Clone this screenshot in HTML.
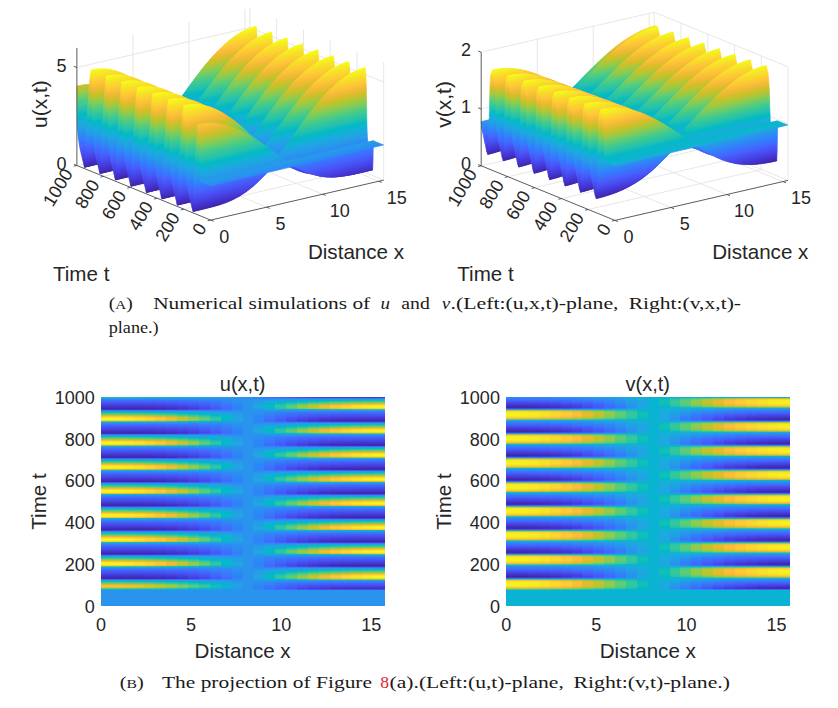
<!DOCTYPE html>
<html><head><meta charset="utf-8"><title>figure</title>
<style>html,body{margin:0;padding:0;background:#fff}svg{display:block}text{font-family:"Liberation Sans",sans-serif}text.s{font-family:"Liberation Serif",serif}</style></head>
<body><svg width="838" height="708" viewBox="0 0 838 708">
<defs>
<linearGradient id="uz" gradientUnits="userSpaceOnUse" x1="0" y1="0.07" x2="0" y2="5.3" gradientTransform="matrix(11.0 -2.6 0.0 -19.6 210.7 220.1)"><stop offset="0.000" stop-color="#3e26a8"/><stop offset="0.048" stop-color="#4332cb"/><stop offset="0.095" stop-color="#4741e5"/><stop offset="0.143" stop-color="#4852f4"/><stop offset="0.190" stop-color="#4563fd"/><stop offset="0.238" stop-color="#3875fe"/><stop offset="0.286" stop-color="#2e87f7"/><stop offset="0.333" stop-color="#2797eb"/><stop offset="0.381" stop-color="#20a5e3"/><stop offset="0.429" stop-color="#12b1d6"/><stop offset="0.476" stop-color="#02bac3"/><stop offset="0.524" stop-color="#24c1ae"/><stop offset="0.571" stop-color="#37c897"/><stop offset="0.619" stop-color="#57cc7a"/><stop offset="0.667" stop-color="#81cc59"/><stop offset="0.714" stop-color="#abc739"/><stop offset="0.762" stop-color="#d1bf27"/><stop offset="0.810" stop-color="#f0ba36"/><stop offset="0.857" stop-color="#fec338"/><stop offset="0.905" stop-color="#fad62d"/><stop offset="0.952" stop-color="#f5e924"/><stop offset="1.000" stop-color="#f9fb15"/></linearGradient>
<g id="uper"><polygon transform="translate(-15.42 -6.29)" points="210.7,173.6 217.4,172.1 224.0,170.8 230.7,169.7 237.3,168.7 244.0,167.9 250.6,167.2 257.3,166.7 263.9,166.3 270.6,166.0 277.2,165.8 283.9,165.6 290.5,165.5 297.1,165.4 303.8,168.0 310.4,170.4 317.1,172.5 323.7,174.0 330.4,174.9 337.0,175.2 343.7,175.0 350.3,174.3 357.0,173.2 363.6,171.9 370.2,170.4 376.9,168.8 383.5,167.3 383.4,170.4 376.8,172.0 370.1,173.5 363.5,175.0 356.9,176.3 350.2,177.3 343.6,177.9 336.9,177.9 330.3,177.3 323.6,176.1 317.0,174.1 310.3,171.6 303.7,168.6 297.0,165.4 290.4,165.2 283.8,165.0 277.1,164.9 270.5,164.8 263.8,164.9 257.2,165.0 250.5,165.4 243.9,165.8 237.2,166.5 230.6,167.3 223.9,168.4 217.3,169.6 210.7,171.1"/><polygon transform="translate(-15.19 -6.20)" points="210.9,182.0 217.5,180.4 224.2,178.9 230.8,177.5 237.5,176.1 244.1,174.8 250.8,173.5 257.4,172.3 264.0,171.1 270.7,169.9 277.3,168.8 284.0,167.7 290.6,166.6 297.3,165.5 303.9,165.9 310.6,166.2 317.2,166.3 323.9,166.2 330.5,165.8 337.2,165.2 343.8,164.2 350.4,163.1 357.1,161.7 363.7,160.3 370.4,158.8 377.0,157.2 383.7,155.6 383.3,167.2 376.7,168.7 370.0,170.3 363.4,171.8 356.7,173.1 350.1,174.2 343.4,174.9 336.8,175.1 330.1,174.8 323.5,173.9 316.8,172.4 310.2,170.3 303.6,167.9 296.9,165.3 290.3,165.4 283.6,165.5 277.0,165.7 270.3,165.9 263.7,166.2 257.0,166.6 250.4,167.1 243.7,167.8 237.1,168.6 230.5,169.6 223.8,170.7 217.2,172.0 210.5,173.5"/><polygon transform="translate(-14.78 -6.03)" points="210.9,188.5 217.6,186.9 224.2,185.3 230.9,183.7 237.5,182.1 244.1,180.5 250.8,178.8 257.4,177.1 264.1,175.3 270.7,173.5 277.4,171.5 284.0,169.6 290.7,167.5 297.3,165.5 304.0,163.8 310.6,162.1 317.2,160.4 323.9,158.7 330.5,157.0 337.2,155.3 343.8,153.7 350.5,152.0 357.1,150.4 363.8,148.8 370.4,147.2 377.1,145.6 383.7,144.0 383.3,155.5 376.6,157.0 370.0,158.6 363.3,160.1 356.7,161.6 350.0,162.9 343.4,164.1 336.8,165.0 330.1,165.7 323.5,166.1 316.8,166.2 310.2,166.0 303.5,165.7 296.9,165.3 290.2,166.4 283.6,167.5 276.9,168.6 270.3,169.8 263.6,170.9 257.0,172.1 250.4,173.4 243.7,174.6 237.1,176.0 230.4,177.4 223.8,178.8 217.1,180.3 210.5,181.8"/><polygon transform="translate(-14.30 -5.84)" points="211.0,193.6 217.6,192.0 224.3,190.4 230.9,188.8 237.6,187.2 244.2,185.5 250.8,183.6 257.5,181.6 264.1,179.3 270.8,176.9 277.4,174.3 284.1,171.5 290.7,168.5 297.4,165.5 304.0,162.4 310.7,159.4 317.3,156.4 323.9,153.5 330.6,150.6 337.2,147.9 343.9,145.2 350.5,142.7 357.2,140.4 363.8,138.2 370.5,136.2 377.1,134.4 383.8,132.7 383.2,143.8 376.6,145.4 369.9,147.0 363.3,148.6 356.6,150.2 350.0,151.8 343.3,153.5 336.7,155.1 330.1,156.8 323.4,158.5 316.8,160.2 310.1,161.9 303.5,163.6 296.8,165.3 290.2,167.3 283.5,169.4 276.9,171.3 270.2,173.3 263.6,175.1 257.0,176.9 250.3,178.6 243.7,180.3 237.0,181.9 230.4,183.5 223.7,185.1 217.1,186.7 210.4,188.3"/><polygon transform="translate(-13.62 -5.56)" points="211.1,199.0 217.8,197.4 224.4,195.8 231.0,194.2 237.7,192.5 244.3,190.6 251.0,188.6 257.6,186.2 264.3,183.5 270.9,180.5 277.6,177.1 284.2,173.5 290.9,169.6 297.5,165.5 304.1,161.1 310.8,156.7 317.4,152.4 324.1,148.3 330.7,144.2 337.4,140.4 344.0,136.8 350.7,133.5 357.3,130.5 364.0,127.7 370.6,125.3 377.3,123.2 383.9,121.5 383.1,132.4 376.4,134.1 369.8,135.9 363.1,137.9 356.5,140.1 349.8,142.5 343.2,145.0 336.6,147.6 329.9,150.3 323.3,153.2 316.6,156.1 310.0,159.1 303.3,162.2 296.7,165.2 290.0,168.2 283.4,171.2 276.7,174.0 270.1,176.6 263.5,179.1 256.8,181.3 250.2,183.3 243.5,185.2 236.9,186.9 230.2,188.6 223.6,190.2 216.9,191.8 210.3,193.3"/><polygon transform="translate(-12.78 -5.21)" points="211.1,203.0 217.8,201.5 224.4,199.9 231.1,198.2 237.7,196.5 244.4,194.5 251.0,192.3 257.7,189.7 264.3,186.7 270.9,183.2 277.6,179.3 284.2,175.0 290.9,170.3 297.5,165.6 304.2,159.8 310.8,154.0 317.5,148.4 324.1,143.0 330.8,137.8 337.4,132.8 344.0,128.3 350.7,124.1 357.3,120.3 364.0,117.0 370.6,114.2 377.3,111.8 383.9,110.0 383.1,121.1 376.4,122.9 369.8,124.9 363.1,127.4 356.5,130.1 349.8,133.2 343.2,136.5 336.5,140.1 329.9,143.9 323.2,147.9 316.6,152.1 310.0,156.4 303.3,160.8 296.7,165.2 290.0,169.2 283.4,173.1 276.7,176.8 270.1,180.2 263.4,183.2 256.8,185.9 250.1,188.2 243.5,190.3 236.8,192.2 230.2,193.9 223.6,195.5 216.9,197.1 210.3,198.6"/><polygon transform="translate(-11.97 -4.88)" points="211.1,206.1 217.7,204.5 224.4,202.9 231.0,201.3 237.7,199.5 244.3,197.5 251.0,195.1 257.6,192.3 264.2,189.1 270.9,185.2 277.5,180.9 284.2,176.1 290.8,170.9 297.5,165.5 304.1,158.4 310.8,151.3 317.4,144.3 324.1,137.6 330.7,131.3 337.3,125.3 344.0,119.7 350.6,114.7 357.3,110.2 363.9,106.3 370.6,103.1 377.2,100.5 383.9,98.6 383.1,109.7 376.5,111.5 369.8,113.8 363.2,116.7 356.5,120.0 349.9,123.8 343.2,127.9 336.6,132.5 329.9,137.4 323.3,142.6 316.7,148.1 310.0,153.7 303.4,159.4 296.7,165.2 290.1,170.0 283.4,174.6 276.8,179.0 270.1,182.9 263.5,186.4 256.8,189.4 250.2,192.0 243.6,194.2 236.9,196.1 230.3,197.9 223.6,199.5 217.0,201.1 210.3,202.7"/><polygon transform="translate(-11.22 -4.58)" points="211.1,209.0 217.7,207.4 224.4,205.8 231.0,204.1 237.7,202.3 244.3,200.2 250.9,197.8 257.6,194.8 264.2,191.3 270.9,187.2 277.5,182.4 284.2,177.1 290.8,171.4 297.5,165.5 304.1,157.0 310.8,148.5 317.4,140.2 324.0,132.3 330.7,124.7 337.3,117.6 344.0,111.1 350.6,105.2 357.3,100.0 363.9,95.5 370.6,91.9 377.2,89.1 383.9,87.1 383.1,98.3 376.5,100.2 369.8,102.8 363.2,106.0 356.5,109.9 349.9,114.4 343.2,119.4 336.6,125.0 330.0,130.9 323.3,137.3 316.7,144.0 310.0,151.0 303.4,158.1 296.7,165.2 290.1,170.6 283.4,175.8 276.8,180.6 270.1,184.9 263.5,188.8 256.9,192.0 250.2,194.8 243.6,197.2 236.9,199.2 230.3,201.0 223.6,202.6 217.0,204.2 210.3,205.8"/><polygon transform="translate(-10.14 -4.14)" points="211.4,214.5 218.1,212.9 224.7,211.3 231.3,209.7 238.0,207.8 244.6,205.6 251.3,202.9 257.9,199.6 264.6,195.7 271.2,190.9 277.9,185.4 284.5,179.2 291.2,172.6 297.8,165.7 304.5,155.7 311.1,145.9 317.7,136.3 324.4,127.1 331.0,118.3 337.7,110.1 344.3,102.6 351.0,95.9 357.6,89.9 364.3,84.9 370.9,80.8 377.6,77.8 384.2,75.7 382.8,86.6 376.1,88.6 369.5,91.4 362.8,95.1 356.2,99.6 349.5,104.8 342.9,110.6 336.3,117.2 329.6,124.3 323.0,131.8 316.3,139.8 309.7,148.1 303.0,156.5 296.4,165.1 289.7,171.0 283.1,176.7 276.4,182.0 269.8,186.7 263.2,190.9 256.5,194.4 249.9,197.3 243.2,199.8 236.6,201.9 229.9,203.7 223.3,205.4 216.6,207.0 210.0,208.5"/><polygon transform="translate(-9.01 -3.68)" points="211.1,218.1 217.8,216.6 224.4,215.0 231.1,213.2 237.7,211.3 244.4,209.0 251.0,206.2 257.6,202.7 264.3,198.4 270.9,193.3 277.6,187.3 284.2,180.5 290.9,173.2 297.5,165.6 304.2,156.6 310.8,147.8 317.5,139.2 324.1,130.9 330.7,123.1 337.4,115.7 344.0,108.9 350.7,102.8 357.3,97.4 364.0,92.8 370.6,89.1 377.3,86.2 383.9,84.2 383.1,75.2 376.4,77.3 369.8,80.4 363.1,84.5 356.5,89.5 349.8,95.4 343.2,102.1 336.5,109.7 329.9,117.8 323.3,126.6 316.6,135.8 310.0,145.4 303.3,155.2 296.7,165.2 290.0,172.1 283.4,178.8 276.7,184.9 270.1,190.4 263.4,195.2 256.8,199.2 250.1,202.4 243.5,205.1 236.9,207.3 230.2,209.2 223.6,210.9 216.9,212.5 210.3,214.1"/><polygon transform="translate(-8.39 -3.42)" points="210.9,218.8 217.5,217.2 224.2,215.6 230.8,213.9 237.5,212.0 244.1,209.7 250.8,206.8 257.4,203.3 264.1,198.9 270.7,193.7 277.3,187.6 284.0,180.7 290.6,173.2 297.3,165.5 303.9,157.9 310.6,150.5 317.2,143.2 323.9,136.2 330.5,129.5 337.2,123.2 343.8,117.4 350.5,112.1 357.1,107.5 363.7,103.4 370.4,100.1 377.0,97.4 383.7,95.5 383.3,83.9 376.6,85.9 370.0,88.8 363.4,92.6 356.7,97.2 350.1,102.6 343.4,108.7 336.8,115.4 330.1,122.8 323.5,130.7 316.8,139.0 310.2,147.6 303.5,156.4 296.9,165.3 290.3,172.9 283.6,180.2 277.0,187.0 270.3,193.0 263.7,198.2 257.0,202.5 250.4,206.0 243.7,208.8 237.1,211.1 230.4,213.0 223.8,214.7 217.2,216.3 210.5,217.9"/><polygon transform="translate(-8.18 -3.34)" points="210.7,218.4 217.4,216.9 224.0,215.3 230.7,213.5 237.3,211.6 243.9,209.3 250.6,206.5 257.2,203.0 263.9,198.6 270.5,193.4 277.2,187.3 283.8,180.5 290.5,173.1 297.1,165.4 303.8,158.0 310.4,150.8 317.0,143.7 323.7,136.8 330.3,130.3 337.0,124.1 343.6,118.5 350.3,113.3 356.9,108.8 363.6,104.8 370.2,101.5 376.9,98.9 383.5,97.0 383.5,95.4 376.8,97.3 370.2,100.0 363.5,103.3 356.9,107.4 350.2,112.0 343.6,117.3 337.0,123.1 330.3,129.4 323.7,136.1 317.0,143.1 310.4,150.4 303.7,157.8 297.1,165.4 290.4,173.1 283.8,180.6 277.1,187.5 270.5,193.6 263.8,198.8 257.2,203.2 250.6,206.7 243.9,209.6 237.3,211.9 230.6,213.8 224.0,215.5 217.3,217.1 210.7,218.7"/><polygon transform="translate(-8.08 -3.30)" points="210.8,216.8 217.4,215.3 224.1,213.7 230.7,212.0 237.4,210.0 244.0,207.8 250.7,205.0 257.3,201.6 263.9,197.4 270.6,192.4 277.2,186.5 283.9,179.9 290.5,172.8 297.2,165.4 303.8,159.5 310.5,153.6 317.1,147.8 323.8,142.3 330.4,137.0 337.1,131.9 343.7,127.3 350.3,123.0 357.0,119.2 363.6,115.8 370.3,112.9 376.9,110.6 383.6,108.7 383.4,96.9 376.8,98.9 370.1,101.5 363.5,104.8 356.8,108.7 350.2,113.3 343.5,118.4 336.9,124.1 330.2,130.2 323.6,136.8 316.9,143.6 310.3,150.7 303.7,158.0 297.0,165.3 290.4,173.1 283.7,180.5 277.1,187.3 270.4,193.4 263.8,198.6 257.1,202.9 250.5,206.5 243.8,209.3 237.2,211.6 230.6,213.5 223.9,215.2 217.3,216.8 210.6,218.4"/><polygon transform="translate(-7.92 -3.23)" points="210.8,213.6 217.4,212.1 224.1,210.5 230.7,208.8 237.4,206.9 244.0,204.7 250.6,202.1 257.3,198.8 263.9,194.9 270.6,190.2 277.2,184.8 283.9,178.8 290.5,172.2 297.2,165.4 303.8,160.9 310.5,156.5 317.1,152.2 323.8,148.0 330.4,143.9 337.0,140.1 343.7,136.4 350.3,133.1 357.0,130.0 363.6,127.2 370.3,124.8 376.9,122.7 383.6,121.0 383.4,108.7 376.8,110.5 370.1,112.9 363.5,115.7 356.8,119.1 350.2,122.9 343.5,127.2 336.9,131.9 330.2,136.9 323.6,142.2 317.0,147.8 310.3,153.5 303.7,159.4 297.0,165.3 290.4,172.8 283.7,179.9 277.1,186.4 270.4,192.3 263.8,197.3 257.1,201.5 250.5,204.9 243.9,207.7 237.2,210.0 230.6,211.9 223.9,213.6 217.3,215.2 210.6,216.8"/><polygon transform="translate(-7.74 -3.16)" points="210.8,208.3 217.4,206.8 224.1,205.2 230.7,203.5 237.4,201.7 244.0,199.6 250.7,197.2 257.3,194.3 264.0,190.8 270.6,186.7 277.3,182.0 283.9,176.8 290.5,171.2 297.2,165.4 303.8,162.4 310.5,159.3 317.1,156.3 323.8,153.4 330.4,150.5 337.1,147.8 343.7,145.1 350.4,142.6 357.0,140.3 363.7,138.1 370.3,136.1 376.9,134.3 383.6,132.6 383.4,120.9 376.7,122.6 370.1,124.7 363.5,127.2 356.8,129.9 350.2,133.0 343.5,136.4 336.9,140.0 330.2,143.8 323.6,147.9 316.9,152.1 310.3,156.4 303.6,160.9 297.0,165.3 290.3,172.1 283.7,178.7 277.1,184.8 270.4,190.2 263.8,194.8 257.1,198.8 250.5,202.0 243.8,204.6 237.2,206.8 230.5,208.7 223.9,210.4 217.2,212.0 210.6,213.6"/><polygon transform="translate(-7.46 -3.04)" points="210.9,196.6 217.5,195.1 224.2,193.5 230.8,191.9 237.5,190.2 244.1,188.4 250.8,186.4 257.4,184.2 264.0,181.7 270.7,178.9 277.3,175.9 284.0,172.6 290.6,169.1 297.3,165.5 303.9,163.4 310.6,161.3 317.2,159.3 323.9,157.3 330.5,155.3 337.2,153.4 343.8,151.4 350.4,149.6 357.1,147.7 363.7,146.0 370.4,144.3 377.0,142.6 383.7,141.0 383.3,132.5 376.7,134.1 370.0,136.0 363.4,138.0 356.7,140.2 350.1,142.5 343.4,145.0 336.8,147.6 330.1,150.4 323.5,153.3 316.8,156.2 310.2,159.2 303.6,162.2 296.9,165.3 290.3,171.1 283.6,176.7 277.0,181.9 270.3,186.6 263.7,190.7 257.0,194.2 250.4,197.1 243.7,199.5 237.1,201.6 230.5,203.4 223.8,205.1 217.2,206.7 210.5,208.2"/><polygon transform="translate(-7.06 -2.88)" points="210.9,185.0 217.6,183.4 224.2,181.9 230.9,180.3 237.5,178.8 244.1,177.3 250.8,175.8 257.4,174.3 264.1,172.8 270.7,171.3 277.4,169.9 284.0,168.4 290.7,166.9 297.3,165.5 304.0,164.4 310.6,163.2 317.2,162.1 323.9,160.9 330.5,159.6 337.2,158.2 343.8,156.8 350.5,155.3 357.1,153.8 363.8,152.2 370.4,150.7 377.1,149.1 383.7,147.5 383.3,140.8 376.6,142.4 370.0,144.1 363.3,145.8 356.7,147.6 350.0,149.4 343.4,151.3 336.8,153.2 330.1,155.1 323.5,157.1 316.8,159.1 310.2,161.2 303.5,163.2 296.9,165.3 290.2,168.9 283.6,172.4 276.9,175.7 270.3,178.8 263.6,181.5 257.0,184.0 250.4,186.2 243.7,188.2 237.1,190.0 230.4,191.7 223.8,193.3 217.1,194.9 210.5,196.5"/><polygon transform="translate(-6.56 -2.68)" points="211.0,173.4 217.6,171.9 224.3,170.6 230.9,169.5 237.6,168.5 244.2,167.8 250.9,167.1 257.5,166.6 264.1,166.2 270.8,166.0 277.4,165.8 284.1,165.6 290.7,165.6 297.4,165.5 304.0,165.4 310.7,165.2 317.3,164.9 324.0,164.4 330.6,163.7 337.2,162.8 343.9,161.7 350.5,160.4 357.2,159.0 363.8,157.5 370.5,156.0 377.1,154.4 383.8,152.8 383.2,147.3 376.6,148.9 369.9,150.5 363.3,152.0 356.6,153.6 350.0,155.1 343.3,156.6 336.7,158.0 330.0,159.4 323.4,160.6 316.8,161.9 310.1,163.0 303.5,164.2 296.8,165.3 290.2,166.7 283.5,168.2 276.9,169.7 270.2,171.1 263.6,172.6 256.9,174.1 250.3,175.6 243.7,177.1 237.0,178.6 230.4,180.1 223.7,181.7 217.1,183.2 210.4,184.8"/><polygon transform="translate(-5.88 -2.40)" points="211.1,162.2 217.8,160.8 224.4,159.7 231.0,159.0 237.7,158.6 244.3,158.5 251.0,158.7 257.6,159.2 264.3,159.9 270.9,160.8 277.6,161.8 284.2,163.0 290.9,164.2 297.5,165.5 304.1,166.4 310.8,167.2 317.4,167.8 324.1,168.0 330.7,167.9 337.4,167.4 344.0,166.6 350.7,165.6 357.3,164.3 364.0,162.9 370.6,161.3 377.3,159.8 383.9,158.2 383.1,152.6 376.4,154.1 369.8,155.7 363.1,157.2 356.5,158.7 349.8,160.1 343.2,161.4 336.6,162.5 329.9,163.4 323.3,164.1 316.6,164.6 310.0,164.9 303.3,165.1 296.7,165.2 290.0,165.3 283.4,165.4 276.7,165.5 270.1,165.7 263.5,166.0 256.8,166.3 250.2,166.8 243.5,167.5 236.9,168.3 230.2,169.2 223.6,170.3 216.9,171.6 210.3,173.1"/><polygon transform="translate(-5.03 -2.05)" points="211.1,150.7 217.8,149.4 224.4,148.6 231.1,148.3 237.7,148.5 244.4,149.1 251.0,150.2 257.7,151.6 264.3,153.4 270.9,155.5 277.6,157.8 284.2,160.3 290.9,162.9 297.5,165.6 304.2,167.2 310.8,168.7 317.5,169.9 324.1,170.7 330.8,171.0 337.4,170.9 344.0,170.3 350.7,169.4 357.3,168.2 364.0,166.9 370.6,165.4 377.3,163.8 383.9,162.2 383.1,157.9 376.4,159.4 369.8,161.0 363.1,162.5 356.5,163.9 349.8,165.2 343.2,166.3 336.5,167.1 329.9,167.5 323.2,167.6 316.6,167.4 310.0,166.9 303.3,166.1 296.7,165.2 290.0,163.9 283.4,162.6 276.7,161.5 270.1,160.4 263.4,159.5 256.8,158.8 250.1,158.4 243.5,158.2 236.8,158.3 230.2,158.7 223.6,159.4 216.9,160.4 210.3,161.8"/><polygon transform="translate(-4.22 -1.72)" points="211.1,139.3 217.7,138.0 224.4,137.5 231.0,137.6 237.7,138.3 244.3,139.7 251.0,141.6 257.6,144.0 264.2,146.9 270.9,150.1 277.5,153.7 284.2,157.5 290.8,161.5 297.5,165.5 304.1,167.8 310.8,169.8 317.4,171.5 324.1,172.7 330.7,173.4 337.3,173.5 344.0,173.2 350.6,172.4 357.3,171.2 363.9,169.9 370.6,168.4 377.2,166.9 383.9,165.3 383.1,161.9 376.5,163.5 369.8,165.0 363.2,166.5 356.5,167.9 349.9,169.1 343.2,170.0 336.6,170.6 329.9,170.7 323.3,170.3 316.7,169.6 310.0,168.4 303.4,166.9 296.7,165.2 290.1,162.5 283.4,159.9 276.8,157.4 270.1,155.1 263.5,153.0 256.8,151.3 250.2,149.8 243.6,148.8 236.9,148.1 230.3,148.0 223.6,148.3 217.0,149.1 210.3,150.4"/><polygon transform="translate(-3.48 -1.42)" points="211.1,127.8 217.7,126.6 224.4,126.3 231.0,126.8 237.7,128.1 244.3,130.2 250.9,133.0 257.6,136.4 264.2,140.3 270.9,144.8 277.5,149.6 284.2,154.7 290.8,160.1 297.5,165.5 304.1,168.3 310.8,170.9 317.4,173.0 324.0,174.6 330.7,175.6 337.3,176.0 344.0,175.8 350.6,175.1 357.3,174.1 363.9,172.8 370.6,171.3 377.2,169.7 383.9,168.2 383.1,165.0 376.5,166.5 369.8,168.1 363.2,169.6 356.5,170.9 349.9,172.1 343.2,172.9 336.6,173.2 330.0,173.1 323.3,172.4 316.7,171.2 310.0,169.5 303.4,167.5 296.7,165.2 290.1,161.2 283.4,157.2 276.8,153.4 270.1,149.8 263.5,146.6 256.9,143.7 250.2,141.3 243.6,139.4 236.9,138.0 230.3,137.3 223.6,137.2 217.0,137.7 210.3,139.0"/><polygon transform="translate(-2.41 -0.98)" points="211.4,116.5 218.0,115.5 224.7,115.4 231.3,116.3 238.0,118.2 244.6,121.0 251.3,124.6 257.9,129.0 264.6,134.0 271.2,139.6 277.9,145.7 284.5,152.2 291.2,158.9 297.8,165.7 304.4,169.4 311.1,173.0 317.7,176.0 324.4,178.3 331.0,179.9 337.7,180.8 344.3,180.9 351.0,180.4 357.6,179.5 364.3,178.2 370.9,176.8 377.5,175.2 384.2,173.6 382.8,167.7 376.1,169.3 369.5,170.9 362.8,172.3 356.2,173.6 349.6,174.7 342.9,175.4 336.3,175.6 329.6,175.2 323.0,174.2 316.3,172.6 309.7,170.4 303.0,167.9 296.4,165.1 289.7,159.6 283.1,154.3 276.5,149.2 269.8,144.3 263.2,139.9 256.5,135.9 249.9,132.5 243.2,129.8 236.6,127.7 229.9,126.4 223.3,125.9 216.6,126.2 210.0,127.3"/><polygon transform="translate(-1.29 -0.53)" points="211.1,124.6 217.8,123.4 224.4,123.2 231.1,123.8 237.7,125.3 244.3,127.6 251.0,130.6 257.6,134.3 264.3,138.5 270.9,143.3 277.6,148.5 284.2,154.0 290.9,159.7 297.5,165.6 304.2,170.0 310.8,174.2 317.4,177.8 324.1,180.6 330.7,182.7 337.4,183.8 344.0,184.1 350.7,183.8 357.3,183.0 364.0,181.7 370.6,180.3 377.3,178.8 383.9,177.2 383.1,173.2 376.4,174.8 369.8,176.3 363.1,177.8 356.5,179.0 349.8,180.0 343.2,180.4 336.5,180.3 329.9,179.5 323.3,177.9 316.6,175.5 310.0,172.5 303.3,169.0 296.7,165.2 290.0,158.4 283.4,151.7 276.7,145.3 270.1,139.2 263.4,133.5 256.8,128.5 250.2,124.1 243.5,120.5 236.9,117.7 230.2,115.9 223.6,114.9 216.9,115.0 210.3,116.1"/><polygon transform="translate(-0.67 -0.27)" points="210.9,136.0 217.5,134.8 224.2,134.3 230.8,134.6 237.5,135.5 244.1,137.0 250.8,139.1 257.4,141.8 264.1,145.0 270.7,148.6 277.4,152.5 284.0,156.7 290.6,161.0 297.3,165.5 303.9,170.1 310.6,174.4 317.2,178.2 323.9,181.1 330.5,183.2 337.2,184.5 343.8,184.8 350.5,184.6 357.1,183.7 363.8,182.5 370.4,181.1 377.0,179.5 383.7,178.0 383.3,176.9 376.6,178.5 370.0,180.0 363.3,181.5 356.7,182.7 350.1,183.6 343.4,183.9 336.8,183.5 330.1,182.4 323.5,180.4 316.8,177.5 310.2,173.9 303.5,169.8 296.9,165.3 290.2,159.5 283.6,153.7 277.0,148.2 270.3,143.0 263.7,138.3 257.0,134.0 250.4,130.3 243.7,127.3 237.1,125.1 230.4,123.6 223.8,123.0 217.1,123.2 210.5,124.3"/><polygon transform="translate(-0.38 -0.15)" points="210.8,147.8 217.4,146.5 224.1,145.7 230.7,145.5 237.4,145.8 244.0,146.6 250.7,147.9 257.3,149.6 264.0,151.6 270.6,154.0 277.2,156.6 283.9,159.4 290.5,162.4 297.2,165.4 303.8,169.8 310.5,173.8 317.1,177.3 323.8,180.1 330.4,182.0 337.1,183.1 343.7,183.4 350.4,183.1 357.0,182.2 363.6,181.0 370.3,179.5 376.9,178.0 383.6,176.4 383.4,177.8 376.7,179.4 370.1,180.9 363.5,182.4 356.8,183.6 350.2,184.4 343.5,184.7 336.9,184.3 330.2,183.1 323.6,181.0 316.9,178.0 310.3,174.3 303.6,170.0 297.0,165.3 290.4,160.9 283.7,156.6 277.1,152.4 270.4,148.5 263.8,144.9 257.1,141.7 250.5,139.0 243.8,136.9 237.2,135.3 230.5,134.4 223.9,134.2 217.3,134.7 210.6,135.9"/><polygon transform="translate(-0.21 -0.09)" points="210.8,159.8 217.4,158.4 224.1,157.4 230.7,156.8 237.4,156.5 244.0,156.6 250.6,156.9 257.3,157.6 263.9,158.5 270.6,159.6 277.2,160.9 283.9,162.3 290.5,163.8 297.2,165.4 303.8,169.2 310.5,172.7 317.1,175.7 323.8,178.0 330.4,179.6 337.0,180.4 343.7,180.5 350.3,180.1 357.0,179.1 363.6,177.9 370.3,176.4 376.9,174.9 383.6,173.3 383.4,176.3 376.8,177.9 370.1,179.4 363.5,180.9 356.8,182.1 350.2,183.0 343.5,183.3 336.9,183.0 330.2,181.9 323.6,180.0 317.0,177.2 310.3,173.7 303.7,169.7 297.0,165.3 290.4,162.3 283.7,159.4 277.1,156.6 270.4,153.9 263.8,151.6 257.1,149.5 250.5,147.8 243.9,146.6 237.2,145.8 230.6,145.5 223.9,145.7 217.3,146.4 210.6,147.7"/><polygon transform="translate(-0.07 -0.03)" points="210.8,171.1 217.4,169.7 224.1,168.4 230.7,167.4 237.3,166.5 244.0,165.9 250.6,165.4 257.3,165.1 263.9,164.9 270.6,164.9 277.2,164.9 283.9,165.0 290.5,165.2 297.2,165.4 303.8,168.6 310.5,171.6 317.1,174.2 323.7,176.1 330.4,177.4 337.0,178.0 343.7,177.9 350.3,177.3 357.0,176.3 363.6,175.0 370.3,173.6 376.9,172.0 383.6,170.5 383.4,173.2 376.8,174.8 370.1,176.3 363.5,177.8 356.8,179.1 350.2,180.0 343.5,180.5 336.9,180.4 330.3,179.5 323.6,177.9 317.0,175.6 310.3,172.6 303.7,169.1 297.0,165.4 290.4,163.8 283.7,162.3 277.1,160.8 270.4,159.6 263.8,158.4 257.2,157.5 250.5,156.9 243.9,156.5 237.2,156.5 230.6,156.7 223.9,157.4 217.3,158.4 210.6,159.8"/></g>
<linearGradient id="vz" gradientUnits="userSpaceOnUse" x1="0" y1="0.25" x2="0" y2="1.87" gradientTransform="matrix(11.0 -2.6 0.0 -56.8 615.0 220.4)"><stop offset="0.000" stop-color="#3e26a8"/><stop offset="0.048" stop-color="#4332cb"/><stop offset="0.095" stop-color="#4741e5"/><stop offset="0.143" stop-color="#4852f4"/><stop offset="0.190" stop-color="#4563fd"/><stop offset="0.238" stop-color="#3875fe"/><stop offset="0.286" stop-color="#2e87f7"/><stop offset="0.333" stop-color="#2797eb"/><stop offset="0.381" stop-color="#20a5e3"/><stop offset="0.429" stop-color="#12b1d6"/><stop offset="0.476" stop-color="#02bac3"/><stop offset="0.524" stop-color="#24c1ae"/><stop offset="0.571" stop-color="#37c897"/><stop offset="0.619" stop-color="#57cc7a"/><stop offset="0.667" stop-color="#81cc59"/><stop offset="0.714" stop-color="#abc739"/><stop offset="0.762" stop-color="#d1bf27"/><stop offset="0.810" stop-color="#f0ba36"/><stop offset="0.857" stop-color="#fec338"/><stop offset="0.905" stop-color="#fad62d"/><stop offset="0.952" stop-color="#f5e924"/><stop offset="1.000" stop-color="#f9fb15"/></linearGradient>
<g id="vper"><polygon transform="translate(-15.45 -6.31)" points="615.0,179.7 621.7,178.0 628.3,176.3 635.0,174.5 641.6,172.5 648.2,170.3 654.9,168.0 661.5,165.4 668.2,162.6 674.8,159.5 681.5,156.3 688.1,152.8 694.8,149.2 701.4,145.5 708.1,143.6 714.7,141.7 721.3,139.9 728.0,138.0 734.6,136.2 741.3,134.4 747.9,132.6 754.6,130.8 761.2,129.1 767.9,127.4 774.5,125.7 781.2,124.1 787.8,122.5 787.8,124.2 781.1,125.8 774.5,127.3 767.8,128.9 761.2,130.6 754.5,132.2 747.9,133.8 741.3,135.5 734.6,137.1 728.0,138.8 721.3,140.4 714.7,142.1 708.0,143.8 701.4,145.4 694.7,149.1 688.1,152.7 681.4,156.2 674.8,159.4 668.2,162.5 661.5,165.3 654.9,167.8 648.2,170.2 641.6,172.3 634.9,174.3 628.3,176.2 621.6,177.9 615.0,179.5"/><polygon transform="translate(-15.35 -6.26)" points="615.1,180.6 621.7,179.0 628.4,177.3 635.0,175.4 641.7,173.4 648.3,171.2 655.0,168.8 661.6,166.2 668.3,163.3 674.9,160.1 681.5,156.7 688.2,153.1 694.8,149.3 701.5,145.5 708.1,142.4 714.8,139.3 721.4,136.3 728.1,133.3 734.7,130.5 741.4,127.7 748.0,125.0 754.7,122.5 761.3,120.2 767.9,118.0 774.6,115.9 781.2,114.1 787.9,112.4 787.7,122.5 781.0,124.1 774.4,125.7 767.8,127.4 761.1,129.1 754.5,130.8 747.8,132.5 741.2,134.3 734.5,136.1 727.9,138.0 721.2,139.8 714.6,141.7 707.9,143.5 701.3,145.4 694.7,149.1 688.0,152.7 681.4,156.2 674.7,159.5 668.1,162.6 661.4,165.4 654.8,167.9 648.1,170.3 641.5,172.4 634.8,174.4 628.2,176.3 621.6,178.0 614.9,179.6"/><polygon transform="translate(-15.13 -6.17)" points="615.1,181.9 621.8,180.3 628.4,178.6 635.1,176.7 641.7,174.6 648.4,172.4 655.0,169.9 661.6,167.2 668.3,164.1 674.9,160.9 681.6,157.3 688.2,153.5 694.9,149.5 701.5,145.5 708.2,141.1 714.8,136.7 721.5,132.4 728.1,128.2 734.7,124.2 741.4,120.4 748.0,116.8 754.7,113.5 761.3,110.5 768.0,107.7 774.6,105.3 781.3,103.2 787.9,101.5 787.7,112.3 781.0,114.0 774.4,115.8 767.7,117.9 761.1,120.1 754.4,122.4 747.8,124.9 741.1,127.6 734.5,130.4 727.9,133.2 721.2,136.2 714.6,139.2 707.9,142.3 701.3,145.4 694.6,149.2 688.0,153.0 681.3,156.6 674.7,160.0 668.0,163.2 661.4,166.1 654.7,168.7 648.1,171.1 641.5,173.3 634.8,175.3 628.2,177.2 621.5,178.9 614.9,180.6"/><polygon transform="translate(-14.87 -6.07)" points="615.1,183.3 621.8,181.7 628.4,179.9 635.1,178.0 641.7,175.9 648.4,173.6 655.0,171.0 661.7,168.2 668.3,165.1 674.9,161.6 681.6,157.9 688.2,153.9 694.9,149.8 701.5,145.5 708.2,139.8 714.8,134.2 721.5,128.6 728.1,123.3 734.8,118.2 741.4,113.4 748.0,108.9 754.7,104.7 761.3,101.0 768.0,97.7 774.6,94.9 781.3,92.6 787.9,90.8 787.7,101.4 781.0,103.1 774.4,105.2 767.7,107.6 761.1,110.4 754.4,113.4 747.8,116.7 741.1,120.3 734.5,124.1 727.8,128.1 721.2,132.3 714.6,136.6 707.9,141.0 701.3,145.4 694.6,149.4 688.0,153.4 681.3,157.2 674.7,160.7 668.0,164.0 661.4,167.0 654.7,169.8 648.1,172.3 641.4,174.5 634.8,176.6 628.2,178.5 621.5,180.2 614.9,181.8"/><polygon transform="translate(-14.49 -5.91)" points="615.2,185.5 621.9,183.9 628.5,182.1 635.2,180.1 641.8,178.0 648.5,175.6 655.1,172.9 661.8,169.9 668.4,166.6 675.1,162.9 681.7,158.9 688.3,154.6 695.0,150.1 701.6,145.6 708.3,138.6 714.9,131.8 721.6,125.1 728.2,118.6 734.9,112.4 741.5,106.6 748.2,101.3 754.8,96.4 761.4,92.0 768.1,88.3 774.7,85.1 781.4,82.6 788.0,80.7 787.5,90.7 780.9,92.5 774.3,94.8 767.6,97.6 761.0,100.9 754.3,104.6 747.7,108.7 741.0,113.2 734.4,118.0 727.7,123.1 721.1,128.5 714.4,134.0 707.8,139.7 701.2,145.4 694.5,149.6 687.9,153.8 681.2,157.7 674.6,161.5 667.9,164.9 661.3,168.1 654.6,170.9 648.0,173.4 641.3,175.8 634.7,177.8 628.0,179.8 621.4,181.5 614.8,183.2"/><polygon transform="translate(-13.31 -5.43)" points="615.9,194.6 622.6,193.0 629.2,191.1 635.9,188.9 642.5,186.5 649.2,183.7 655.8,180.6 662.5,176.9 669.1,172.8 675.7,168.2 682.4,163.1 689.0,157.6 695.7,151.8 702.3,145.8 709.0,138.2 715.6,130.6 722.3,123.2 728.9,116.1 735.6,109.3 742.2,102.9 748.9,97.0 755.5,91.7 762.1,86.9 768.8,82.9 775.4,79.5 782.1,76.8 788.7,74.9 786.9,80.2 780.2,82.1 773.6,84.6 766.9,87.8 760.3,91.6 753.6,95.9 747.0,100.8 740.3,106.2 733.7,112.0 727.0,118.1 720.4,124.6 713.7,131.3 707.1,138.1 700.5,145.1 693.8,149.7 687.2,154.1 680.5,158.4 673.9,162.4 667.2,166.1 660.6,169.4 653.9,172.4 647.3,175.1 640.6,177.5 634.0,179.7 627.4,181.6 620.7,183.4 614.1,185.1"/><polygon transform="translate(-12.30 -5.02)" points="615.1,195.1 621.7,193.4 628.4,191.5 635.0,189.3 641.7,186.9 648.3,184.1 654.9,180.8 661.6,177.2 668.2,173.0 674.9,168.3 681.5,163.1 688.2,157.5 694.8,151.6 701.5,145.5 708.1,137.8 714.8,130.3 721.4,122.9 728.1,115.8 734.7,109.0 741.3,102.7 748.0,96.8 754.6,91.5 761.3,86.8 767.9,82.7 774.6,79.3 781.2,76.7 787.9,74.7 787.7,74.5 781.1,76.4 774.4,79.1 767.8,82.4 761.1,86.5 754.5,91.3 747.8,96.6 741.2,102.5 734.5,108.9 727.9,115.6 721.3,122.8 714.6,130.2 708.0,137.8 701.3,145.4 694.7,151.4 688.0,157.2 681.4,162.7 674.7,167.8 668.1,172.4 661.4,176.5 654.8,180.1 648.2,183.3 641.5,186.1 634.9,188.5 628.2,190.7 621.6,192.6 614.9,194.2"/><polygon transform="translate(-11.29 -4.61)" points="615.9,203.8 622.6,202.1 629.2,200.1 635.9,197.8 642.5,195.0 649.2,191.9 655.8,188.2 662.5,183.9 669.1,179.0 675.7,173.3 682.4,167.1 689.0,160.4 695.7,153.2 702.3,145.8 709.0,139.2 715.6,132.6 722.3,126.2 728.9,120.0 735.6,114.1 742.2,108.5 748.9,103.3 755.5,98.6 762.1,94.4 768.8,90.8 775.4,87.7 782.1,85.2 788.7,83.3 786.9,74.3 780.2,76.3 773.6,78.9 766.9,82.3 760.3,86.4 753.6,91.1 747.0,96.4 740.3,102.3 733.7,108.6 727.0,115.4 720.4,122.5 713.7,129.9 707.1,137.4 700.5,145.1 693.8,151.1 687.2,157.1 680.5,162.7 673.9,167.9 667.2,172.6 660.6,176.7 653.9,180.4 647.3,183.7 640.6,186.5 634.0,188.9 627.4,191.1 620.7,193.0 614.1,194.6"/><polygon transform="translate(-10.00 -4.08)" points="615.4,205.5 622.0,203.8 628.6,201.8 635.3,199.4 641.9,196.7 648.6,193.4 655.2,189.6 661.9,185.2 668.5,180.1 675.2,174.2 681.8,167.8 688.5,160.7 695.1,153.3 701.7,145.6 708.4,140.2 715.0,134.8 721.7,129.6 728.3,124.5 735.0,119.7 741.6,115.1 748.3,110.8 754.9,106.8 761.6,103.3 768.2,100.1 774.8,97.4 781.5,95.1 788.1,93.3 787.4,82.8 780.8,84.7 774.1,87.2 767.5,90.2 760.9,93.9 754.2,98.1 747.6,102.8 740.9,108.0 734.3,113.5 727.6,119.5 721.0,125.7 714.3,132.1 707.7,138.7 701.0,145.3 694.4,152.7 687.8,159.8 681.1,166.6 674.5,172.8 667.8,178.4 661.2,183.4 654.5,187.7 647.9,191.4 641.2,194.5 634.6,197.2 627.9,199.5 621.3,201.5 614.6,203.3"/><polygon transform="translate(-9.47 -3.86)" points="615.2,206.3 621.8,204.6 628.5,202.5 635.1,200.1 641.8,197.4 648.4,194.1 655.1,190.2 661.7,185.7 668.3,180.5 675.0,174.6 681.6,168.0 688.3,160.9 694.9,153.3 701.6,145.5 708.2,141.3 714.9,137.2 721.5,133.1 728.2,129.2 734.8,125.4 741.5,121.7 748.1,118.3 754.7,115.1 761.4,112.2 768.0,109.6 774.7,107.2 781.3,105.2 788.0,103.5 787.6,93.1 781.0,94.9 774.3,97.2 767.7,99.9 761.0,103.1 754.4,106.6 747.7,110.6 741.1,114.8 734.4,119.4 727.8,124.3 721.1,129.4 714.5,134.6 707.9,140.0 701.2,145.4 694.6,153.0 687.9,160.5 681.3,167.5 674.6,174.0 668.0,179.8 661.3,185.0 654.7,189.4 648.0,193.2 641.4,196.4 634.8,199.2 628.1,201.6 621.5,203.6 614.8,205.3"/><polygon transform="translate(-9.17 -3.74)" points="615.1,205.3 621.8,203.6 628.4,201.6 635.0,199.2 641.7,196.4 648.3,193.2 655.0,189.4 661.6,185.0 668.3,179.9 674.9,174.1 681.6,167.6 688.2,160.6 694.9,153.1 701.5,145.5 708.1,142.2 714.8,139.0 721.4,135.8 728.1,132.6 734.7,129.6 741.4,126.7 748.0,123.9 754.7,121.3 761.3,118.8 768.0,116.6 774.6,114.5 781.3,112.6 787.9,110.9 787.7,103.3 781.0,105.1 774.4,107.1 767.7,109.5 761.1,112.1 754.5,115.0 747.8,118.2 741.2,121.6 734.5,125.3 727.9,129.1 721.2,133.0 714.6,137.1 707.9,141.2 701.3,145.4 694.6,153.2 688.0,160.8 681.3,167.9 674.7,174.5 668.1,180.4 661.4,185.6 654.8,190.1 648.1,194.0 641.5,197.2 634.8,200.0 628.2,202.4 621.5,204.4 614.9,206.2"/><polygon transform="translate(-8.92 -3.64)" points="615.1,202.6 621.8,200.9 628.4,198.9 635.1,196.6 641.7,193.9 648.4,190.8 655.0,187.2 661.7,182.9 668.3,178.1 675.0,172.5 681.6,166.4 688.2,159.8 694.9,152.7 701.5,145.5 708.2,143.5 714.8,141.5 721.5,139.6 728.1,137.6 734.8,135.7 741.4,133.8 748.1,131.9 754.7,130.1 761.3,128.3 768.0,126.5 774.6,124.8 781.3,123.2 787.9,121.6 787.6,110.8 781.0,112.5 774.4,114.4 767.7,116.5 761.1,118.7 754.4,121.2 747.8,123.8 741.1,126.6 734.5,129.5 727.8,132.5 721.2,135.7 714.5,138.9 707.9,142.1 701.3,145.4 694.6,153.0 688.0,160.5 681.3,167.5 674.7,174.0 668.0,179.8 661.4,184.9 654.7,189.3 648.1,193.1 641.4,196.3 634.8,199.1 628.1,201.5 621.5,203.5 614.9,205.2"/><polygon transform="translate(-8.57 -3.50)" points="615.2,193.9 621.9,192.2 628.5,190.4 635.1,188.2 641.8,185.8 648.4,183.1 655.1,179.9 661.7,176.3 668.4,172.2 675.0,167.6 681.7,162.6 688.3,157.2 695.0,151.4 701.6,145.5 708.2,145.0 714.9,144.5 721.5,143.9 728.2,143.2 734.8,142.4 741.5,141.4 748.1,140.3 754.8,139.2 761.4,137.9 768.1,136.5 774.7,135.1 781.4,133.6 788.0,132.0 787.6,121.5 780.9,123.0 774.3,124.7 767.6,126.4 761.0,128.1 754.4,129.9 747.7,131.8 741.1,133.6 734.4,135.5 727.8,137.5 721.1,139.4 714.5,141.4 707.8,143.4 701.2,145.4 694.5,152.6 687.9,159.6 681.2,166.3 674.6,172.4 668.0,177.9 661.3,182.8 654.7,187.0 648.0,190.7 641.4,193.8 634.7,196.5 628.1,198.8 621.4,200.8 614.8,202.5"/><polygon transform="translate(-8.24 -3.36)" points="615.1,183.7 621.8,182.1 628.4,180.3 635.1,178.4 641.7,176.3 648.4,174.0 655.0,171.4 661.6,168.5 668.3,165.4 674.9,161.9 681.6,158.1 688.2,154.0 694.9,149.8 701.5,145.5 708.2,145.5 714.8,145.5 721.5,145.4 728.1,145.1 734.7,144.6 741.4,144.0 748.0,143.2 754.7,142.2 761.3,141.1 768.0,139.8 774.6,138.5 781.3,137.0 787.9,135.5 787.7,131.9 781.0,133.5 774.4,134.9 767.7,136.4 761.1,137.7 754.4,139.0 747.8,140.2 741.1,141.3 734.5,142.2 727.9,143.0 721.2,143.7 714.6,144.4 707.9,144.9 701.3,145.4 694.6,151.3 688.0,157.0 681.3,162.5 674.7,167.5 668.0,172.1 661.4,176.2 654.7,179.8 648.1,182.9 641.5,185.7 634.8,188.1 628.2,190.2 621.5,192.1 614.9,193.8"/><polygon transform="translate(-7.99 -3.26)" points="615.1,173.0 621.8,171.4 628.4,169.7 635.1,168.0 641.7,166.2 648.3,164.4 655.0,162.4 661.6,160.3 668.3,158.1 674.9,155.8 681.6,153.3 688.2,150.8 694.9,148.2 701.5,145.5 708.2,145.8 714.8,146.1 721.4,146.3 728.1,146.2 734.7,146.0 741.4,145.5 748.0,144.9 754.7,144.0 761.3,143.0 768.0,141.8 774.6,140.4 781.3,139.0 787.9,137.5 787.7,135.4 781.0,136.9 774.4,138.4 767.7,139.7 761.1,141.0 754.4,142.1 747.8,143.1 741.2,143.9 734.5,144.5 727.9,145.0 721.2,145.3 714.6,145.4 707.9,145.4 701.3,145.4 694.6,149.7 688.0,154.0 681.3,158.0 674.7,161.8 668.0,165.3 661.4,168.4 654.8,171.3 648.1,173.9 641.5,176.2 634.8,178.3 628.2,180.2 621.5,182.0 614.9,183.6"/><polygon transform="translate(-7.79 -3.18)" points="615.1,162.8 621.7,161.3 628.4,159.8 635.0,158.3 641.7,156.9 648.3,155.5 655.0,154.2 661.6,152.9 668.3,151.6 674.9,150.3 681.5,149.1 688.2,147.9 694.8,146.7 701.5,145.5 708.1,146.1 714.8,146.5 721.4,146.9 728.1,147.0 734.7,147.0 741.4,146.6 748.0,146.1 754.7,145.3 761.3,144.3 767.9,143.1 774.6,141.8 781.2,140.4 787.9,138.9 787.7,137.4 781.0,138.9 774.4,140.3 767.8,141.7 761.1,142.9 754.5,143.9 747.8,144.8 741.2,145.5 734.5,145.9 727.9,146.1 721.2,146.2 714.6,146.0 707.9,145.8 701.3,145.4 694.7,148.1 688.0,150.7 681.4,153.2 674.7,155.7 668.1,158.0 661.4,160.2 654.8,162.3 648.1,164.3 641.5,166.2 634.8,167.9 628.2,169.7 621.6,171.3 614.9,172.9"/><polygon transform="translate(-7.60 -3.10)" points="615.1,152.7 621.7,151.2 628.4,150.0 635.0,148.9 641.7,147.9 648.3,147.2 655.0,146.6 661.6,146.2 668.3,145.8 674.9,145.6 681.5,145.5 688.2,145.5 694.8,145.5 701.5,145.5 708.1,146.2 714.8,146.8 721.4,147.3 728.1,147.6 734.7,147.6 741.4,147.3 748.0,146.8 754.7,146.1 761.3,145.2 767.9,144.0 774.6,142.8 781.2,141.4 787.9,139.9 787.7,138.8 781.0,140.4 774.4,141.8 767.8,143.1 761.1,144.2 754.5,145.2 747.8,146.0 741.2,146.6 734.5,146.9 727.9,147.0 721.2,146.8 714.6,146.5 707.9,146.0 701.3,145.4 694.7,146.6 688.0,147.8 681.4,149.0 674.7,150.3 668.1,151.5 661.4,152.8 654.8,154.1 648.1,155.5 641.5,156.8 634.8,158.3 628.2,159.7 621.6,161.2 614.9,162.8"/><polygon transform="translate(-7.39 -3.02)" points="615.1,142.6 621.8,141.2 628.4,140.1 635.1,139.4 641.7,139.0 648.3,138.9 655.0,139.0 661.6,139.5 668.3,140.1 674.9,140.9 681.6,141.9 688.2,143.1 694.9,144.3 701.5,145.5 708.2,146.4 714.8,147.2 721.4,147.8 728.1,148.3 734.7,148.4 741.4,148.3 748.0,147.9 754.7,147.2 761.3,146.3 768.0,145.2 774.6,144.0 781.3,142.6 787.9,141.1 787.7,139.8 781.0,141.3 774.4,142.7 767.7,144.0 761.1,145.1 754.4,146.0 747.8,146.8 741.2,147.3 734.5,147.5 727.9,147.5 721.2,147.2 714.6,146.7 707.9,146.1 701.3,145.4 694.6,145.4 688.0,145.4 681.3,145.4 674.7,145.6 668.0,145.8 661.4,146.1 654.8,146.5 648.1,147.1 641.5,147.9 634.8,148.8 628.2,149.9 621.5,151.2 614.9,152.6"/><polygon transform="translate(-7.14 -2.91)" points="615.1,131.8 621.8,130.5 628.4,129.6 635.1,129.3 641.7,129.4 648.4,130.0 655.0,130.9 661.7,132.3 668.3,134.0 674.9,135.9 681.6,138.1 688.2,140.5 694.9,143.0 701.5,145.5 708.2,146.6 714.8,147.6 721.5,148.5 728.1,149.0 734.8,149.3 741.4,149.3 748.0,149.0 754.7,148.4 761.3,147.6 768.0,146.6 774.6,145.3 781.3,144.0 787.9,142.4 787.7,141.0 781.0,142.5 774.4,143.9 767.7,145.1 761.1,146.2 754.4,147.1 747.8,147.8 741.1,148.2 734.5,148.3 727.8,148.2 721.2,147.7 714.6,147.1 707.9,146.3 701.3,145.4 694.6,144.2 688.0,143.0 681.3,141.8 674.7,140.8 668.0,140.0 661.4,139.4 654.7,138.9 648.1,138.8 641.4,138.9 634.8,139.3 628.2,140.0 621.5,141.1 614.9,142.5"/><polygon transform="translate(-6.77 -2.76)" points="615.2,121.7 621.9,120.4 628.5,119.8 635.2,119.8 641.8,120.4 648.5,121.6 655.1,123.4 661.8,125.6 668.4,128.2 675.1,131.2 681.7,134.5 688.3,138.1 695.0,141.8 701.6,145.6 708.3,147.0 714.9,148.3 721.6,149.5 728.2,150.3 734.9,150.9 741.5,151.0 748.2,150.9 754.8,150.4 761.4,149.7 768.1,148.7 774.7,147.5 781.4,146.2 788.0,144.7 787.5,142.3 780.9,143.8 774.3,145.2 767.6,146.4 761.0,147.4 754.3,148.3 747.7,148.9 741.0,149.2 734.4,149.2 727.7,148.9 721.1,148.3 714.4,147.5 707.8,146.5 701.2,145.4 694.5,142.8 687.9,140.3 681.2,138.0 674.6,135.8 667.9,133.8 661.3,132.1 654.6,130.8 648.0,129.8 641.3,129.3 634.7,129.1 628.0,129.5 621.4,130.3 614.8,131.6"/><polygon transform="translate(-5.59 -2.28)" points="615.9,115.7 622.6,114.5 629.2,114.0 635.9,114.3 642.5,115.2 649.2,116.8 655.8,119.0 662.5,121.7 669.1,125.0 675.7,128.6 682.4,132.6 689.0,136.9 695.7,141.3 702.3,145.8 709.0,148.6 715.6,151.3 722.3,153.6 728.9,155.6 735.6,157.1 742.2,158.0 748.9,158.5 755.5,158.6 762.1,158.2 768.8,157.5 775.4,156.5 782.1,155.2 788.7,153.8 786.9,144.2 780.2,145.7 773.6,147.0 766.9,148.2 760.3,149.2 753.6,149.9 747.0,150.4 740.3,150.6 733.7,150.4 727.0,149.8 720.4,149.0 713.7,147.9 707.1,146.5 700.5,145.1 693.8,141.3 687.2,137.6 680.5,134.1 673.9,130.8 667.2,127.7 660.6,125.1 653.9,122.9 647.3,121.2 640.6,120.0 634.0,119.3 627.4,119.3 620.7,119.9 614.1,121.2"/><polygon transform="translate(-4.57 -1.87)" points="615.1,115.6 621.7,114.4 628.4,113.9 635.0,114.1 641.7,115.0 648.3,116.6 654.9,118.8 661.6,121.5 668.2,124.7 674.9,128.4 681.5,132.3 688.2,136.6 694.8,141.0 701.5,145.5 708.1,148.4 714.8,151.2 721.4,153.6 728.1,155.7 734.7,157.2 741.3,158.3 748.0,158.8 754.6,158.9 761.3,158.6 767.9,157.9 774.6,156.9 781.2,155.7 787.9,154.2 787.7,153.4 781.1,154.8 774.4,156.1 767.8,157.1 761.1,157.8 754.5,158.2 747.8,158.1 741.2,157.6 734.5,156.7 727.9,155.2 721.3,153.2 714.6,150.9 708.0,148.2 701.3,145.4 694.7,140.9 688.0,136.5 681.4,132.2 674.7,128.2 668.1,124.6 661.4,121.3 654.8,118.6 648.2,116.4 641.5,114.8 634.9,113.9 628.2,113.6 621.6,114.1 614.9,115.3"/><polygon transform="translate(-3.56 -1.45)" points="615.9,124.1 622.6,122.8 629.2,122.2 635.9,122.1 642.5,122.7 649.2,123.7 655.8,125.3 662.5,127.3 669.1,129.7 675.7,132.5 682.4,135.6 689.0,138.9 695.7,142.3 702.3,145.8 709.0,150.1 715.6,154.1 722.3,157.7 728.9,160.8 735.6,163.2 742.2,165.0 748.9,166.2 755.5,166.7 762.1,166.7 768.8,166.3 775.4,165.5 782.1,164.3 788.7,162.9 786.9,153.8 780.2,155.2 773.6,156.5 766.9,157.5 760.3,158.2 753.6,158.5 747.0,158.4 740.3,157.9 733.7,156.8 727.0,155.3 720.4,153.2 713.7,150.8 707.1,148.0 700.5,145.1 693.8,140.6 687.2,136.2 680.5,131.9 673.9,128.0 667.2,124.3 660.6,121.1 653.9,118.4 647.3,116.2 640.6,114.6 634.0,113.7 627.4,113.5 620.7,113.9 614.1,115.1"/><polygon transform="translate(-2.27 -0.93)" points="615.4,134.0 622.0,132.7 628.6,131.8 635.3,131.4 641.9,131.4 648.6,131.8 655.2,132.6 661.9,133.8 668.5,135.3 675.2,137.0 681.8,139.0 688.5,141.1 695.1,143.3 701.7,145.6 708.4,150.1 715.0,154.4 721.7,158.3 728.3,161.7 735.0,164.3 741.6,166.3 748.3,167.6 754.9,168.3 761.6,168.4 768.2,168.0 774.8,167.2 781.5,166.1 788.1,164.7 787.4,162.4 780.8,163.8 774.1,165.0 767.5,165.8 760.9,166.2 754.2,166.2 747.6,165.7 740.9,164.5 734.3,162.7 727.6,160.2 721.0,157.2 714.3,153.5 707.7,149.5 701.0,145.3 694.4,141.8 687.8,138.4 681.1,135.1 674.5,132.0 667.8,129.2 661.2,126.8 654.5,124.8 647.9,123.2 641.2,122.1 634.6,121.6 627.9,121.7 621.3,122.3 614.6,123.6"/><polygon transform="translate(-1.74 -0.71)" points="615.2,144.1 621.8,142.7 628.5,141.6 635.1,140.8 641.8,140.3 648.4,140.1 655.1,140.2 661.7,140.4 668.3,141.0 675.0,141.6 681.6,142.5 688.3,143.4 694.9,144.5 701.6,145.5 708.2,150.2 714.9,154.6 721.5,158.6 728.2,162.0 734.8,164.8 741.5,166.9 748.1,168.2 754.7,168.9 761.4,169.1 768.0,168.7 774.7,168.0 781.3,166.8 788.0,165.4 787.6,164.5 781.0,165.9 774.3,167.0 767.7,167.8 761.0,168.2 754.4,168.1 747.7,167.4 741.1,166.1 734.4,164.1 727.8,161.4 721.1,158.1 714.5,154.2 707.9,149.9 701.2,145.4 694.6,143.1 687.9,140.9 681.3,138.7 674.6,136.8 668.0,135.1 661.3,133.6 654.7,132.4 648.0,131.6 641.4,131.2 634.8,131.2 628.1,131.6 621.5,132.5 614.8,133.8"/><polygon transform="translate(-1.45 -0.59)" points="615.1,151.5 621.8,150.1 628.4,148.8 635.0,147.8 641.7,146.9 648.3,146.2 655.0,145.7 661.6,145.4 668.3,145.2 674.9,145.1 681.6,145.1 688.2,145.2 694.9,145.3 701.5,145.5 708.1,150.0 714.8,154.3 721.4,158.2 728.1,161.5 734.7,164.2 741.4,166.1 748.0,167.4 754.7,168.1 761.3,168.2 768.0,167.8 774.6,167.0 781.3,165.9 787.9,164.5 787.7,165.3 781.0,166.7 774.4,167.8 767.7,168.6 761.1,168.9 754.5,168.8 747.8,168.1 741.2,166.7 734.5,164.7 727.9,161.9 721.2,158.5 714.6,154.5 707.9,150.1 701.3,145.4 694.6,144.3 688.0,143.3 681.3,142.4 674.7,141.5 668.1,140.8 661.4,140.3 654.8,140.0 648.1,140.0 641.5,140.2 634.8,140.7 628.2,141.5 621.5,142.5 614.9,144.0"/><polygon transform="translate(-1.20 -0.49)" points="615.1,161.7 621.8,160.2 628.4,158.7 635.1,157.3 641.7,155.9 648.4,154.6 655.0,153.4 661.7,152.2 668.3,151.0 674.9,149.8 681.6,148.7 688.2,147.6 694.9,146.6 701.5,145.5 708.2,149.7 714.8,153.6 721.5,157.2 728.1,160.2 734.8,162.6 741.4,164.4 748.0,165.5 754.7,166.0 761.3,166.0 768.0,165.6 774.6,164.8 781.3,163.6 787.9,162.2 787.7,164.4 781.0,165.8 774.4,166.9 767.7,167.7 761.1,168.1 754.4,168.0 747.8,167.3 741.1,166.0 734.5,164.1 727.8,161.4 721.2,158.1 714.6,154.2 707.9,149.9 701.3,145.4 694.6,145.2 688.0,145.1 681.3,145.0 674.7,145.0 668.0,145.1 661.4,145.3 654.7,145.6 648.1,146.1 641.4,146.8 634.8,147.7 628.2,148.7 621.5,150.0 614.9,151.4"/><polygon transform="translate(-0.87 -0.35)" points="615.2,172.2 621.8,170.6 628.5,169.0 635.1,167.3 641.8,165.5 648.4,163.7 655.1,161.8 661.7,159.7 668.4,157.6 675.0,155.4 681.7,153.0 688.3,150.6 694.9,148.1 701.6,145.5 708.2,148.5 714.9,151.4 721.5,153.9 728.2,156.0 734.8,157.6 741.5,158.7 748.1,159.3 754.8,159.4 761.4,159.0 768.1,158.4 774.7,157.4 781.3,156.2 788.0,154.7 787.6,162.0 780.9,163.5 774.3,164.6 767.6,165.4 761.0,165.9 754.4,165.9 747.7,165.4 741.1,164.2 734.4,162.5 727.8,160.1 721.1,157.0 714.5,153.5 707.8,149.5 701.2,145.4 694.5,146.4 687.9,147.5 681.3,148.6 674.6,149.7 668.0,150.8 661.3,152.0 654.7,153.2 648.0,154.5 641.4,155.8 634.7,157.2 628.1,158.6 621.4,160.1 614.8,161.6"/><polygon transform="translate(-0.54 -0.22)" points="615.1,176.0 621.8,174.4 628.4,172.7 635.1,170.9 641.7,169.0 648.4,167.0 655.0,164.9 661.6,162.6 668.3,160.1 674.9,157.5 681.6,154.7 688.2,151.7 694.9,148.6 701.5,145.5 708.2,146.9 714.8,148.3 721.5,149.4 728.1,150.2 734.7,150.7 741.4,150.9 748.0,150.8 754.7,150.3 761.3,149.5 768.0,148.6 774.6,147.4 781.3,146.0 787.9,144.5 787.7,154.6 781.0,156.0 774.4,157.3 767.7,158.2 761.1,158.9 754.4,159.2 747.8,159.1 741.1,158.6 734.5,157.5 727.9,155.9 721.2,153.8 714.6,151.2 707.9,148.4 701.3,145.4 694.6,147.9 688.0,150.4 681.3,152.9 674.7,155.2 668.0,157.5 661.4,159.6 654.7,161.6 648.1,163.6 641.5,165.4 634.8,167.2 628.2,168.9 621.5,170.5 614.9,172.1"/><polygon transform="translate(-0.30 -0.12)" points="615.1,178.0 621.8,176.4 628.4,174.7 635.1,172.8 641.7,170.9 648.3,168.8 655.0,166.6 661.6,164.1 668.3,161.5 674.9,158.6 681.6,155.5 688.2,152.3 694.9,148.9 701.5,145.5 708.2,145.4 714.8,145.2 721.4,144.9 728.1,144.5 734.7,143.9 741.4,143.2 748.0,142.3 754.7,141.2 761.3,140.0 768.0,138.7 774.6,137.4 781.3,135.9 787.9,134.4 787.7,144.4 781.0,145.9 774.4,147.3 767.7,148.5 761.1,149.4 754.4,150.2 747.8,150.7 741.2,150.8 734.5,150.6 727.9,150.1 721.2,149.3 714.6,148.2 707.9,146.8 701.3,145.4 694.6,148.5 688.0,151.6 681.3,154.6 674.7,157.4 668.0,160.0 661.4,162.5 654.8,164.8 648.1,166.9 641.5,168.9 634.8,170.8 628.2,172.6 621.5,174.3 614.9,175.9"/><polygon transform="translate(-0.09 -0.04)" points="615.1,179.5 621.7,177.9 628.4,176.2 635.0,174.4 641.7,172.4 648.3,170.2 655.0,167.9 661.6,165.3 668.3,162.5 674.9,159.5 681.5,156.2 688.2,152.8 694.8,149.2 701.5,145.5 708.1,143.8 714.8,142.1 721.4,140.5 728.1,138.8 734.7,137.2 741.4,135.5 748.0,133.9 754.7,132.2 761.3,130.6 767.9,129.0 774.6,127.4 781.2,125.8 787.9,124.2 787.7,134.3 781.0,135.8 774.4,137.3 767.8,138.7 761.1,140.0 754.5,141.1 747.8,142.2 741.2,143.1 734.5,143.8 727.9,144.4 721.2,144.8 714.6,145.1 707.9,145.3 701.3,145.4 694.7,148.8 688.0,152.2 681.4,155.5 674.7,158.5 668.1,161.4 661.4,164.0 654.8,166.5 648.1,168.7 641.5,170.8 634.8,172.8 628.2,174.6 621.6,176.3 614.9,177.9"/></g>
<linearGradient id="ah0" gradientUnits="userSpaceOnUse" x1="0" y1="566.71" x2="0" y2="542.55" spreadMethod="repeat"><stop offset="0" stop-color="#01b8c8"/><stop offset=".01" stop-color="#46cb88"/><stop offset=".021" stop-color="#b1c636"/><stop offset=".024" stop-color="#d1bf27"/><stop offset=".035" stop-color="#fdbd3d"/><stop offset=".052" stop-color="#f9d72c"/><stop offset=".08" stop-color="#f6ef20"/><stop offset=".125" stop-color="#f9fa16"/><stop offset=".159" stop-color="#f6f11f"/><stop offset=".225" stop-color="#fcbc3d"/><stop offset=".256" stop-color="#cec028"/><stop offset=".298" stop-color="#7fcc5a"/><stop offset=".339" stop-color="#3cc992"/><stop offset=".377" stop-color="#17bfb6"/><stop offset=".394" stop-color="#01b9c6"/><stop offset=".412" stop-color="#11b2d5"/><stop offset=".453" stop-color="#2e87f7"/><stop offset=".478" stop-color="#4561fc"/><stop offset=".498" stop-color="#463cdf"/><stop offset=".522" stop-color="#3f29b0"/><stop offset=".54" stop-color="#3e27ab"/><stop offset=".706" stop-color="#4743e7"/><stop offset=".882" stop-color="#3f6eff"/><stop offset=".948" stop-color="#2c8ef1"/><stop offset=".986" stop-color="#19addc"/><stop offset="1" stop-color="#01b8c8"/></linearGradient>
<linearGradient id="af0" gradientUnits="userSpaceOnUse" x1="0" y1="606" x2="0" y2="566.71"><stop offset=".404" stop-color="#2a93ee"/><stop offset=".417" stop-color="#14b0d8"/><stop offset=".423" stop-color="#02bac5"/><stop offset=".434" stop-color="#30c5a2"/><stop offset=".443" stop-color="#50cc80"/><stop offset=".462" stop-color="#bac430"/><stop offset=".47" stop-color="#ddbd29"/><stop offset=".483" stop-color="#fdbd3d"/><stop offset=".513" stop-color="#fec338"/><stop offset=".53" stop-color="#f2ba38"/><stop offset=".547" stop-color="#d1bf27"/><stop offset=".564" stop-color="#9ec943"/><stop offset=".596" stop-color="#40ca8d"/><stop offset=".621" stop-color="#18bfb6"/><stop offset=".632" stop-color="#01b9c7"/><stop offset=".653" stop-color="#249ee6"/><stop offset=".668" stop-color="#347afd"/><stop offset=".679" stop-color="#4756f7"/><stop offset=".691" stop-color="#4332c8"/><stop offset=".7" stop-color="#3e28ac"/><stop offset=".73" stop-color="#402bb8"/><stop offset=".815" stop-color="#4743e7"/><stop offset=".926" stop-color="#3f6eff"/><stop offset=".968" stop-color="#2c8ff0"/><stop offset=".991" stop-color="#18addb"/><stop offset="1" stop-color="#01b8c8"/></linearGradient>
<linearGradient id="ah1" gradientUnits="userSpaceOnUse" x1="0" y1="566.71" x2="0" y2="542.55" spreadMethod="repeat"><stop offset="0" stop-color="#01b8c9"/><stop offset=".01" stop-color="#44cb89"/><stop offset=".021" stop-color="#aec637"/><stop offset=".024" stop-color="#cec028"/><stop offset=".035" stop-color="#fbbc3d"/><stop offset=".059" stop-color="#f6dd2a"/><stop offset=".093" stop-color="#f6f31d"/><stop offset=".135" stop-color="#f8f719"/><stop offset=".17" stop-color="#f5e725"/><stop offset=".221" stop-color="#fdbd3d"/><stop offset=".235" stop-color="#eeba34"/><stop offset=".256" stop-color="#ccc028"/><stop offset=".308" stop-color="#69cd6b"/><stop offset=".343" stop-color="#38c896"/><stop offset=".374" stop-color="#1cc0b3"/><stop offset=".394" stop-color="#01b9c7"/><stop offset=".439" stop-color="#2798ea"/><stop offset=".464" stop-color="#3678fe"/><stop offset=".484" stop-color="#4755f6"/><stop offset=".509" stop-color="#4332c9"/><stop offset=".526" stop-color="#3e28ac"/><stop offset=".571" stop-color="#402bb6"/><stop offset=".706" stop-color="#4743e7"/><stop offset=".882" stop-color="#3f6eff"/><stop offset=".948" stop-color="#2c8ef1"/><stop offset=".986" stop-color="#19addc"/><stop offset="1" stop-color="#01b8c9"/></linearGradient>
<linearGradient id="af1" gradientUnits="userSpaceOnUse" x1="0" y1="606" x2="0" y2="566.71"><stop offset=".404" stop-color="#2a93ee"/><stop offset=".417" stop-color="#14b0d8"/><stop offset=".423" stop-color="#01bac5"/><stop offset=".434" stop-color="#2fc5a3"/><stop offset=".443" stop-color="#4ecc81"/><stop offset=".462" stop-color="#b8c431"/><stop offset=".47" stop-color="#dbbd29"/><stop offset=".483" stop-color="#fbbc3d"/><stop offset=".513" stop-color="#fec239"/><stop offset=".528" stop-color="#f3ba39"/><stop offset=".547" stop-color="#cec028"/><stop offset=".564" stop-color="#9bc944"/><stop offset=".596" stop-color="#3fca8e"/><stop offset=".621" stop-color="#17bfb7"/><stop offset=".632" stop-color="#01b9c8"/><stop offset=".655" stop-color="#269ae9"/><stop offset=".668" stop-color="#347afd"/><stop offset=".679" stop-color="#4756f7"/><stop offset=".691" stop-color="#4332c8"/><stop offset=".7" stop-color="#3e28ac"/><stop offset=".73" stop-color="#402bb8"/><stop offset=".815" stop-color="#4743e7"/><stop offset=".926" stop-color="#3f6eff"/><stop offset=".968" stop-color="#2c8ff0"/><stop offset=".991" stop-color="#18addb"/><stop offset="1" stop-color="#01b8c9"/></linearGradient>
<linearGradient id="ah2" gradientUnits="userSpaceOnUse" x1="0" y1="566.71" x2="0" y2="542.55" spreadMethod="repeat"><stop offset="0" stop-color="#01b8ca"/><stop offset=".01" stop-color="#40ca8d"/><stop offset=".021" stop-color="#a7c73c"/><stop offset=".024" stop-color="#c7c12a"/><stop offset=".031" stop-color="#eabb30"/><stop offset=".035" stop-color="#f7ba3c"/><stop offset=".045" stop-color="#fec934"/><stop offset=".08" stop-color="#f5e825"/><stop offset=".125" stop-color="#f6f21d"/><stop offset=".159" stop-color="#f5ea24"/><stop offset=".218" stop-color="#fcbc3d"/><stop offset=".249" stop-color="#d2bf27"/><stop offset=".284" stop-color="#90ca4d"/><stop offset=".332" stop-color="#3fca8e"/><stop offset=".374" stop-color="#19bfb5"/><stop offset=".391" stop-color="#02bac5"/><stop offset=".408" stop-color="#0db3d3"/><stop offset=".439" stop-color="#2798ea"/><stop offset=".464" stop-color="#3678fe"/><stop offset=".484" stop-color="#4755f6"/><stop offset=".509" stop-color="#4332c9"/><stop offset=".526" stop-color="#3e28ad"/><stop offset=".571" stop-color="#402bb6"/><stop offset=".706" stop-color="#4743e7"/><stop offset=".882" stop-color="#3f6eff"/><stop offset=".948" stop-color="#2c8ef1"/><stop offset=".99" stop-color="#14b0d8"/><stop offset="1" stop-color="#01b8ca"/></linearGradient>
<linearGradient id="af2" gradientUnits="userSpaceOnUse" x1="0" y1="606" x2="0" y2="566.71"><stop offset=".404" stop-color="#2a93ee"/><stop offset=".417" stop-color="#15afd9"/><stop offset=".423" stop-color="#01b9c7"/><stop offset=".436" stop-color="#33c69e"/><stop offset=".445" stop-color="#54cc7c"/><stop offset=".464" stop-color="#bac430"/><stop offset=".472" stop-color="#dcbd29"/><stop offset=".485" stop-color="#fabb3d"/><stop offset=".517" stop-color="#fabb3d"/><stop offset=".543" stop-color="#d1bf27"/><stop offset=".56" stop-color="#a2c83f"/><stop offset=".589" stop-color="#49cb85"/><stop offset=".621" stop-color="#13beb8"/><stop offset=".63" stop-color="#01b9c6"/><stop offset=".643" stop-color="#15afd9"/><stop offset=".666" stop-color="#3080fa"/><stop offset=".677" stop-color="#465efb"/><stop offset=".687" stop-color="#4639d9"/><stop offset=".698" stop-color="#3f29b1"/><stop offset=".706" stop-color="#3e27aa"/><stop offset=".813" stop-color="#4742e6"/><stop offset=".926" stop-color="#3f6eff"/><stop offset=".968" stop-color="#2c8ff0"/><stop offset=".994" stop-color="#14b0d8"/><stop offset="1" stop-color="#01b8ca"/></linearGradient>
<linearGradient id="ah3" gradientUnits="userSpaceOnUse" x1="0" y1="566.71" x2="0" y2="542.55" spreadMethod="repeat"><stop offset="0" stop-color="#03b7cc"/><stop offset=".003" stop-color="#0fbebb"/><stop offset=".007" stop-color="#2bc3a8"/><stop offset=".01" stop-color="#3bc993"/><stop offset=".021" stop-color="#9ac945"/><stop offset=".024" stop-color="#bbc430"/><stop offset=".028" stop-color="#cfc028"/><stop offset=".038" stop-color="#f9ba3d"/><stop offset=".062" stop-color="#fbd32f"/><stop offset=".118" stop-color="#f5ea24"/><stop offset=".159" stop-color="#f6e028"/><stop offset=".208" stop-color="#fdbd3d"/><stop offset=".242" stop-color="#d2bf27"/><stop offset=".27" stop-color="#9cc944"/><stop offset=".325" stop-color="#40ca8d"/><stop offset=".37" stop-color="#19bfb5"/><stop offset=".391" stop-color="#01b9c7"/><stop offset=".436" stop-color="#259be8"/><stop offset=".464" stop-color="#3678fe"/><stop offset=".484" stop-color="#4755f6"/><stop offset=".509" stop-color="#4332ca"/><stop offset=".526" stop-color="#3f28ae"/><stop offset=".574" stop-color="#412cb9"/><stop offset=".709" stop-color="#4744e8"/><stop offset=".882" stop-color="#3f6eff"/><stop offset=".948" stop-color="#2c8ef1"/><stop offset=".99" stop-color="#16afd9"/><stop offset="1" stop-color="#03b7cc"/></linearGradient>
<linearGradient id="af3" gradientUnits="userSpaceOnUse" x1="0" y1="606" x2="0" y2="566.71"><stop offset=".404" stop-color="#2a93ee"/><stop offset=".419" stop-color="#0fb2d5"/><stop offset=".423" stop-color="#01b8c9"/><stop offset=".428" stop-color="#0bbdbc"/><stop offset=".436" stop-color="#2fc5a2"/><stop offset=".447" stop-color="#56cc7a"/><stop offset=".466" stop-color="#b7c532"/><stop offset=".474" stop-color="#d7be28"/><stop offset=".489" stop-color="#f6ba3b"/><stop offset=".515" stop-color="#f3ba39"/><stop offset=".538" stop-color="#cec028"/><stop offset=".557" stop-color="#9cc944"/><stop offset=".583" stop-color="#51cc7f"/><stop offset=".602" stop-color="#30c5a1"/><stop offset=".621" stop-color="#0ebdbb"/><stop offset=".63" stop-color="#01b8c8"/><stop offset=".653" stop-color="#249de6"/><stop offset=".668" stop-color="#347afd"/><stop offset=".679" stop-color="#4757f7"/><stop offset=".691" stop-color="#4332c9"/><stop offset=".7" stop-color="#3f28ae"/><stop offset=".73" stop-color="#412cb9"/><stop offset=".815" stop-color="#4743e8"/><stop offset=".926" stop-color="#3f6eff"/><stop offset=".968" stop-color="#2c8ff0"/><stop offset=".994" stop-color="#15afd9"/><stop offset="1" stop-color="#03b7cc"/></linearGradient>
<linearGradient id="ah4" gradientUnits="userSpaceOnUse" x1="0" y1="566.71" x2="0" y2="542.55" spreadMethod="repeat"><stop offset="0" stop-color="#06b5cf"/><stop offset=".003" stop-color="#08bcbf"/><stop offset=".007" stop-color="#25c2ad"/><stop offset=".014" stop-color="#4acb85"/><stop offset=".024" stop-color="#a8c73b"/><stop offset=".031" stop-color="#cec028"/><stop offset=".042" stop-color="#f3ba39"/><stop offset=".059" stop-color="#fec438"/><stop offset=".111" stop-color="#f7dd2a"/><stop offset=".159" stop-color="#fbd32e"/><stop offset=".197" stop-color="#fabb3d"/><stop offset=".232" stop-color="#d2bf27"/><stop offset=".263" stop-color="#98c947"/><stop offset=".318" stop-color="#3fca8e"/><stop offset=".367" stop-color="#16bfb7"/><stop offset=".388" stop-color="#01b9c8"/><stop offset=".436" stop-color="#259be8"/><stop offset=".464" stop-color="#3678fd"/><stop offset=".484" stop-color="#4756f6"/><stop offset=".509" stop-color="#4433cc"/><stop offset=".526" stop-color="#3f29b0"/><stop offset=".574" stop-color="#412dbb"/><stop offset=".706" stop-color="#4744e8"/><stop offset=".882" stop-color="#3f6eff"/><stop offset=".952" stop-color="#2b91ef"/><stop offset=".99" stop-color="#18addb"/><stop offset="1" stop-color="#06b5cf"/></linearGradient>
<linearGradient id="af4" gradientUnits="userSpaceOnUse" x1="0" y1="606" x2="0" y2="566.71"><stop offset=".404" stop-color="#2a93ee"/><stop offset=".419" stop-color="#13b1d7"/><stop offset=".426" stop-color="#01b9c6"/><stop offset=".438" stop-color="#30c5a1"/><stop offset=".449" stop-color="#54cc7d"/><stop offset=".47" stop-color="#b6c532"/><stop offset=".481" stop-color="#d8be28"/><stop offset=".494" stop-color="#e8bb2f"/><stop offset=".513" stop-color="#e7bb2e"/><stop offset=".534" stop-color="#c6c22a"/><stop offset=".557" stop-color="#8acb52"/><stop offset=".581" stop-color="#4acb85"/><stop offset=".615" stop-color="#16bfb7"/><stop offset=".628" stop-color="#01b8c8"/><stop offset=".653" stop-color="#259de7"/><stop offset=".668" stop-color="#347afd"/><stop offset=".679" stop-color="#4757f7"/><stop offset=".691" stop-color="#4433cb"/><stop offset=".698" stop-color="#402ab4"/><stop offset=".706" stop-color="#3f28ae"/><stop offset=".813" stop-color="#4744e8"/><stop offset=".926" stop-color="#3f6fff"/><stop offset=".968" stop-color="#2c8ff0"/><stop offset=".994" stop-color="#18aedb"/><stop offset="1" stop-color="#06b5cf"/></linearGradient>
<linearGradient id="ah5" gradientUnits="userSpaceOnUse" x1="0" y1="566.71" x2="0" y2="542.55" spreadMethod="repeat"><stop offset="0" stop-color="#0bb3d2"/><stop offset=".003" stop-color="#02bac4"/><stop offset=".01" stop-color="#2fc5a3"/><stop offset=".017" stop-color="#55cc7c"/><stop offset=".024" stop-color="#90ca4d"/><stop offset=".035" stop-color="#c6c22a"/><stop offset=".045" stop-color="#e3bc2c"/><stop offset=".066" stop-color="#fcbc3d"/><stop offset=".125" stop-color="#fdcb33"/><stop offset=".166" stop-color="#fec03b"/><stop offset=".187" stop-color="#f2ba38"/><stop offset=".218" stop-color="#cec028"/><stop offset=".249" stop-color="#9bc945"/><stop offset=".291" stop-color="#54cc7c"/><stop offset=".325" stop-color="#32c69f"/><stop offset=".36" stop-color="#14beb8"/><stop offset=".381" stop-color="#01b9c7"/><stop offset=".433" stop-color="#259de7"/><stop offset=".464" stop-color="#3579fd"/><stop offset=".484" stop-color="#4757f7"/><stop offset=".512" stop-color="#4332c9"/><stop offset=".529" stop-color="#3f29b2"/><stop offset=".713" stop-color="#4747eb"/><stop offset=".882" stop-color="#3e6fff"/><stop offset=".952" stop-color="#2b91ef"/><stop offset=".993" stop-color="#16aeda"/><stop offset="1" stop-color="#0bb3d2"/></linearGradient>
<linearGradient id="af5" gradientUnits="userSpaceOnUse" x1="0" y1="606" x2="0" y2="566.71"><stop offset=".404" stop-color="#2a93ee"/><stop offset=".421" stop-color="#0fb2d5"/><stop offset=".428" stop-color="#01bac5"/><stop offset=".44" stop-color="#2ec5a3"/><stop offset=".451" stop-color="#4ccb83"/><stop offset=".477" stop-color="#b4c534"/><stop offset=".489" stop-color="#d1bf27"/><stop offset=".513" stop-color="#d1bf27"/><stop offset=".538" stop-color="#a4c83e"/><stop offset=".579" stop-color="#40ca8d"/><stop offset=".611" stop-color="#14bfb8"/><stop offset=".623" stop-color="#01b9c7"/><stop offset=".651" stop-color="#249fe5"/><stop offset=".668" stop-color="#337bfd"/><stop offset=".679" stop-color="#4759f8"/><stop offset=".691" stop-color="#4434cf"/><stop offset=".7" stop-color="#402bb6"/><stop offset=".732" stop-color="#422fc1"/><stop offset=".817" stop-color="#4747eb"/><stop offset=".926" stop-color="#3e6fff"/><stop offset=".97" stop-color="#2b91ef"/><stop offset=".996" stop-color="#16afd9"/><stop offset="1" stop-color="#0bb3d2"/></linearGradient>
<linearGradient id="ah6" gradientUnits="userSpaceOnUse" x1="0" y1="566.71" x2="0" y2="542.55" spreadMethod="repeat"><stop offset="0" stop-color="#12b1d6"/><stop offset=".003" stop-color="#01b8c9"/><stop offset=".007" stop-color="#0dbdbb"/><stop offset=".01" stop-color="#26c2ad"/><stop offset=".017" stop-color="#41ca8c"/><stop offset=".028" stop-color="#85cb55"/><stop offset=".042" stop-color="#c0c32d"/><stop offset=".062" stop-color="#dfbc2a"/><stop offset=".104" stop-color="#f8ba3d"/><stop offset=".156" stop-color="#f2ba38"/><stop offset=".194" stop-color="#cfc028"/><stop offset=".232" stop-color="#9ac946"/><stop offset=".284" stop-color="#48cb86"/><stop offset=".349" stop-color="#13beb9"/><stop offset=".374" stop-color="#01b9c8"/><stop offset=".433" stop-color="#259ce7"/><stop offset=".467" stop-color="#3975fe"/><stop offset=".491" stop-color="#484ef1"/><stop offset=".519" stop-color="#4230c4"/><stop offset=".536" stop-color="#412dbc"/><stop offset=".699" stop-color="#4747ec"/><stop offset=".879" stop-color="#3e70ff"/><stop offset=".952" stop-color="#2b91ef"/><stop offset=".997" stop-color="#16afd9"/><stop offset="1" stop-color="#12b1d6"/></linearGradient>
<linearGradient id="af6" gradientUnits="userSpaceOnUse" x1="0" y1="606" x2="0" y2="566.71"><stop offset=".404" stop-color="#2a93ee"/><stop offset=".423" stop-color="#0eb2d4"/><stop offset=".43" stop-color="#01b9c6"/><stop offset=".445" stop-color="#2fc5a3"/><stop offset=".46" stop-color="#57cc7a"/><stop offset=".483" stop-color="#a6c83d"/><stop offset=".494" stop-color="#b3c534"/><stop offset=".513" stop-color="#b2c635"/><stop offset=".547" stop-color="#72cd64"/><stop offset=".574" stop-color="#39c895"/><stop offset=".604" stop-color="#13beb8"/><stop offset=".619" stop-color="#01b9c8"/><stop offset=".651" stop-color="#249ee6"/><stop offset=".668" stop-color="#327cfc"/><stop offset=".679" stop-color="#475bf9"/><stop offset=".691" stop-color="#4537d6"/><stop offset=".7" stop-color="#412ebe"/><stop offset=".732" stop-color="#4332c9"/><stop offset=".821" stop-color="#484bef"/><stop offset=".923" stop-color="#3d70ff"/><stop offset=".97" stop-color="#2b92ef"/><stop offset=".998" stop-color="#16afd9"/><stop offset="1" stop-color="#12b1d6"/></linearGradient>
<linearGradient id="ah7" gradientUnits="userSpaceOnUse" x1="0" y1="566.71" x2="0" y2="542.55" spreadMethod="repeat"><stop offset="0" stop-color="#17aeda"/><stop offset=".003" stop-color="#07b5d0"/><stop offset=".007" stop-color="#02bac4"/><stop offset=".014" stop-color="#28c3ab"/><stop offset=".021" stop-color="#3eca8f"/><stop offset=".038" stop-color="#8dcb4f"/><stop offset=".069" stop-color="#c2c22c"/><stop offset=".118" stop-color="#d7be28"/><stop offset=".156" stop-color="#cec028"/><stop offset=".204" stop-color="#99c946"/><stop offset=".273" stop-color="#3dc991"/><stop offset=".332" stop-color="#14beb8"/><stop offset=".36" stop-color="#01b9c7"/><stop offset=".433" stop-color="#259be8"/><stop offset=".467" stop-color="#3777fe"/><stop offset=".491" stop-color="#4853f4"/><stop offset=".522" stop-color="#4434ce"/><stop offset=".554" stop-color="#4433cc"/><stop offset=".692" stop-color="#484bef"/><stop offset=".872" stop-color="#3d70ff"/><stop offset=".952" stop-color="#2b91ef"/><stop offset="1" stop-color="#17aeda"/></linearGradient>
<linearGradient id="af7" gradientUnits="userSpaceOnUse" x1="0" y1="606" x2="0" y2="566.71"><stop offset=".404" stop-color="#2a93ee"/><stop offset=".426" stop-color="#0fb2d5"/><stop offset=".434" stop-color="#02bac4"/><stop offset=".451" stop-color="#30c5a2"/><stop offset=".468" stop-color="#56cc7b"/><stop offset=".489" stop-color="#89cb52"/><stop offset=".513" stop-color="#89cb52"/><stop offset=".568" stop-color="#33c69d"/><stop offset=".594" stop-color="#15bfb8"/><stop offset=".611" stop-color="#01b9c7"/><stop offset=".651" stop-color="#259de7"/><stop offset=".668" stop-color="#317dfc"/><stop offset=".681" stop-color="#4758f8"/><stop offset=".696" stop-color="#4535d2"/><stop offset=".706" stop-color="#4332c9"/><stop offset=".815" stop-color="#484ef1"/><stop offset=".921" stop-color="#3c71ff"/><stop offset=".972" stop-color="#2a93ed"/><stop offset="1" stop-color="#17aeda"/></linearGradient>
<linearGradient id="ah8" gradientUnits="userSpaceOnUse" x1="0" y1="566.71" x2="0" y2="542.55" spreadMethod="repeat"><stop offset="0" stop-color="#1babde"/><stop offset=".007" stop-color="#04b6cd"/><stop offset=".01" stop-color="#03bbc3"/><stop offset=".021" stop-color="#2fc5a3"/><stop offset=".042" stop-color="#67cd6c"/><stop offset=".076" stop-color="#93ca4b"/><stop offset=".118" stop-color="#a4c83e"/><stop offset=".156" stop-color="#9bc945"/><stop offset=".256" stop-color="#36c898"/><stop offset=".311" stop-color="#12beb9"/><stop offset=".343" stop-color="#01b9c8"/><stop offset=".433" stop-color="#269ae9"/><stop offset=".471" stop-color="#3876fe"/><stop offset=".495" stop-color="#4854f5"/><stop offset=".529" stop-color="#4639da"/><stop offset=".782" stop-color="#4561fc"/><stop offset=".896" stop-color="#337bfc"/><stop offset=".997" stop-color="#1da9e0"/><stop offset="1" stop-color="#1babde"/></linearGradient>
<linearGradient id="af8" gradientUnits="userSpaceOnUse" x1="0" y1="606" x2="0" y2="566.71"><stop offset=".404" stop-color="#2a93ee"/><stop offset=".43" stop-color="#0eb2d4"/><stop offset=".438" stop-color="#01b9c6"/><stop offset=".462" stop-color="#31c6a0"/><stop offset=".491" stop-color="#5ccc75"/><stop offset=".515" stop-color="#59cc78"/><stop offset=".581" stop-color="#13beb8"/><stop offset=".6" stop-color="#01b9c8"/><stop offset=".651" stop-color="#259be7"/><stop offset=".67" stop-color="#337bfd"/><stop offset=".683" stop-color="#4758f8"/><stop offset=".7" stop-color="#463adc"/><stop offset=".881" stop-color="#4466fd"/><stop offset=".957" stop-color="#2d88f6"/><stop offset="1" stop-color="#1babde"/></linearGradient>
<linearGradient id="ah9" gradientUnits="userSpaceOnUse" x1="0" y1="566.71" x2="0" y2="542.55" spreadMethod="repeat"><stop offset="0" stop-color="#1ea7e1"/><stop offset=".014" stop-color="#01b9c6"/><stop offset=".028" stop-color="#2bc3a8"/><stop offset=".052" stop-color="#44cb8a"/><stop offset=".087" stop-color="#5ccc76"/><stop offset=".128" stop-color="#63cd6f"/><stop offset=".163" stop-color="#58cc79"/><stop offset=".239" stop-color="#2ec4a5"/><stop offset=".308" stop-color="#01b9c6"/><stop offset=".433" stop-color="#2699ea"/><stop offset=".474" stop-color="#3777fe"/><stop offset=".502" stop-color="#4755f6"/><stop offset=".536" stop-color="#4746ea"/><stop offset=".83" stop-color="#3e70ff"/><stop offset=".952" stop-color="#2b91ef"/><stop offset="1" stop-color="#1ea7e1"/></linearGradient>
<linearGradient id="af9" gradientUnits="userSpaceOnUse" x1="0" y1="606" x2="0" y2="566.71"><stop offset=".404" stop-color="#2a93ee"/><stop offset=".436" stop-color="#0eb3d4"/><stop offset=".449" stop-color="#02bac4"/><stop offset=".474" stop-color="#2dc4a5"/><stop offset=".498" stop-color="#37c897"/><stop offset=".53" stop-color="#30c5a2"/><stop offset=".56" stop-color="#15bfb7"/><stop offset=".581" stop-color="#01b9c6"/><stop offset=".651" stop-color="#269ae9"/><stop offset=".672" stop-color="#347afd"/><stop offset=".685" stop-color="#475bf9"/><stop offset=".702" stop-color="#4745ea"/><stop offset=".891" stop-color="#3e70ff"/><stop offset=".968" stop-color="#2b90ef"/><stop offset="1" stop-color="#1ea7e1"/></linearGradient>
<linearGradient id="ah10" gradientUnits="userSpaceOnUse" x1="0" y1="566.71" x2="0" y2="542.55" spreadMethod="repeat"><stop offset="0" stop-color="#22a2e4"/><stop offset=".021" stop-color="#01b8c9"/><stop offset=".048" stop-color="#25c2ad"/><stop offset=".121" stop-color="#33c79d"/><stop offset=".197" stop-color="#25c2ae"/><stop offset=".266" stop-color="#01b9c7"/><stop offset=".401" stop-color="#22a1e4"/><stop offset=".46" stop-color="#2d88f6"/><stop offset=".502" stop-color="#4562fc"/><stop offset=".54" stop-color="#4756f7"/><stop offset=".817" stop-color="#3876fe"/><stop offset=".969" stop-color="#2797eb"/><stop offset="1" stop-color="#22a2e4"/></linearGradient>
<linearGradient id="af10" gradientUnits="userSpaceOnUse" x1="0" y1="606" x2="0" y2="566.71"><stop offset=".404" stop-color="#2a93ee"/><stop offset=".447" stop-color="#0eb2d4"/><stop offset=".464" stop-color="#01bac5"/><stop offset=".494" stop-color="#1bc0b4"/><stop offset=".521" stop-color="#15bfb7"/><stop offset=".557" stop-color="#01b8c8"/><stop offset=".63" stop-color="#21a3e3"/><stop offset=".666" stop-color="#2d89f5"/><stop offset=".679" stop-color="#3a73fe"/><stop offset=".696" stop-color="#4759f8"/><stop offset=".853" stop-color="#3e70ff"/><stop offset=".964" stop-color="#2c8ff1"/><stop offset="1" stop-color="#22a2e4"/></linearGradient>
<linearGradient id="ah11" gradientUnits="userSpaceOnUse" x1="0" y1="566.71" x2="0" y2="542.55" spreadMethod="repeat"><stop offset="0" stop-color="#249de6"/><stop offset=".042" stop-color="#03b7cc"/><stop offset=".149" stop-color="#05bbc1"/><stop offset=".218" stop-color="#06b5cf"/><stop offset=".329" stop-color="#1ea7e1"/><stop offset=".457" stop-color="#2d8df2"/><stop offset=".498" stop-color="#3a73fe"/><stop offset=".547" stop-color="#4369fe"/><stop offset=".924" stop-color="#2d8cf3"/><stop offset="1" stop-color="#249de6"/></linearGradient>
<linearGradient id="af11" gradientUnits="userSpaceOnUse" x1="0" y1="606" x2="0" y2="566.71"><stop offset=".404" stop-color="#2a93ee"/><stop offset=".479" stop-color="#0ab4d2"/><stop offset=".526" stop-color="#09b4d1"/><stop offset=".619" stop-color="#23a1e4"/><stop offset=".668" stop-color="#2d8af5"/><stop offset=".7" stop-color="#4369fe"/><stop offset=".947" stop-color="#2d8bf4"/><stop offset="1" stop-color="#249de6"/></linearGradient>
<linearGradient id="ah12" gradientUnits="userSpaceOnUse" x1="0" y1="566.71" x2="0" y2="542.55" spreadMethod="repeat"><stop offset="0" stop-color="#2798ea"/><stop offset=".069" stop-color="#1ca9df"/><stop offset=".339" stop-color="#259ce7"/><stop offset=".481" stop-color="#2d89f5"/><stop offset=".557" stop-color="#307ffb"/><stop offset=".997" stop-color="#2798ea"/><stop offset="1" stop-color="#2798ea"/></linearGradient>
<linearGradient id="af12" gradientUnits="userSpaceOnUse" x1="0" y1="606" x2="0" y2="566.71"><stop offset=".404" stop-color="#2a93ee"/><stop offset=".513" stop-color="#1fa6e2"/><stop offset=".668" stop-color="#2c8ef1"/><stop offset=".711" stop-color="#307efb"/><stop offset=".998" stop-color="#2798ea"/><stop offset="1" stop-color="#2798ea"/></linearGradient>
<linearGradient id="ah13" gradientUnits="userSpaceOnUse" x1="0" y1="566.71" x2="0" y2="542.55" spreadMethod="repeat"><stop offset="0" stop-color="#2a93ee"/><stop offset="1" stop-color="#2a93ee"/></linearGradient>
<linearGradient id="af13" gradientUnits="userSpaceOnUse" x1="0" y1="606" x2="0" y2="566.71"><stop offset=".404" stop-color="#2a93ee"/><stop offset="1" stop-color="#2a93ee"/></linearGradient>
<linearGradient id="ah14" gradientUnits="userSpaceOnUse" x1="0" y1="566.71" x2="0" y2="542.55" spreadMethod="repeat"><stop offset="0" stop-color="#2e83f9"/><stop offset=".176" stop-color="#2e84f9"/><stop offset=".502" stop-color="#2699e9"/><stop offset=".571" stop-color="#1caadf"/><stop offset=".858" stop-color="#259be8"/><stop offset=".986" stop-color="#2d87f6"/><stop offset="1" stop-color="#2e83f9"/></linearGradient>
<linearGradient id="af14" gradientUnits="userSpaceOnUse" x1="0" y1="606" x2="0" y2="566.71"><stop offset=".404" stop-color="#2a93ee"/><stop offset=".438" stop-color="#2f80fa"/><stop offset=".662" stop-color="#2798ea"/><stop offset=".709" stop-color="#1caadf"/><stop offset=".911" stop-color="#269ae8"/><stop offset=".994" stop-color="#2e86f7"/><stop offset="1" stop-color="#2e83f9"/></linearGradient>
<linearGradient id="ah15" gradientUnits="userSpaceOnUse" x1="0" y1="566.71" x2="0" y2="542.55" spreadMethod="repeat"><stop offset="0" stop-color="#3b72ff"/><stop offset=".052" stop-color="#4269fe"/><stop offset=".426" stop-color="#2d8cf3"/><stop offset=".505" stop-color="#22a2e4"/><stop offset=".547" stop-color="#02b7cb"/><stop offset=".651" stop-color="#05bbc1"/><stop offset=".72" stop-color="#06b5cf"/><stop offset=".83" stop-color="#1ea7e1"/><stop offset=".955" stop-color="#2c8ef2"/><stop offset=".997" stop-color="#3975fe"/><stop offset="1" stop-color="#3b72ff"/></linearGradient>
<linearGradient id="af15" gradientUnits="userSpaceOnUse" x1="0" y1="606" x2="0" y2="566.71"><stop offset=".404" stop-color="#2a93ee"/><stop offset=".426" stop-color="#3b72ff"/><stop offset=".466" stop-color="#3d71ff"/><stop offset=".632" stop-color="#2c90f0"/><stop offset=".668" stop-color="#20a4e3"/><stop offset=".694" stop-color="#02b7cb"/><stop offset=".762" stop-color="#05bbc1"/><stop offset=".809" stop-color="#06b5cf"/><stop offset=".883" stop-color="#1ea7e1"/><stop offset=".97" stop-color="#2d8df2"/><stop offset=".998" stop-color="#3974fe"/><stop offset="1" stop-color="#3b72ff"/></linearGradient>
<linearGradient id="ah16" gradientUnits="userSpaceOnUse" x1="0" y1="566.71" x2="0" y2="542.55" spreadMethod="repeat"><stop offset="0" stop-color="#4563fd"/><stop offset=".042" stop-color="#4756f7"/><stop offset=".318" stop-color="#3776fe"/><stop offset=".467" stop-color="#2896eb"/><stop offset=".505" stop-color="#1da9e0"/><stop offset=".522" stop-color="#01b9c6"/><stop offset=".543" stop-color="#22c1b0"/><stop offset=".606" stop-color="#33c69d"/><stop offset=".675" stop-color="#2dc4a6"/><stop offset=".768" stop-color="#01b9c8"/><stop offset=".9" stop-color="#22a1e4"/><stop offset=".962" stop-color="#2e86f7"/><stop offset="1" stop-color="#4563fd"/></linearGradient>
<linearGradient id="af16" gradientUnits="userSpaceOnUse" x1="0" y1="606" x2="0" y2="566.71"><stop offset=".404" stop-color="#2a93ee"/><stop offset=".417" stop-color="#3c71ff"/><stop offset=".436" stop-color="#475cfa"/><stop offset=".577" stop-color="#347afd"/><stop offset=".655" stop-color="#259ce7"/><stop offset=".668" stop-color="#1aacdd"/><stop offset=".677" stop-color="#01b8c9"/><stop offset=".694" stop-color="#24c2ae"/><stop offset=".738" stop-color="#34c79c"/><stop offset=".787" stop-color="#28c3aa"/><stop offset=".84" stop-color="#01b9c7"/><stop offset=".934" stop-color="#23a1e5"/><stop offset=".974" stop-color="#2e86f7"/><stop offset="1" stop-color="#4563fd"/></linearGradient>
<linearGradient id="ah17" gradientUnits="userSpaceOnUse" x1="0" y1="566.71" x2="0" y2="542.55" spreadMethod="repeat"><stop offset="0" stop-color="#4757f7"/><stop offset=".035" stop-color="#4746ea"/><stop offset=".332" stop-color="#3d70ff"/><stop offset=".45" stop-color="#2b90ef"/><stop offset=".502" stop-color="#1caadf"/><stop offset=".512" stop-color="#01b8ca"/><stop offset=".516" stop-color="#03bbc2"/><stop offset=".526" stop-color="#29c3aa"/><stop offset=".547" stop-color="#3fca8e"/><stop offset=".585" stop-color="#5bcc76"/><stop offset=".626" stop-color="#64cd6f"/><stop offset=".661" stop-color="#5acc78"/><stop offset=".737" stop-color="#2ec5a4"/><stop offset=".81" stop-color="#01b9c6"/><stop offset=".934" stop-color="#2798ea"/><stop offset=".976" stop-color="#3974fe"/><stop offset="1" stop-color="#4757f7"/></linearGradient>
<linearGradient id="af17" gradientUnits="userSpaceOnUse" x1="0" y1="606" x2="0" y2="566.71"><stop offset=".404" stop-color="#2a93ee"/><stop offset=".415" stop-color="#3f6efe"/><stop offset=".432" stop-color="#4850f3"/><stop offset=".574" stop-color="#3c71ff"/><stop offset=".638" stop-color="#2a92ee"/><stop offset=".666" stop-color="#18addb"/><stop offset=".672" stop-color="#01b9c6"/><stop offset=".681" stop-color="#2bc3a8"/><stop offset=".694" stop-color="#3fca8e"/><stop offset=".717" stop-color="#5bcc77"/><stop offset=".743" stop-color="#64cd6f"/><stop offset=".768" stop-color="#5acc77"/><stop offset=".819" stop-color="#2fc5a2"/><stop offset=".87" stop-color="#01b9c6"/><stop offset=".955" stop-color="#2798ea"/><stop offset=".983" stop-color="#3875fe"/><stop offset="1" stop-color="#4757f7"/></linearGradient>
<linearGradient id="ah18" gradientUnits="userSpaceOnUse" x1="0" y1="566.71" x2="0" y2="542.55" spreadMethod="repeat"><stop offset="0" stop-color="#484df0"/><stop offset=".031" stop-color="#4639da"/><stop offset=".277" stop-color="#4660fb"/><stop offset=".394" stop-color="#337afd"/><stop offset=".498" stop-color="#1caadf"/><stop offset=".509" stop-color="#01b9c8"/><stop offset=".522" stop-color="#33c69d"/><stop offset=".543" stop-color="#69cd6a"/><stop offset=".578" stop-color="#94ca4a"/><stop offset=".619" stop-color="#a4c83e"/><stop offset=".657" stop-color="#99c946"/><stop offset=".758" stop-color="#35c799"/><stop offset=".81" stop-color="#13beb8"/><stop offset=".841" stop-color="#01b9c7"/><stop offset=".931" stop-color="#259be8"/><stop offset=".969" stop-color="#3678fe"/><stop offset=".993" stop-color="#4756f7"/><stop offset="1" stop-color="#484df0"/></linearGradient>
<linearGradient id="af18" gradientUnits="userSpaceOnUse" x1="0" y1="606" x2="0" y2="566.71"><stop offset=".404" stop-color="#2a93ee"/><stop offset=".411" stop-color="#3678fe"/><stop offset=".419" stop-color="#475af9"/><stop offset=".436" stop-color="#4743e7"/><stop offset=".581" stop-color="#3f6eff"/><stop offset=".634" stop-color="#2c8ff1"/><stop offset=".664" stop-color="#19acdc"/><stop offset=".668" stop-color="#02b7cb"/><stop offset=".67" stop-color="#04bbc1"/><stop offset=".677" stop-color="#2fc5a3"/><stop offset=".691" stop-color="#6acd6a"/><stop offset=".713" stop-color="#93ca4b"/><stop offset=".74" stop-color="#a4c83e"/><stop offset=".766" stop-color="#99c946"/><stop offset=".834" stop-color="#36c899"/><stop offset=".87" stop-color="#13beb8"/><stop offset=".891" stop-color="#01b9c7"/><stop offset=".953" stop-color="#269be8"/><stop offset=".979" stop-color="#3678fd"/><stop offset=".996" stop-color="#4755f6"/><stop offset="1" stop-color="#484df0"/></linearGradient>
<linearGradient id="ah19" gradientUnits="userSpaceOnUse" x1="0" y1="566.71" x2="0" y2="542.55" spreadMethod="repeat"><stop offset="0" stop-color="#4745e9"/><stop offset=".031" stop-color="#4332c8"/><stop offset=".211" stop-color="#484ef1"/><stop offset=".374" stop-color="#3d71ff"/><stop offset=".453" stop-color="#2b92ee"/><stop offset=".498" stop-color="#18addb"/><stop offset=".505" stop-color="#01b8ca"/><stop offset=".509" stop-color="#09bdbe"/><stop offset=".516" stop-color="#2ec4a4"/><stop offset=".522" stop-color="#48cb86"/><stop offset=".54" stop-color="#94ca4a"/><stop offset=".574" stop-color="#c6c22a"/><stop offset=".619" stop-color="#d7be28"/><stop offset=".657" stop-color="#ccc028"/><stop offset=".706" stop-color="#96ca48"/><stop offset=".775" stop-color="#3cc992"/><stop offset=".83" stop-color="#16bfb7"/><stop offset=".858" stop-color="#01b9c6"/><stop offset=".931" stop-color="#259ce7"/><stop offset=".965" stop-color="#3479fd"/><stop offset=".99" stop-color="#4755f6"/><stop offset="1" stop-color="#4745e9"/></linearGradient>
<linearGradient id="af19" gradientUnits="userSpaceOnUse" x1="0" y1="606" x2="0" y2="566.71"><stop offset=".404" stop-color="#2a93ee"/><stop offset=".411" stop-color="#3974fe"/><stop offset=".419" stop-color="#4854f6"/><stop offset=".434" stop-color="#463bdd"/><stop offset=".581" stop-color="#426afe"/><stop offset=".63" stop-color="#2d8af4"/><stop offset=".662" stop-color="#19acdc"/><stop offset=".666" stop-color="#05b6cd"/><stop offset=".668" stop-color="#03bbc2"/><stop offset=".672" stop-color="#29c3aa"/><stop offset=".677" stop-color="#3eca8f"/><stop offset=".689" stop-color="#96ca49"/><stop offset=".711" stop-color="#c5c22a"/><stop offset=".74" stop-color="#d7be28"/><stop offset=".766" stop-color="#cdc028"/><stop offset=".798" stop-color="#99c946"/><stop offset=".847" stop-color="#3bc992"/><stop offset=".885" stop-color="#14bfb8"/><stop offset=".904" stop-color="#01b9c7"/><stop offset=".953" stop-color="#259ce7"/><stop offset=".977" stop-color="#3579fd"/><stop offset=".991" stop-color="#4758f8"/><stop offset="1" stop-color="#4745e9"/></linearGradient>
<linearGradient id="ah20" gradientUnits="userSpaceOnUse" x1="0" y1="566.71" x2="0" y2="542.55" spreadMethod="repeat"><stop offset="0" stop-color="#4740e4"/><stop offset=".024" stop-color="#422ebf"/><stop offset=".059" stop-color="#422fc1"/><stop offset=".183" stop-color="#4744e9"/><stop offset=".374" stop-color="#3f6eff"/><stop offset=".45" stop-color="#2c90f0"/><stop offset=".495" stop-color="#18aedb"/><stop offset=".502" stop-color="#07b5d0"/><stop offset=".505" stop-color="#03bbc3"/><stop offset=".512" stop-color="#2dc4a5"/><stop offset=".519" stop-color="#4ccb83"/><stop offset=".526" stop-color="#7dcc5c"/><stop offset=".54" stop-color="#bdc32f"/><stop offset=".561" stop-color="#ddbd29"/><stop offset=".588" stop-color="#f1ba37"/><stop offset=".63" stop-color="#f8ba3d"/><stop offset=".661" stop-color="#eeba34"/><stop offset=".696" stop-color="#ccc028"/><stop offset=".737" stop-color="#91ca4c"/><stop offset=".785" stop-color="#46cb88"/><stop offset=".851" stop-color="#10beba"/><stop offset=".875" stop-color="#01b8c9"/><stop offset=".934" stop-color="#259be8"/><stop offset=".965" stop-color="#3677fe"/><stop offset=".986" stop-color="#4757f7"/><stop offset="1" stop-color="#4740e4"/></linearGradient>
<linearGradient id="af20" gradientUnits="userSpaceOnUse" x1="0" y1="606" x2="0" y2="566.71"><stop offset=".404" stop-color="#2a93ee"/><stop offset=".411" stop-color="#3c72ff"/><stop offset=".419" stop-color="#4850f3"/><stop offset=".434" stop-color="#4536d4"/><stop offset=".568" stop-color="#4561fc"/><stop offset=".626" stop-color="#2e85f8"/><stop offset=".66" stop-color="#19acdc"/><stop offset=".664" stop-color="#0db3d3"/><stop offset=".666" stop-color="#01b9c7"/><stop offset=".672" stop-color="#33c79c"/><stop offset=".677" stop-color="#57cc7a"/><stop offset=".683" stop-color="#93ca4b"/><stop offset=".689" stop-color="#bec32e"/><stop offset=".704" stop-color="#e1bc2b"/><stop offset=".736" stop-color="#f9bb3d"/><stop offset=".766" stop-color="#f1ba37"/><stop offset=".791" stop-color="#cec028"/><stop offset=".819" stop-color="#95ca49"/><stop offset=".853" stop-color="#47cb87"/><stop offset=".898" stop-color="#12beb9"/><stop offset=".915" stop-color="#01b8c9"/><stop offset=".955" stop-color="#269be8"/><stop offset=".977" stop-color="#3777fe"/><stop offset=".991" stop-color="#4854f6"/><stop offset="1" stop-color="#4740e4"/></linearGradient>
<linearGradient id="ah21" gradientUnits="userSpaceOnUse" x1="0" y1="566.71" x2="0" y2="542.55" spreadMethod="repeat"><stop offset="0" stop-color="#463ddf"/><stop offset=".024" stop-color="#402bb7"/><stop offset=".055" stop-color="#402bb7"/><stop offset=".187" stop-color="#4742e6"/><stop offset=".377" stop-color="#3f6efe"/><stop offset=".45" stop-color="#2c90f0"/><stop offset=".495" stop-color="#14b0d8"/><stop offset=".502" stop-color="#02b7cb"/><stop offset=".505" stop-color="#0cbdbc"/><stop offset=".509" stop-color="#27c2ac"/><stop offset=".516" stop-color="#48cb86"/><stop offset=".526" stop-color="#9cc944"/><stop offset=".536" stop-color="#cdc028"/><stop offset=".543" stop-color="#e1bc2b"/><stop offset=".567" stop-color="#fdbd3d"/><stop offset=".626" stop-color="#fdcb33"/><stop offset=".668" stop-color="#febf3c"/><stop offset=".692" stop-color="#edba33"/><stop offset=".72" stop-color="#cbc029"/><stop offset=".754" stop-color="#91ca4c"/><stop offset=".796" stop-color="#4dcc82"/><stop offset=".834" stop-color="#2dc4a5"/><stop offset=".879" stop-color="#01b9c6"/><stop offset=".931" stop-color="#249ee6"/><stop offset=".965" stop-color="#3876fe"/><stop offset=".986" stop-color="#4854f5"/><stop offset="1" stop-color="#463ddf"/></linearGradient>
<linearGradient id="af21" gradientUnits="userSpaceOnUse" x1="0" y1="606" x2="0" y2="566.71"><stop offset=".404" stop-color="#2a93ee"/><stop offset=".411" stop-color="#3d70ff"/><stop offset=".419" stop-color="#484df1"/><stop offset=".432" stop-color="#4434d0"/><stop offset=".445" stop-color="#4433cd"/><stop offset=".534" stop-color="#4852f4"/><stop offset=".602" stop-color="#3c72ff"/><stop offset=".64" stop-color="#2994ed"/><stop offset=".66" stop-color="#16afda"/><stop offset=".664" stop-color="#06b5cf"/><stop offset=".666" stop-color="#05bbc1"/><stop offset=".67" stop-color="#30c5a1"/><stop offset=".674" stop-color="#55cc7b"/><stop offset=".679" stop-color="#8ecb4f"/><stop offset=".685" stop-color="#c2c22c"/><stop offset=".689" stop-color="#ddbd29"/><stop offset=".706" stop-color="#fdbd3d"/><stop offset=".743" stop-color="#fdcb33"/><stop offset=".772" stop-color="#febf3b"/><stop offset=".787" stop-color="#f1ba37"/><stop offset=".806" stop-color="#d0bf27"/><stop offset=".828" stop-color="#9ec942"/><stop offset=".857" stop-color="#54cc7c"/><stop offset=".881" stop-color="#32c69f"/><stop offset=".906" stop-color="#10beba"/><stop offset=".919" stop-color="#01b9c7"/><stop offset=".953" stop-color="#249ee6"/><stop offset=".977" stop-color="#3876fe"/><stop offset=".991" stop-color="#4852f4"/><stop offset="1" stop-color="#463ddf"/></linearGradient>
<linearGradient id="ah22" gradientUnits="userSpaceOnUse" x1="0" y1="566.71" x2="0" y2="542.55" spreadMethod="repeat"><stop offset="0" stop-color="#463bdd"/><stop offset=".021" stop-color="#402ab5"/><stop offset=".038" stop-color="#3f28ae"/><stop offset=".204" stop-color="#4744e8"/><stop offset=".381" stop-color="#3f6eff"/><stop offset=".45" stop-color="#2c8ff0"/><stop offset=".491" stop-color="#16afd9"/><stop offset=".502" stop-color="#01b9c7"/><stop offset=".516" stop-color="#58cc79"/><stop offset=".526" stop-color="#b4c533"/><stop offset=".533" stop-color="#d5be28"/><stop offset=".54" stop-color="#f0ba36"/><stop offset=".554" stop-color="#febf3b"/><stop offset=".592" stop-color="#f9d62d"/><stop offset=".64" stop-color="#f8da2b"/><stop offset=".696" stop-color="#fcbc3d"/><stop offset=".734" stop-color="#cfc028"/><stop offset=".765" stop-color="#95ca49"/><stop offset=".817" stop-color="#41ca8c"/><stop offset=".865" stop-color="#18bfb6"/><stop offset=".886" stop-color="#01b9c6"/><stop offset=".931" stop-color="#249fe5"/><stop offset=".965" stop-color="#3875fe"/><stop offset=".986" stop-color="#4853f5"/><stop offset="1" stop-color="#463bdd"/></linearGradient>
<linearGradient id="af22" gradientUnits="userSpaceOnUse" x1="0" y1="606" x2="0" y2="566.71"><stop offset=".404" stop-color="#2a93ee"/><stop offset=".409" stop-color="#327bfc"/><stop offset=".415" stop-color="#475cfa"/><stop offset=".428" stop-color="#4537d6"/><stop offset=".438" stop-color="#4330c5"/><stop offset=".523" stop-color="#484cf0"/><stop offset=".602" stop-color="#3d71ff"/><stop offset=".638" stop-color="#2a92ee"/><stop offset=".66" stop-color="#13b0d7"/><stop offset=".664" stop-color="#02b7cb"/><stop offset=".666" stop-color="#0dbdbb"/><stop offset=".668" stop-color="#28c3ab"/><stop offset=".672" stop-color="#4ccb83"/><stop offset=".679" stop-color="#a6c73c"/><stop offset=".683" stop-color="#cbc029"/><stop offset=".687" stop-color="#e7bb2e"/><stop offset=".694" stop-color="#fabb3d"/><stop offset=".721" stop-color="#fad52d"/><stop offset=".749" stop-color="#f7db2a"/><stop offset=".772" stop-color="#fccf31"/><stop offset=".796" stop-color="#f8ba3d"/><stop offset=".817" stop-color="#d2bf27"/><stop offset=".838" stop-color="#98c947"/><stop offset=".874" stop-color="#42ca8c"/><stop offset=".909" stop-color="#17bfb6"/><stop offset=".921" stop-color="#01bac5"/><stop offset=".94" stop-color="#17aeda"/><stop offset=".97" stop-color="#2e83f9"/><stop offset=".985" stop-color="#4661fc"/><stop offset="1" stop-color="#463bdd"/></linearGradient>
<linearGradient id="ah23" gradientUnits="userSpaceOnUse" x1="0" y1="566.71" x2="0" y2="542.55" spreadMethod="repeat"><stop offset="0" stop-color="#463adb"/><stop offset=".021" stop-color="#4029b3"/><stop offset=".038" stop-color="#3e27ac"/><stop offset=".204" stop-color="#4743e7"/><stop offset=".381" stop-color="#3f6efe"/><stop offset=".45" stop-color="#2c8ff0"/><stop offset=".488" stop-color="#18addb"/><stop offset=".502" stop-color="#02bac3"/><stop offset=".505" stop-color="#1fc0b1"/><stop offset=".512" stop-color="#48cb87"/><stop offset=".522" stop-color="#abc739"/><stop offset=".526" stop-color="#c6c12a"/><stop offset=".533" stop-color="#e6bb2d"/><stop offset=".54" stop-color="#fdbd3d"/><stop offset=".581" stop-color="#f6df29"/><stop offset=".626" stop-color="#f5e924"/><stop offset=".661" stop-color="#f6df29"/><stop offset=".709" stop-color="#fcbc3d"/><stop offset=".744" stop-color="#cfc028"/><stop offset=".782" stop-color="#86cb54"/><stop offset=".827" stop-color="#3eca8f"/><stop offset=".872" stop-color="#16bfb7"/><stop offset=".889" stop-color="#01b9c6"/><stop offset=".934" stop-color="#259de7"/><stop offset=".965" stop-color="#3975fe"/><stop offset=".986" stop-color="#4852f4"/><stop offset="1" stop-color="#463adb"/></linearGradient>
<linearGradient id="af23" gradientUnits="userSpaceOnUse" x1="0" y1="606" x2="0" y2="566.71"><stop offset=".404" stop-color="#2a93ee"/><stop offset=".409" stop-color="#327bfc"/><stop offset=".415" stop-color="#475bf9"/><stop offset=".428" stop-color="#4536d5"/><stop offset=".438" stop-color="#4230c3"/><stop offset=".521" stop-color="#484bee"/><stop offset=".602" stop-color="#3d70ff"/><stop offset=".638" stop-color="#2a92ee"/><stop offset=".657" stop-color="#16aeda"/><stop offset=".664" stop-color="#01b9c8"/><stop offset=".67" stop-color="#3dc990"/><stop offset=".677" stop-color="#99c946"/><stop offset=".679" stop-color="#b9c431"/><stop offset=".683" stop-color="#dcbd29"/><stop offset=".687" stop-color="#f6ba3b"/><stop offset=".691" stop-color="#fec13a"/><stop offset=".715" stop-color="#f6df29"/><stop offset=".745" stop-color="#f5e924"/><stop offset=".768" stop-color="#f6e028"/><stop offset=".802" stop-color="#fbbc3d"/><stop offset=".826" stop-color="#cec028"/><stop offset=".851" stop-color="#87cb54"/><stop offset=".883" stop-color="#3dc990"/><stop offset=".913" stop-color="#16bfb7"/><stop offset=".926" stop-color="#01b9c7"/><stop offset=".957" stop-color="#269ae9"/><stop offset=".977" stop-color="#3975fe"/><stop offset=".991" stop-color="#4850f2"/><stop offset="1" stop-color="#463adb"/></linearGradient>
<linearGradient id="ah24" gradientUnits="userSpaceOnUse" x1="0" y1="566.71" x2="0" y2="542.55" spreadMethod="repeat"><stop offset="0" stop-color="#463adb"/><stop offset=".021" stop-color="#3f29b2"/><stop offset=".038" stop-color="#3e27ab"/><stop offset=".204" stop-color="#4742e6"/><stop offset=".381" stop-color="#3f6dfe"/><stop offset=".45" stop-color="#2c8ff0"/><stop offset=".488" stop-color="#17aeda"/><stop offset=".498" stop-color="#04b6cc"/><stop offset=".502" stop-color="#05bbc1"/><stop offset=".505" stop-color="#24c2ae"/><stop offset=".512" stop-color="#50cc80"/><stop offset=".522" stop-color="#b8c531"/><stop offset=".526" stop-color="#d3bf27"/><stop offset=".536" stop-color="#fbbc3d"/><stop offset=".578" stop-color="#f5e725"/><stop offset=".626" stop-color="#f6f21e"/><stop offset=".661" stop-color="#f5e825"/><stop offset=".716" stop-color="#fdbd3d"/><stop offset=".734" stop-color="#eaba31"/><stop offset=".754" stop-color="#c8c129"/><stop offset=".82" stop-color="#4fcc81"/><stop offset=".875" stop-color="#16bfb7"/><stop offset=".893" stop-color="#01b9c6"/><stop offset=".938" stop-color="#269ae9"/><stop offset=".965" stop-color="#3975fe"/><stop offset=".986" stop-color="#4852f4"/><stop offset="1" stop-color="#463adb"/></linearGradient>
<linearGradient id="af24" gradientUnits="userSpaceOnUse" x1="0" y1="606" x2="0" y2="566.71"><stop offset=".404" stop-color="#2a93ee"/><stop offset=".409" stop-color="#337bfc"/><stop offset=".413" stop-color="#4464fd"/><stop offset=".426" stop-color="#463adb"/><stop offset=".436" stop-color="#4230c3"/><stop offset=".532" stop-color="#484ff2"/><stop offset=".602" stop-color="#3d70ff"/><stop offset=".638" stop-color="#2a92ee"/><stop offset=".657" stop-color="#15afd9"/><stop offset=".664" stop-color="#01b9c6"/><stop offset=".67" stop-color="#43ca8a"/><stop offset=".677" stop-color="#a6c83d"/><stop offset=".679" stop-color="#c5c22a"/><stop offset=".683" stop-color="#e8bb2e"/><stop offset=".687" stop-color="#febd3c"/><stop offset=".713" stop-color="#f5e725"/><stop offset=".743" stop-color="#f6f21d"/><stop offset=".768" stop-color="#f5e924"/><stop offset=".809" stop-color="#fbbc3d"/><stop offset=".83" stop-color="#cfc028"/><stop offset=".857" stop-color="#82cc58"/><stop offset=".887" stop-color="#3cc991"/><stop offset=".915" stop-color="#16bfb7"/><stop offset=".928" stop-color="#01b9c7"/><stop offset=".957" stop-color="#269ae9"/><stop offset=".977" stop-color="#3974fe"/><stop offset=".991" stop-color="#484ff2"/><stop offset="1" stop-color="#463adb"/></linearGradient>
<linearGradient id="ah25" gradientUnits="userSpaceOnUse" x1="0" y1="566.71" x2="0" y2="542.55" spreadMethod="repeat"><stop offset="0" stop-color="#463ada"/><stop offset=".021" stop-color="#3f29b1"/><stop offset=".038" stop-color="#3e27aa"/><stop offset=".204" stop-color="#4742e6"/><stop offset=".381" stop-color="#3f6dfe"/><stop offset=".45" stop-color="#2c8ff0"/><stop offset=".488" stop-color="#16afda"/><stop offset=".498" stop-color="#02b7cb"/><stop offset=".502" stop-color="#07bcbf"/><stop offset=".505" stop-color="#27c2ac"/><stop offset=".509" stop-color="#38c896"/><stop offset=".519" stop-color="#9dc943"/><stop offset=".522" stop-color="#bfc32d"/><stop offset=".526" stop-color="#d9bd28"/><stop offset=".533" stop-color="#f6ba3b"/><stop offset=".54" stop-color="#fec834"/><stop offset=".578" stop-color="#f5ec22"/><stop offset=".623" stop-color="#f8f818"/><stop offset=".661" stop-color="#f5ee21"/><stop offset=".723" stop-color="#fcbc3d"/><stop offset=".754" stop-color="#cfc028"/><stop offset=".799" stop-color="#79cc5e"/><stop offset=".837" stop-color="#3dc991"/><stop offset=".875" stop-color="#19bfb5"/><stop offset=".893" stop-color="#01bac5"/><stop offset=".91" stop-color="#0eb3d4"/><stop offset=".938" stop-color="#269ae8"/><stop offset=".965" stop-color="#3975fe"/><stop offset=".986" stop-color="#4852f4"/><stop offset="1" stop-color="#463ada"/></linearGradient>
<linearGradient id="af25" gradientUnits="userSpaceOnUse" x1="0" y1="606" x2="0" y2="566.71"><stop offset=".404" stop-color="#2a93ee"/><stop offset=".411" stop-color="#3e6fff"/><stop offset=".421" stop-color="#4744e8"/><stop offset=".434" stop-color="#4330c5"/><stop offset=".453" stop-color="#4433cc"/><stop offset=".538" stop-color="#4851f3"/><stop offset=".604" stop-color="#3c72ff"/><stop offset=".64" stop-color="#2995ec"/><stop offset=".657" stop-color="#14b0d8"/><stop offset=".664" stop-color="#02bac4"/><stop offset=".668" stop-color="#32c69e"/><stop offset=".67" stop-color="#48cb86"/><stop offset=".677" stop-color="#adc638"/><stop offset=".679" stop-color="#ccc028"/><stop offset=".685" stop-color="#f9bb3d"/><stop offset=".698" stop-color="#f9d82c"/><stop offset=".717" stop-color="#f5ef20"/><stop offset=".745" stop-color="#f8f818"/><stop offset=".768" stop-color="#f5ee21"/><stop offset=".811" stop-color="#fdbd3d"/><stop offset=".832" stop-color="#d1bf27"/><stop offset=".857" stop-color="#89cb52"/><stop offset=".887" stop-color="#3fca8e"/><stop offset=".915" stop-color="#1abfb5"/><stop offset=".928" stop-color="#01b9c6"/><stop offset=".94" stop-color="#12b1d7"/><stop offset=".972" stop-color="#317efb"/><stop offset=".987" stop-color="#475af9"/><stop offset="1" stop-color="#463ada"/></linearGradient>
<linearGradient id="bh0" gradientUnits="userSpaceOnUse" x1="0" y1="566.71" x2="0" y2="542.55" spreadMethod="repeat"><stop offset="0" stop-color="#2d88f6"/><stop offset=".052" stop-color="#1caadf"/><stop offset=".066" stop-color="#01b9c7"/><stop offset=".069" stop-color="#06bcc0"/><stop offset=".08" stop-color="#2fc5a2"/><stop offset=".09" stop-color="#55cc7b"/><stop offset=".111" stop-color="#bac430"/><stop offset=".121" stop-color="#d9be28"/><stop offset=".138" stop-color="#fabb3d"/><stop offset=".18" stop-color="#f9d82c"/><stop offset=".266" stop-color="#f7f31d"/><stop offset=".381" stop-color="#f5ee21"/><stop offset=".426" stop-color="#f9d62d"/><stop offset=".446" stop-color="#fbbc3d"/><stop offset=".457" stop-color="#e4bb2c"/><stop offset=".464" stop-color="#c1c32d"/><stop offset=".481" stop-color="#54cc7c"/><stop offset=".491" stop-color="#26c2ad"/><stop offset=".495" stop-color="#0ebdbb"/><stop offset=".498" stop-color="#01b8c9"/><stop offset=".509" stop-color="#23a1e4"/><stop offset=".526" stop-color="#3a74fe"/><stop offset=".54" stop-color="#4851f4"/><stop offset=".557" stop-color="#4539d9"/><stop offset=".578" stop-color="#402ab5"/><stop offset=".606" stop-color="#3e27aa"/><stop offset=".772" stop-color="#4745e9"/><stop offset=".903" stop-color="#416bfe"/><stop offset="1" stop-color="#2d88f6"/></linearGradient>
<linearGradient id="bf0" gradientUnits="userSpaceOnUse" x1="0" y1="606" x2="0" y2="566.71"><stop offset=".404" stop-color="#0bb3d2"/><stop offset=".406" stop-color="#01b8ca"/><stop offset=".409" stop-color="#05bbc1"/><stop offset=".415" stop-color="#2cc4a6"/><stop offset=".423" stop-color="#52cc7e"/><stop offset=".438" stop-color="#b0c636"/><stop offset=".445" stop-color="#cfc028"/><stop offset=".46" stop-color="#fbbc3d"/><stop offset=".502" stop-color="#f5ea23"/><stop offset=".566" stop-color="#f7f61a"/><stop offset=".619" stop-color="#f5e924"/><stop offset=".638" stop-color="#f8d92c"/><stop offset=".651" stop-color="#fcbd3d"/><stop offset=".657" stop-color="#e9bb2f"/><stop offset=".662" stop-color="#c6c22a"/><stop offset=".67" stop-color="#6ccd68"/><stop offset=".677" stop-color="#34c79c"/><stop offset=".679" stop-color="#27c2ac"/><stop offset=".683" stop-color="#01b8c8"/><stop offset=".689" stop-color="#23a0e5"/><stop offset=".7" stop-color="#3b73fe"/><stop offset=".709" stop-color="#4851f3"/><stop offset=".721" stop-color="#4536d4"/><stop offset=".732" stop-color="#402ab5"/><stop offset=".751" stop-color="#3e27aa"/><stop offset=".855" stop-color="#4745e9"/><stop offset=".938" stop-color="#416bfe"/><stop offset="1" stop-color="#2d88f6"/></linearGradient>
<linearGradient id="bh1" gradientUnits="userSpaceOnUse" x1="0" y1="566.71" x2="0" y2="542.55" spreadMethod="repeat"><stop offset="0" stop-color="#2d89f6"/><stop offset=".052" stop-color="#1caadf"/><stop offset=".066" stop-color="#01b9c7"/><stop offset=".069" stop-color="#06bcc0"/><stop offset=".08" stop-color="#2fc5a3"/><stop offset=".09" stop-color="#54cc7c"/><stop offset=".111" stop-color="#b8c431"/><stop offset=".121" stop-color="#d7be28"/><stop offset=".138" stop-color="#f8ba3d"/><stop offset=".173" stop-color="#fbd32e"/><stop offset=".253" stop-color="#f6f01f"/><stop offset=".374" stop-color="#f5ef20"/><stop offset=".422" stop-color="#f8da2b"/><stop offset=".443" stop-color="#febe3c"/><stop offset=".453" stop-color="#edba34"/><stop offset=".46" stop-color="#d2bf27"/><stop offset=".467" stop-color="#aac73a"/><stop offset=".484" stop-color="#40ca8d"/><stop offset=".491" stop-color="#25c2ad"/><stop offset=".495" stop-color="#0ebdbb"/><stop offset=".498" stop-color="#01b8c9"/><stop offset=".509" stop-color="#23a1e4"/><stop offset=".526" stop-color="#3974fe"/><stop offset=".54" stop-color="#4852f4"/><stop offset=".557" stop-color="#4639da"/><stop offset=".578" stop-color="#402bb6"/><stop offset=".606" stop-color="#3e27ab"/><stop offset=".772" stop-color="#4745e9"/><stop offset=".907" stop-color="#406dfe"/><stop offset="1" stop-color="#2d89f6"/></linearGradient>
<linearGradient id="bf1" gradientUnits="userSpaceOnUse" x1="0" y1="606" x2="0" y2="566.71"><stop offset=".404" stop-color="#0bb3d2"/><stop offset=".406" stop-color="#01b8ca"/><stop offset=".409" stop-color="#04bbc1"/><stop offset=".415" stop-color="#2cc4a7"/><stop offset=".423" stop-color="#51cc7f"/><stop offset=".438" stop-color="#afc637"/><stop offset=".447" stop-color="#d6be28"/><stop offset=".462" stop-color="#febd3c"/><stop offset=".502" stop-color="#f5e924"/><stop offset=".566" stop-color="#f7f51b"/><stop offset=".619" stop-color="#f5e825"/><stop offset=".638" stop-color="#f9d82c"/><stop offset=".651" stop-color="#fbbc3d"/><stop offset=".657" stop-color="#e7bb2e"/><stop offset=".662" stop-color="#c4c22b"/><stop offset=".672" stop-color="#56cc7b"/><stop offset=".679" stop-color="#27c2ac"/><stop offset=".683" stop-color="#01b8c8"/><stop offset=".689" stop-color="#23a0e5"/><stop offset=".7" stop-color="#3b73fe"/><stop offset=".709" stop-color="#4851f3"/><stop offset=".721" stop-color="#4536d5"/><stop offset=".732" stop-color="#402bb6"/><stop offset=".751" stop-color="#3e27ac"/><stop offset=".855" stop-color="#4745e9"/><stop offset=".94" stop-color="#406cfe"/><stop offset="1" stop-color="#2d89f6"/></linearGradient>
<linearGradient id="bh2" gradientUnits="userSpaceOnUse" x1="0" y1="566.71" x2="0" y2="542.55" spreadMethod="repeat"><stop offset="0" stop-color="#2d89f5"/><stop offset=".052" stop-color="#1caadf"/><stop offset=".066" stop-color="#01b9c8"/><stop offset=".069" stop-color="#05bbc1"/><stop offset=".08" stop-color="#2ec5a4"/><stop offset=".09" stop-color="#51cc7f"/><stop offset=".111" stop-color="#b2c534"/><stop offset=".121" stop-color="#d2bf27"/><stop offset=".138" stop-color="#f4ba3a"/><stop offset=".159" stop-color="#fec735"/><stop offset=".235" stop-color="#f5e825"/><stop offset=".339" stop-color="#f5ee21"/><stop offset=".401" stop-color="#f6e028"/><stop offset=".426" stop-color="#fcd12f"/><stop offset=".443" stop-color="#fbbc3d"/><stop offset=".457" stop-color="#ddbd29"/><stop offset=".464" stop-color="#bac430"/><stop offset=".481" stop-color="#50cc80"/><stop offset=".491" stop-color="#25c2ae"/><stop offset=".495" stop-color="#0dbdbc"/><stop offset=".498" stop-color="#01b8c9"/><stop offset=".509" stop-color="#22a1e4"/><stop offset=".526" stop-color="#3975fe"/><stop offset=".54" stop-color="#4853f5"/><stop offset=".557" stop-color="#463bdc"/><stop offset=".578" stop-color="#412cb9"/><stop offset=".609" stop-color="#3f29b0"/><stop offset=".772" stop-color="#4747eb"/><stop offset=".907" stop-color="#3f6efe"/><stop offset="1" stop-color="#2d89f5"/></linearGradient>
<linearGradient id="bf2" gradientUnits="userSpaceOnUse" x1="0" y1="606" x2="0" y2="566.71"><stop offset=".404" stop-color="#0bb3d2"/><stop offset=".406" stop-color="#01b7ca"/><stop offset=".409" stop-color="#04bbc2"/><stop offset=".415" stop-color="#2bc3a8"/><stop offset=".423" stop-color="#4ecc81"/><stop offset=".44" stop-color="#b4c533"/><stop offset=".449" stop-color="#d9be28"/><stop offset=".462" stop-color="#fabc3d"/><stop offset=".506" stop-color="#f5e725"/><stop offset=".574" stop-color="#f6ef20"/><stop offset=".619" stop-color="#f5e427"/><stop offset=".638" stop-color="#fbd32e"/><stop offset=".649" stop-color="#fdbd3d"/><stop offset=".657" stop-color="#e2bc2b"/><stop offset=".66" stop-color="#d1bf27"/><stop offset=".664" stop-color="#aac73a"/><stop offset=".674" stop-color="#40ca8d"/><stop offset=".679" stop-color="#26c2ad"/><stop offset=".681" stop-color="#0ebdbb"/><stop offset=".683" stop-color="#01b8c8"/><stop offset=".689" stop-color="#23a1e4"/><stop offset=".7" stop-color="#3a74fe"/><stop offset=".709" stop-color="#4852f4"/><stop offset=".721" stop-color="#4538d7"/><stop offset=".734" stop-color="#402bb8"/><stop offset=".751" stop-color="#3f29af"/><stop offset=".855" stop-color="#4747eb"/><stop offset=".943" stop-color="#3f6eff"/><stop offset="1" stop-color="#2d89f5"/></linearGradient>
<linearGradient id="bh3" gradientUnits="userSpaceOnUse" x1="0" y1="566.71" x2="0" y2="542.55" spreadMethod="repeat"><stop offset="0" stop-color="#2d8af4"/><stop offset=".052" stop-color="#1caadf"/><stop offset=".066" stop-color="#01b8c8"/><stop offset=".069" stop-color="#04bbc1"/><stop offset=".08" stop-color="#2dc4a6"/><stop offset=".09" stop-color="#4ccb83"/><stop offset=".111" stop-color="#aac73a"/><stop offset=".125" stop-color="#d3bf27"/><stop offset=".145" stop-color="#f5ba3a"/><stop offset=".166" stop-color="#fec537"/><stop offset=".253" stop-color="#f5e426"/><stop offset=".374" stop-color="#f5e327"/><stop offset=".426" stop-color="#feca33"/><stop offset=".439" stop-color="#fabb3d"/><stop offset=".457" stop-color="#d5be28"/><stop offset=".464" stop-color="#b1c636"/><stop offset=".481" stop-color="#4bcb84"/><stop offset=".491" stop-color="#22c1af"/><stop offset=".495" stop-color="#0bbdbd"/><stop offset=".498" stop-color="#01b8c9"/><stop offset=".509" stop-color="#22a1e4"/><stop offset=".526" stop-color="#3777fe"/><stop offset=".54" stop-color="#4755f6"/><stop offset=".561" stop-color="#463adb"/><stop offset=".578" stop-color="#422ebf"/><stop offset=".609" stop-color="#402bb6"/><stop offset=".768" stop-color="#4848ec"/><stop offset=".907" stop-color="#3e6fff"/><stop offset="1" stop-color="#2d8af4"/></linearGradient>
<linearGradient id="bf3" gradientUnits="userSpaceOnUse" x1="0" y1="606" x2="0" y2="566.71"><stop offset=".404" stop-color="#0bb3d2"/><stop offset=".406" stop-color="#02b7cb"/><stop offset=".409" stop-color="#03bbc2"/><stop offset=".417" stop-color="#30c5a1"/><stop offset=".426" stop-color="#56cc7b"/><stop offset=".443" stop-color="#b6c533"/><stop offset=".451" stop-color="#d7be28"/><stop offset=".466" stop-color="#fbbc3d"/><stop offset=".513" stop-color="#f5e227"/><stop offset=".594" stop-color="#f5e626"/><stop offset=".636" stop-color="#fcd12f"/><stop offset=".647" stop-color="#fcbc3d"/><stop offset=".657" stop-color="#dabd28"/><stop offset=".662" stop-color="#b6c533"/><stop offset=".672" stop-color="#4dcc82"/><stop offset=".679" stop-color="#24c1ae"/><stop offset=".681" stop-color="#0cbdbc"/><stop offset=".683" stop-color="#01b8c9"/><stop offset=".689" stop-color="#22a1e4"/><stop offset=".7" stop-color="#3875fe"/><stop offset=".709" stop-color="#4854f6"/><stop offset=".723" stop-color="#4537d6"/><stop offset=".734" stop-color="#412ebe"/><stop offset=".753" stop-color="#402bb7"/><stop offset=".855" stop-color="#4849ed"/><stop offset=".943" stop-color="#3d70ff"/><stop offset="1" stop-color="#2d8af4"/></linearGradient>
<linearGradient id="bh4" gradientUnits="userSpaceOnUse" x1="0" y1="566.71" x2="0" y2="542.55" spreadMethod="repeat"><stop offset="0" stop-color="#2d8cf3"/><stop offset=".052" stop-color="#1baade"/><stop offset=".066" stop-color="#01b8c9"/><stop offset=".069" stop-color="#03bbc2"/><stop offset=".083" stop-color="#32c69f"/><stop offset=".1" stop-color="#6fcd66"/><stop offset=".114" stop-color="#a8c73b"/><stop offset=".128" stop-color="#cfc028"/><stop offset=".163" stop-color="#fcbc3d"/><stop offset=".263" stop-color="#f7db2b"/><stop offset=".381" stop-color="#fad62d"/><stop offset=".426" stop-color="#fec239"/><stop offset=".436" stop-color="#f5ba3b"/><stop offset=".453" stop-color="#d4bf28"/><stop offset=".46" stop-color="#b6c532"/><stop offset=".481" stop-color="#44cb89"/><stop offset=".491" stop-color="#1fc1b1"/><stop offset=".495" stop-color="#09bcbe"/><stop offset=".498" stop-color="#01b8ca"/><stop offset=".509" stop-color="#22a2e4"/><stop offset=".526" stop-color="#3579fd"/><stop offset=".54" stop-color="#4758f8"/><stop offset=".564" stop-color="#463bdc"/><stop offset=".581" stop-color="#4331c6"/><stop offset=".609" stop-color="#422ec0"/><stop offset=".772" stop-color="#484df0"/><stop offset=".913" stop-color="#3a74fe"/><stop offset="1" stop-color="#2d8cf3"/></linearGradient>
<linearGradient id="bf4" gradientUnits="userSpaceOnUse" x1="0" y1="606" x2="0" y2="566.71"><stop offset=".404" stop-color="#0bb3d2"/><stop offset=".409" stop-color="#02bac3"/><stop offset=".417" stop-color="#2ec4a4"/><stop offset=".426" stop-color="#4ecc81"/><stop offset=".445" stop-color="#b2c635"/><stop offset=".455" stop-color="#d8be28"/><stop offset=".472" stop-color="#fbbc3d"/><stop offset=".523" stop-color="#f7db2b"/><stop offset=".609" stop-color="#f9d82c"/><stop offset=".64" stop-color="#fec03b"/><stop offset=".647" stop-color="#f2ba38"/><stop offset=".657" stop-color="#cdc028"/><stop offset=".664" stop-color="#95ca49"/><stop offset=".672" stop-color="#47cb87"/><stop offset=".679" stop-color="#21c1b0"/><stop offset=".681" stop-color="#0abdbd"/><stop offset=".683" stop-color="#01b8c9"/><stop offset=".689" stop-color="#22a2e4"/><stop offset=".7" stop-color="#3678fd"/><stop offset=".709" stop-color="#4758f8"/><stop offset=".726" stop-color="#4538d8"/><stop offset=".736" stop-color="#4330c5"/><stop offset=".753" stop-color="#422fc0"/><stop offset=".855" stop-color="#484df0"/><stop offset=".945" stop-color="#3a74fe"/><stop offset="1" stop-color="#2d8cf3"/></linearGradient>
<linearGradient id="bh5" gradientUnits="userSpaceOnUse" x1="0" y1="566.71" x2="0" y2="542.55" spreadMethod="repeat"><stop offset="0" stop-color="#2c8ef2"/><stop offset=".052" stop-color="#1babde"/><stop offset=".066" stop-color="#01b8c9"/><stop offset=".073" stop-color="#0cbdbc"/><stop offset=".083" stop-color="#2fc5a3"/><stop offset=".097" stop-color="#55cc7b"/><stop offset=".118" stop-color="#a1c840"/><stop offset=".135" stop-color="#cbc129"/><stop offset=".163" stop-color="#eeba34"/><stop offset=".194" stop-color="#febe3c"/><stop offset=".304" stop-color="#fcd030"/><stop offset=".398" stop-color="#fec338"/><stop offset=".426" stop-color="#f7ba3c"/><stop offset=".446" stop-color="#d2bf27"/><stop offset=".457" stop-color="#b7c532"/><stop offset=".478" stop-color="#4bcb83"/><stop offset=".491" stop-color="#1bc0b4"/><stop offset=".495" stop-color="#07bcbf"/><stop offset=".498" stop-color="#01b7ca"/><stop offset=".509" stop-color="#21a3e3"/><stop offset=".529" stop-color="#3974fe"/><stop offset=".543" stop-color="#4755f6"/><stop offset=".581" stop-color="#4536d3"/><stop offset=".612" stop-color="#4433cd"/><stop offset=".789" stop-color="#4756f7"/><stop offset=".92" stop-color="#3479fd"/><stop offset="1" stop-color="#2c8ef2"/></linearGradient>
<linearGradient id="bf5" gradientUnits="userSpaceOnUse" x1="0" y1="606" x2="0" y2="566.71"><stop offset=".404" stop-color="#0bb3d2"/><stop offset=".409" stop-color="#02bac4"/><stop offset=".417" stop-color="#2bc3a8"/><stop offset=".428" stop-color="#4fcc80"/><stop offset=".449" stop-color="#b2c635"/><stop offset=".46" stop-color="#d3bf27"/><stop offset=".483" stop-color="#fabb3d"/><stop offset=".543" stop-color="#fcd030"/><stop offset=".619" stop-color="#fec537"/><stop offset=".638" stop-color="#f9bb3d"/><stop offset=".651" stop-color="#d5be28"/><stop offset=".657" stop-color="#bcc42f"/><stop offset=".67" stop-color="#4ecc81"/><stop offset=".679" stop-color="#1dc0b3"/><stop offset=".681" stop-color="#08bcbf"/><stop offset=".683" stop-color="#01b8ca"/><stop offset=".689" stop-color="#21a3e4"/><stop offset=".702" stop-color="#3b73fe"/><stop offset=".713" stop-color="#4850f3"/><stop offset=".736" stop-color="#4435d2"/><stop offset=".755" stop-color="#4434ce"/><stop offset=".868" stop-color="#4757f7"/><stop offset=".953" stop-color="#337bfd"/><stop offset="1" stop-color="#2c8ef2"/></linearGradient>
<linearGradient id="bh6" gradientUnits="userSpaceOnUse" x1="0" y1="566.71" x2="0" y2="542.55" spreadMethod="repeat"><stop offset="0" stop-color="#2b90ef"/><stop offset=".052" stop-color="#1aabdd"/><stop offset=".066" stop-color="#01b8ca"/><stop offset=".073" stop-color="#09bcbe"/><stop offset=".083" stop-color="#2bc3a8"/><stop offset=".1" stop-color="#54cc7d"/><stop offset=".125" stop-color="#9ec942"/><stop offset=".152" stop-color="#cdc028"/><stop offset=".204" stop-color="#f2ba38"/><stop offset=".291" stop-color="#fec03b"/><stop offset=".391" stop-color="#f8ba3d"/><stop offset=".422" stop-color="#e9bb2f"/><stop offset=".439" stop-color="#cac129"/><stop offset=".457" stop-color="#a0c841"/><stop offset=".478" stop-color="#41ca8d"/><stop offset=".488" stop-color="#27c2ac"/><stop offset=".495" stop-color="#05bbc1"/><stop offset=".498" stop-color="#02b7cb"/><stop offset=".509" stop-color="#20a4e3"/><stop offset=".533" stop-color="#3c72ff"/><stop offset=".55" stop-color="#4854f5"/><stop offset=".585" stop-color="#463cdf"/><stop offset=".637" stop-color="#463de0"/><stop offset=".848" stop-color="#406cfe"/><stop offset=".979" stop-color="#2d8cf3"/><stop offset="1" stop-color="#2b90ef"/></linearGradient>
<linearGradient id="bf6" gradientUnits="userSpaceOnUse" x1="0" y1="606" x2="0" y2="566.71"><stop offset=".404" stop-color="#0bb3d2"/><stop offset=".409" stop-color="#01b9c6"/><stop offset=".419" stop-color="#2dc4a6"/><stop offset=".432" stop-color="#55cc7b"/><stop offset=".455" stop-color="#b0c636"/><stop offset=".47" stop-color="#d4bf28"/><stop offset=".5" stop-color="#f7ba3c"/><stop offset=".574" stop-color="#fec03b"/><stop offset=".621" stop-color="#f6ba3b"/><stop offset=".638" stop-color="#e6bb2d"/><stop offset=".649" stop-color="#c6c22a"/><stop offset=".657" stop-color="#a5c83d"/><stop offset=".67" stop-color="#43ca8b"/><stop offset=".677" stop-color="#28c2ab"/><stop offset=".681" stop-color="#05bbc1"/><stop offset=".683" stop-color="#02b7cb"/><stop offset=".689" stop-color="#20a4e3"/><stop offset=".704" stop-color="#3d71ff"/><stop offset=".715" stop-color="#4854f5"/><stop offset=".738" stop-color="#463cde"/><stop offset=".777" stop-color="#473ee1"/><stop offset=".904" stop-color="#406dfe"/><stop offset=".987" stop-color="#2d8cf3"/><stop offset="1" stop-color="#2b90ef"/></linearGradient>
<linearGradient id="bh7" gradientUnits="userSpaceOnUse" x1="0" y1="566.71" x2="0" y2="542.55" spreadMethod="repeat"><stop offset="0" stop-color="#2994ed"/><stop offset=".052" stop-color="#1aacdd"/><stop offset=".069" stop-color="#01b9c7"/><stop offset=".09" stop-color="#32c69f"/><stop offset=".107" stop-color="#58cc79"/><stop offset=".135" stop-color="#98ca47"/><stop offset=".17" stop-color="#c2c22c"/><stop offset=".225" stop-color="#dfbc2a"/><stop offset=".322" stop-color="#eaba31"/><stop offset=".388" stop-color="#dfbc2a"/><stop offset=".422" stop-color="#cdc028"/><stop offset=".453" stop-color="#90ca4d"/><stop offset=".474" stop-color="#40ca8d"/><stop offset=".488" stop-color="#20c1b1"/><stop offset=".495" stop-color="#02bac3"/><stop offset=".498" stop-color="#03b7cc"/><stop offset=".509" stop-color="#1fa6e2"/><stop offset=".536" stop-color="#3c72ff"/><stop offset=".554" stop-color="#475af9"/><stop offset=".588" stop-color="#4747eb"/><stop offset=".737" stop-color="#4759f8"/><stop offset=".875" stop-color="#347afd"/><stop offset="1" stop-color="#2994ed"/></linearGradient>
<linearGradient id="bf7" gradientUnits="userSpaceOnUse" x1="0" y1="606" x2="0" y2="566.71"><stop offset=".404" stop-color="#0bb3d2"/><stop offset=".409" stop-color="#01b9c7"/><stop offset=".423" stop-color="#31c6a0"/><stop offset=".438" stop-color="#5ccc76"/><stop offset=".464" stop-color="#aac73a"/><stop offset=".487" stop-color="#d1bf27"/><stop offset=".53" stop-color="#e9bb30"/><stop offset=".611" stop-color="#e4bb2c"/><stop offset=".638" stop-color="#cac129"/><stop offset=".657" stop-color="#8acb52"/><stop offset=".668" stop-color="#42ca8b"/><stop offset=".677" stop-color="#22c1b0"/><stop offset=".681" stop-color="#02bbc3"/><stop offset=".683" stop-color="#03b7cc"/><stop offset=".689" stop-color="#1fa5e2"/><stop offset=".706" stop-color="#3c71ff"/><stop offset=".719" stop-color="#4758f8"/><stop offset=".743" stop-color="#4746ea"/><stop offset=".86" stop-color="#4563fc"/><stop offset=".966" stop-color="#2d88f6"/><stop offset="1" stop-color="#2994ed"/></linearGradient>
<linearGradient id="bh8" gradientUnits="userSpaceOnUse" x1="0" y1="566.71" x2="0" y2="542.55" spreadMethod="repeat"><stop offset="0" stop-color="#2798ea"/><stop offset=".052" stop-color="#19addc"/><stop offset=".069" stop-color="#01b8c8"/><stop offset=".076" stop-color="#09bcbe"/><stop offset=".09" stop-color="#2cc4a7"/><stop offset=".118" stop-color="#58cc79"/><stop offset=".152" stop-color="#8dcb50"/><stop offset=".215" stop-color="#b7c532"/><stop offset=".301" stop-color="#c8c129"/><stop offset=".384" stop-color="#bdc32e"/><stop offset=".422" stop-color="#a8c73b"/><stop offset=".457" stop-color="#66cd6d"/><stop offset=".474" stop-color="#36c799"/><stop offset=".488" stop-color="#18bfb6"/><stop offset=".495" stop-color="#01bac6"/><stop offset=".512" stop-color="#22a1e4"/><stop offset=".54" stop-color="#3875fe"/><stop offset=".564" stop-color="#465efb"/><stop offset=".612" stop-color="#4854f5"/><stop offset=".799" stop-color="#3b72ff"/><stop offset=".931" stop-color="#2d8cf3"/><stop offset="1" stop-color="#2798ea"/></linearGradient>
<linearGradient id="bf8" gradientUnits="userSpaceOnUse" x1="0" y1="606" x2="0" y2="566.71"><stop offset=".404" stop-color="#0bb3d2"/><stop offset=".411" stop-color="#02bac4"/><stop offset=".426" stop-color="#2ec5a3"/><stop offset=".449" stop-color="#63cd70"/><stop offset=".479" stop-color="#a1c840"/><stop offset=".515" stop-color="#c2c32c"/><stop offset=".587" stop-color="#c6c22a"/><stop offset=".619" stop-color="#b9c430"/><stop offset=".638" stop-color="#a5c83d"/><stop offset=".657" stop-color="#6acd6a"/><stop offset=".668" stop-color="#37c898"/><stop offset=".677" stop-color="#19bfb5"/><stop offset=".681" stop-color="#01bac5"/><stop offset=".685" stop-color="#0eb2d4"/><stop offset=".694" stop-color="#259be8"/><stop offset=".709" stop-color="#3975fe"/><stop offset=".726" stop-color="#475cfa"/><stop offset=".76" stop-color="#4854f5"/><stop offset=".874" stop-color="#3b73fe"/><stop offset=".964" stop-color="#2c8ef2"/><stop offset="1" stop-color="#2798ea"/></linearGradient>
<linearGradient id="bh9" gradientUnits="userSpaceOnUse" x1="0" y1="566.71" x2="0" y2="542.55" spreadMethod="repeat"><stop offset="0" stop-color="#259de7"/><stop offset=".052" stop-color="#17aeda"/><stop offset=".073" stop-color="#01b9c6"/><stop offset=".1" stop-color="#2fc5a3"/><stop offset=".152" stop-color="#65cd6e"/><stop offset=".218" stop-color="#8acb52"/><stop offset=".311" stop-color="#98c947"/><stop offset=".388" stop-color="#8dcb50"/><stop offset=".422" stop-color="#7ccc5c"/><stop offset=".46" stop-color="#41ca8c"/><stop offset=".484" stop-color="#19bfb5"/><stop offset=".491" stop-color="#04bbc2"/><stop offset=".498" stop-color="#05b6ce"/><stop offset=".512" stop-color="#20a4e3"/><stop offset=".554" stop-color="#3974fe"/><stop offset=".595" stop-color="#4564fd"/><stop offset=".775" stop-color="#337bfd"/><stop offset="1" stop-color="#259de7"/></linearGradient>
<linearGradient id="bf9" gradientUnits="userSpaceOnUse" x1="0" y1="606" x2="0" y2="566.71"><stop offset=".404" stop-color="#0bb3d2"/><stop offset=".413" stop-color="#02bbc3"/><stop offset=".43" stop-color="#2dc4a6"/><stop offset=".481" stop-color="#78cc5f"/><stop offset=".521" stop-color="#95ca49"/><stop offset=".606" stop-color="#94ca4a"/><stop offset=".638" stop-color="#79cc5e"/><stop offset=".66" stop-color="#43ca8a"/><stop offset=".674" stop-color="#1ac0b4"/><stop offset=".679" stop-color="#05bbc1"/><stop offset=".683" stop-color="#05b6ce"/><stop offset=".691" stop-color="#20a4e3"/><stop offset=".717" stop-color="#3974fe"/><stop offset=".745" stop-color="#4564fd"/><stop offset=".86" stop-color="#327bfc"/><stop offset="1" stop-color="#259de7"/></linearGradient>
<linearGradient id="bh10" gradientUnits="userSpaceOnUse" x1="0" y1="566.71" x2="0" y2="542.55" spreadMethod="repeat"><stop offset="0" stop-color="#22a2e4"/><stop offset=".055" stop-color="#12b1d6"/><stop offset=".076" stop-color="#01b9c6"/><stop offset=".114" stop-color="#2ec5a4"/><stop offset=".19" stop-color="#50cc7f"/><stop offset=".301" stop-color="#62cd70"/><stop offset=".401" stop-color="#56cc7b"/><stop offset=".433" stop-color="#45cb89"/><stop offset=".474" stop-color="#20c1b1"/><stop offset=".491" stop-color="#01b9c6"/><stop offset=".519" stop-color="#22a1e4"/><stop offset=".561" stop-color="#2f82fa"/><stop offset=".626" stop-color="#347afd"/><stop offset="1" stop-color="#22a2e4"/></linearGradient>
<linearGradient id="bf10" gradientUnits="userSpaceOnUse" x1="0" y1="606" x2="0" y2="566.71"><stop offset=".404" stop-color="#0bb3d2"/><stop offset=".415" stop-color="#02bac4"/><stop offset=".44" stop-color="#2dc4a6"/><stop offset=".498" stop-color="#57cc7a"/><stop offset=".57" stop-color="#62cd71"/><stop offset=".626" stop-color="#55cc7b"/><stop offset=".643" stop-color="#46cb88"/><stop offset=".666" stop-color="#27c2ac"/><stop offset=".679" stop-color="#01bac6"/><stop offset=".696" stop-color="#23a1e4"/><stop offset=".721" stop-color="#2f82fa"/><stop offset=".762" stop-color="#347afd"/><stop offset="1" stop-color="#22a2e4"/></linearGradient>
<linearGradient id="bh11" gradientUnits="userSpaceOnUse" x1="0" y1="566.71" x2="0" y2="542.55" spreadMethod="repeat"><stop offset="0" stop-color="#1da8e0"/><stop offset=".055" stop-color="#10b2d5"/><stop offset=".083" stop-color="#01b9c6"/><stop offset=".138" stop-color="#28c3ab"/><stop offset=".287" stop-color="#36c898"/><stop offset=".426" stop-color="#30c5a2"/><stop offset=".46" stop-color="#1fc0b2"/><stop offset=".488" stop-color="#01b9c7"/><stop offset=".526" stop-color="#21a3e3"/><stop offset=".585" stop-color="#2c8ff1"/><stop offset="1" stop-color="#1da8e0"/></linearGradient>
<linearGradient id="bf11" gradientUnits="userSpaceOnUse" x1="0" y1="606" x2="0" y2="566.71"><stop offset=".404" stop-color="#0bb3d2"/><stop offset=".421" stop-color="#02bac3"/><stop offset=".462" stop-color="#2ac3a9"/><stop offset=".545" stop-color="#36c898"/><stop offset=".638" stop-color="#30c5a1"/><stop offset=".662" stop-color="#1cc0b4"/><stop offset=".677" stop-color="#01b9c7"/><stop offset=".7" stop-color="#21a3e3"/><stop offset=".738" stop-color="#2c8ef1"/><stop offset="1" stop-color="#1da8e0"/></linearGradient>
<linearGradient id="bh12" gradientUnits="userSpaceOnUse" x1="0" y1="566.71" x2="0" y2="542.55" spreadMethod="repeat"><stop offset="0" stop-color="#17aeda"/><stop offset=".08" stop-color="#05b6cd"/><stop offset=".145" stop-color="#08bcbf"/><stop offset=".332" stop-color="#15bfb7"/><stop offset=".446" stop-color="#07bcbf"/><stop offset=".488" stop-color="#04b6cd"/><stop offset=".54" stop-color="#1da8e0"/><stop offset=".713" stop-color="#20a4e3"/><stop offset="1" stop-color="#17aeda"/></linearGradient>
<linearGradient id="bf12" gradientUnits="userSpaceOnUse" x1="0" y1="606" x2="0" y2="566.71"><stop offset=".404" stop-color="#0bb3d2"/><stop offset=".44" stop-color="#02bac4"/><stop offset=".543" stop-color="#16bfb7"/><stop offset=".64" stop-color="#0dbdbc"/><stop offset=".674" stop-color="#02b7cb"/><stop offset=".709" stop-color="#1da8e0"/><stop offset=".819" stop-color="#20a4e3"/><stop offset="1" stop-color="#17aeda"/></linearGradient>
<linearGradient id="bh13" gradientUnits="userSpaceOnUse" x1="0" y1="566.71" x2="0" y2="542.55" spreadMethod="repeat"><stop offset="0" stop-color="#0bb3d2"/><stop offset="1" stop-color="#0bb3d2"/></linearGradient>
<linearGradient id="bf13" gradientUnits="userSpaceOnUse" x1="0" y1="606" x2="0" y2="566.71"><stop offset=".404" stop-color="#0bb3d2"/><stop offset="1" stop-color="#0bb3d2"/></linearGradient>
<linearGradient id="bh14" gradientUnits="userSpaceOnUse" x1="0" y1="566.71" x2="0" y2="542.55" spreadMethod="repeat"><stop offset="0" stop-color="#0bb4d2"/><stop offset=".045" stop-color="#1fa6e1"/><stop offset=".308" stop-color="#1da8e0"/><stop offset=".55" stop-color="#10b2d5"/><stop offset=".606" stop-color="#01b9c6"/><stop offset=".792" stop-color="#15bfb7"/><stop offset=".934" stop-color="#0abdbd"/><stop offset=".986" stop-color="#03b7cc"/><stop offset="1" stop-color="#0bb4d2"/></linearGradient>
<linearGradient id="bf14" gradientUnits="userSpaceOnUse" x1="0" y1="606" x2="0" y2="566.71"><stop offset=".404" stop-color="#0bb3d2"/><stop offset=".432" stop-color="#21a4e3"/><stop offset=".694" stop-color="#11b1d6"/><stop offset=".732" stop-color="#01bac5"/><stop offset=".855" stop-color="#15bfb7"/><stop offset=".953" stop-color="#0bbdbc"/><stop offset=".989" stop-color="#02b7cb"/><stop offset="1" stop-color="#0bb4d2"/></linearGradient>
<linearGradient id="bh15" gradientUnits="userSpaceOnUse" x1="0" y1="566.71" x2="0" y2="542.55" spreadMethod="repeat"><stop offset="0" stop-color="#0ab4d2"/><stop offset=".024" stop-color="#20a4e3"/><stop offset=".08" stop-color="#2c8ff1"/><stop offset=".54" stop-color="#17aedb"/><stop offset=".585" stop-color="#02bac5"/><stop offset=".637" stop-color="#27c2ab"/><stop offset=".785" stop-color="#36c898"/><stop offset=".927" stop-color="#2fc5a3"/><stop offset=".962" stop-color="#1dc0b3"/><stop offset=".986" stop-color="#01bac5"/><stop offset="1" stop-color="#0ab4d2"/></linearGradient>
<linearGradient id="bf15" gradientUnits="userSpaceOnUse" x1="0" y1="606" x2="0" y2="566.71"><stop offset=".404" stop-color="#0bb3d2"/><stop offset=".421" stop-color="#249ee6"/><stop offset=".445" stop-color="#2c8ef2"/><stop offset=".691" stop-color="#16afd9"/><stop offset=".717" stop-color="#01bac5"/><stop offset=".753" stop-color="#28c2ab"/><stop offset=".853" stop-color="#36c898"/><stop offset=".949" stop-color="#30c5a2"/><stop offset=".974" stop-color="#1cc0b4"/><stop offset=".991" stop-color="#01b9c7"/><stop offset="1" stop-color="#0ab4d2"/></linearGradient>
<linearGradient id="bh16" gradientUnits="userSpaceOnUse" x1="0" y1="566.71" x2="0" y2="542.55" spreadMethod="repeat"><stop offset="0" stop-color="#09b4d1"/><stop offset=".017" stop-color="#21a3e4"/><stop offset=".059" stop-color="#2e83f9"/><stop offset=".118" stop-color="#3579fd"/><stop offset=".54" stop-color="#1babde"/><stop offset=".578" stop-color="#02bac4"/><stop offset=".612" stop-color="#2ec4a5"/><stop offset=".689" stop-color="#50cc80"/><stop offset=".799" stop-color="#62cd70"/><stop offset=".9" stop-color="#56cc7b"/><stop offset=".931" stop-color="#46cb88"/><stop offset=".969" stop-color="#28c3ab"/><stop offset=".993" stop-color="#01b8c8"/><stop offset="1" stop-color="#09b4d1"/></linearGradient>
<linearGradient id="bf16" gradientUnits="userSpaceOnUse" x1="0" y1="606" x2="0" y2="566.71"><stop offset=".404" stop-color="#0bb3d2"/><stop offset=".417" stop-color="#259be8"/><stop offset=".436" stop-color="#337bfc"/><stop offset=".555" stop-color="#2d8df2"/><stop offset=".694" stop-color="#18addb"/><stop offset=".713" stop-color="#01bac5"/><stop offset=".736" stop-color="#2ec4a4"/><stop offset=".787" stop-color="#4fcc80"/><stop offset=".864" stop-color="#62cd70"/><stop offset=".932" stop-color="#56cc7b"/><stop offset=".953" stop-color="#46cb88"/><stop offset=".981" stop-color="#24c1ae"/><stop offset=".994" stop-color="#02bac5"/><stop offset="1" stop-color="#09b4d1"/></linearGradient>
<linearGradient id="bh17" gradientUnits="userSpaceOnUse" x1="0" y1="566.71" x2="0" y2="542.55" spreadMethod="repeat"><stop offset="0" stop-color="#09b4d1"/><stop offset=".014" stop-color="#22a2e4"/><stop offset=".052" stop-color="#3876fe"/><stop offset=".093" stop-color="#4464fd"/><stop offset=".273" stop-color="#337afd"/><stop offset=".54" stop-color="#1da8e0"/><stop offset=".561" stop-color="#0bb4d2"/><stop offset=".574" stop-color="#02bac4"/><stop offset=".599" stop-color="#2dc4a5"/><stop offset=".647" stop-color="#60cd72"/><stop offset=".716" stop-color="#89cb52"/><stop offset=".806" stop-color="#99c946"/><stop offset=".889" stop-color="#8ccb50"/><stop offset=".924" stop-color="#79cc5e"/><stop offset=".958" stop-color="#45cb89"/><stop offset=".983" stop-color="#1dc0b2"/><stop offset=".993" stop-color="#02bac5"/><stop offset="1" stop-color="#09b4d1"/></linearGradient>
<linearGradient id="bf17" gradientUnits="userSpaceOnUse" x1="0" y1="606" x2="0" y2="566.71"><stop offset=".404" stop-color="#0bb3d2"/><stop offset=".415" stop-color="#2699e9"/><stop offset=".43" stop-color="#3e70ff"/><stop offset=".447" stop-color="#4564fd"/><stop offset=".577" stop-color="#2e86f7"/><stop offset=".691" stop-color="#1baade"/><stop offset=".711" stop-color="#02bac5"/><stop offset=".728" stop-color="#2fc5a3"/><stop offset=".76" stop-color="#60cd72"/><stop offset=".806" stop-color="#89cb52"/><stop offset=".868" stop-color="#99c946"/><stop offset=".923" stop-color="#8dcb50"/><stop offset=".949" stop-color="#77cc60"/><stop offset=".974" stop-color="#3cc991"/><stop offset=".989" stop-color="#19bfb5"/><stop offset=".996" stop-color="#01b9c6"/><stop offset="1" stop-color="#09b4d1"/></linearGradient>
<linearGradient id="bh18" gradientUnits="userSpaceOnUse" x1="0" y1="566.71" x2="0" y2="542.55" spreadMethod="repeat"><stop offset="0" stop-color="#08b4d0"/><stop offset=".01" stop-color="#20a4e3"/><stop offset=".042" stop-color="#3b72ff"/><stop offset=".083" stop-color="#4755f6"/><stop offset=".228" stop-color="#4563fd"/><stop offset=".412" stop-color="#2d88f6"/><stop offset=".54" stop-color="#1fa6e2"/><stop offset=".557" stop-color="#12b1d6"/><stop offset=".571" stop-color="#01b9c6"/><stop offset=".595" stop-color="#32c69f"/><stop offset=".637" stop-color="#78cc5f"/><stop offset=".675" stop-color="#a1c840"/><stop offset=".737" stop-color="#bfc32d"/><stop offset=".83" stop-color="#c6c22a"/><stop offset=".889" stop-color="#bbc430"/><stop offset=".924" stop-color="#a5c83d"/><stop offset=".955" stop-color="#6dcd68"/><stop offset=".972" stop-color="#39c895"/><stop offset=".986" stop-color="#1fc0b2"/><stop offset=".993" stop-color="#04bbc2"/><stop offset=".997" stop-color="#01b8c9"/><stop offset="1" stop-color="#08b4d0"/></linearGradient>
<linearGradient id="bf18" gradientUnits="userSpaceOnUse" x1="0" y1="606" x2="0" y2="566.71"><stop offset=".404" stop-color="#0bb3d2"/><stop offset=".415" stop-color="#2994ed"/><stop offset=".423" stop-color="#3875fe"/><stop offset=".432" stop-color="#475dfa"/><stop offset=".449" stop-color="#4853f5"/><stop offset=".553" stop-color="#3b72fe"/><stop offset=".628" stop-color="#2d8cf3"/><stop offset=".694" stop-color="#1caadf"/><stop offset=".709" stop-color="#01b9c7"/><stop offset=".717" stop-color="#1ec0b2"/><stop offset=".751" stop-color="#76cc60"/><stop offset=".777" stop-color="#9fc941"/><stop offset=".817" stop-color="#bdc32e"/><stop offset=".883" stop-color="#c6c22a"/><stop offset=".926" stop-color="#bac430"/><stop offset=".947" stop-color="#a9c73b"/><stop offset=".97" stop-color="#68cd6c"/><stop offset=".981" stop-color="#39c994"/><stop offset=".991" stop-color="#19bfb5"/><stop offset=".996" stop-color="#02bac3"/><stop offset="1" stop-color="#08b4d0"/></linearGradient>
<linearGradient id="bh19" gradientUnits="userSpaceOnUse" x1="0" y1="566.71" x2="0" y2="542.55" spreadMethod="repeat"><stop offset="0" stop-color="#08b5d0"/><stop offset=".01" stop-color="#22a2e4"/><stop offset=".035" stop-color="#3875fe"/><stop offset=".052" stop-color="#475bfa"/><stop offset=".09" stop-color="#4746eb"/><stop offset=".249" stop-color="#475cfa"/><stop offset=".412" stop-color="#2f82fa"/><stop offset=".536" stop-color="#22a2e4"/><stop offset=".557" stop-color="#12b1d6"/><stop offset=".567" stop-color="#01b8c9"/><stop offset=".574" stop-color="#0abdbd"/><stop offset=".588" stop-color="#2fc5a2"/><stop offset=".606" stop-color="#53cc7d"/><stop offset=".633" stop-color="#95ca49"/><stop offset=".668" stop-color="#c1c32c"/><stop offset=".723" stop-color="#debc2a"/><stop offset=".817" stop-color="#eaba31"/><stop offset=".889" stop-color="#dfbc2a"/><stop offset=".924" stop-color="#cac129"/><stop offset=".955" stop-color="#8dcb50"/><stop offset=".976" stop-color="#3cc992"/><stop offset=".986" stop-color="#27c2ac"/><stop offset=".993" stop-color="#08bcbf"/><stop offset=".997" stop-color="#01b9c8"/><stop offset="1" stop-color="#08b5d0"/></linearGradient>
<linearGradient id="bf19" gradientUnits="userSpaceOnUse" x1="0" y1="606" x2="0" y2="566.71"><stop offset=".404" stop-color="#0bb3d2"/><stop offset=".413" stop-color="#2797eb"/><stop offset=".421" stop-color="#3a74fe"/><stop offset=".43" stop-color="#4854f6"/><stop offset=".445" stop-color="#4745e9"/><stop offset=".566" stop-color="#3f6efe"/><stop offset=".636" stop-color="#2d89f5"/><stop offset=".694" stop-color="#1da9e0"/><stop offset=".709" stop-color="#02bac5"/><stop offset=".721" stop-color="#32c69e"/><stop offset=".732" stop-color="#56cc7a"/><stop offset=".751" stop-color="#98ca47"/><stop offset=".774" stop-color="#c2c22c"/><stop offset=".813" stop-color="#dfbc2a"/><stop offset=".879" stop-color="#eaba31"/><stop offset=".926" stop-color="#debc2a"/><stop offset=".947" stop-color="#cdc028"/><stop offset=".968" stop-color="#91ca4d"/><stop offset=".983" stop-color="#3dca90"/><stop offset=".991" stop-color="#22c1b0"/><stop offset=".996" stop-color="#06bbc1"/><stop offset=".998" stop-color="#01b8c9"/><stop offset="1" stop-color="#08b5d0"/></linearGradient>
<linearGradient id="bh20" gradientUnits="userSpaceOnUse" x1="0" y1="566.71" x2="0" y2="542.55" spreadMethod="repeat"><stop offset="0" stop-color="#07b5d0"/><stop offset=".01" stop-color="#23a0e5"/><stop offset=".031" stop-color="#3875fe"/><stop offset=".045" stop-color="#4758f8"/><stop offset=".087" stop-color="#463cdf"/><stop offset=".138" stop-color="#463de0"/><stop offset=".349" stop-color="#406dfe"/><stop offset=".478" stop-color="#2d8bf4"/><stop offset=".547" stop-color="#1ea7e1"/><stop offset=".567" stop-color="#01b9c8"/><stop offset=".574" stop-color="#0fbebb"/><stop offset=".585" stop-color="#2ec5a4"/><stop offset=".602" stop-color="#5acc78"/><stop offset=".63" stop-color="#acc739"/><stop offset=".657" stop-color="#d4bf28"/><stop offset=".716" stop-color="#f6ba3b"/><stop offset=".824" stop-color="#febf3b"/><stop offset=".896" stop-color="#f6ba3b"/><stop offset=".924" stop-color="#e6bb2d"/><stop offset=".941" stop-color="#c6c22a"/><stop offset=".955" stop-color="#a8c73b"/><stop offset=".976" stop-color="#47cb87"/><stop offset=".99" stop-color="#1fc0b1"/><stop offset=".997" stop-color="#01b9c6"/><stop offset="1" stop-color="#07b5d0"/></linearGradient>
<linearGradient id="bf20" gradientUnits="userSpaceOnUse" x1="0" y1="606" x2="0" y2="566.71"><stop offset=".404" stop-color="#0bb3d2"/><stop offset=".413" stop-color="#2994ed"/><stop offset=".419" stop-color="#3777fe"/><stop offset=".426" stop-color="#475af9"/><stop offset=".436" stop-color="#473ee1"/><stop offset=".449" stop-color="#463adc"/><stop offset=".568" stop-color="#4367fd"/><stop offset=".651" stop-color="#2d8bf4"/><stop offset=".696" stop-color="#1caadf"/><stop offset=".706" stop-color="#01b8c8"/><stop offset=".711" stop-color="#0cbdbc"/><stop offset=".717" stop-color="#2cc4a7"/><stop offset=".728" stop-color="#53cc7d"/><stop offset=".74" stop-color="#90ca4d"/><stop offset=".753" stop-color="#b9c431"/><stop offset=".772" stop-color="#dcbd29"/><stop offset=".813" stop-color="#f9ba3d"/><stop offset=".913" stop-color="#fdbd3d"/><stop offset=".945" stop-color="#ecba33"/><stop offset=".957" stop-color="#cdc028"/><stop offset=".97" stop-color="#a2c83f"/><stop offset=".985" stop-color="#3eca8f"/><stop offset=".994" stop-color="#1ac0b5"/><stop offset=".998" stop-color="#01b9c7"/><stop offset="1" stop-color="#07b5d0"/></linearGradient>
<linearGradient id="bh21" gradientUnits="userSpaceOnUse" x1="0" y1="566.71" x2="0" y2="542.55" spreadMethod="repeat"><stop offset="0" stop-color="#07b5d0"/><stop offset=".007" stop-color="#1ea7e1"/><stop offset=".031" stop-color="#3d70ff"/><stop offset=".048" stop-color="#484ef1"/><stop offset=".083" stop-color="#4535d2"/><stop offset=".114" stop-color="#4434ce"/><stop offset=".294" stop-color="#4758f8"/><stop offset=".439" stop-color="#317efb"/><stop offset=".536" stop-color="#249fe6"/><stop offset=".557" stop-color="#13b0d7"/><stop offset=".567" stop-color="#01b9c6"/><stop offset=".574" stop-color="#14beb8"/><stop offset=".599" stop-color="#5ccc76"/><stop offset=".616" stop-color="#9cc944"/><stop offset=".633" stop-color="#c8c129"/><stop offset=".657" stop-color="#e9bb30"/><stop offset=".689" stop-color="#fcbd3d"/><stop offset=".799" stop-color="#fcd030"/><stop offset=".896" stop-color="#fec438"/><stop offset=".924" stop-color="#f9bb3d"/><stop offset=".945" stop-color="#d5be28"/><stop offset=".955" stop-color="#bfc32d"/><stop offset=".976" stop-color="#53cc7d"/><stop offset=".99" stop-color="#24c2ae"/><stop offset=".997" stop-color="#02bac5"/><stop offset="1" stop-color="#07b5d0"/></linearGradient>
<linearGradient id="bf21" gradientUnits="userSpaceOnUse" x1="0" y1="606" x2="0" y2="566.71"><stop offset=".404" stop-color="#0bb3d2"/><stop offset=".413" stop-color="#2b91ef"/><stop offset=".419" stop-color="#3c71ff"/><stop offset=".428" stop-color="#484bee"/><stop offset=".438" stop-color="#4435d0"/><stop offset=".453" stop-color="#4434cf"/><stop offset=".555" stop-color="#475af9"/><stop offset=".634" stop-color="#3080fb"/><stop offset=".691" stop-color="#20a4e3"/><stop offset=".7" stop-color="#13b0d7"/><stop offset=".706" stop-color="#01b9c7"/><stop offset=".711" stop-color="#10beba"/><stop offset=".717" stop-color="#30c5a2"/><stop offset=".726" stop-color="#55cc7c"/><stop offset=".736" stop-color="#94ca4a"/><stop offset=".749" stop-color="#c6c22a"/><stop offset=".766" stop-color="#e9bb2f"/><stop offset=".787" stop-color="#fcbc3d"/><stop offset=".864" stop-color="#fcd030"/><stop offset=".93" stop-color="#fec438"/><stop offset=".949" stop-color="#f8ba3d"/><stop offset=".964" stop-color="#d1bf27"/><stop offset=".97" stop-color="#b9c431"/><stop offset=".985" stop-color="#48cb86"/><stop offset=".994" stop-color="#1fc1b1"/><stop offset=".998" stop-color="#01b9c6"/><stop offset="1" stop-color="#07b5d0"/></linearGradient>
<linearGradient id="bh22" gradientUnits="userSpaceOnUse" x1="0" y1="566.71" x2="0" y2="542.55" spreadMethod="repeat"><stop offset="0" stop-color="#07b5cf"/><stop offset=".007" stop-color="#1fa6e1"/><stop offset=".028" stop-color="#3975fe"/><stop offset=".042" stop-color="#4854f6"/><stop offset=".076" stop-color="#4332c9"/><stop offset=".107" stop-color="#422ebf"/><stop offset=".27" stop-color="#484cf0"/><stop offset=".412" stop-color="#3a73fe"/><stop offset=".529" stop-color="#2698ea"/><stop offset=".554" stop-color="#19acdc"/><stop offset=".567" stop-color="#01bac5"/><stop offset=".574" stop-color="#18bfb6"/><stop offset=".595" stop-color="#59cc78"/><stop offset=".612" stop-color="#a2c83f"/><stop offset=".63" stop-color="#d4bf27"/><stop offset=".664" stop-color="#fcbd3d"/><stop offset=".765" stop-color="#f7db2b"/><stop offset=".882" stop-color="#fad52d"/><stop offset=".927" stop-color="#fec03b"/><stop offset=".938" stop-color="#f2ba38"/><stop offset=".955" stop-color="#d0bf27"/><stop offset=".965" stop-color="#9ac945"/><stop offset=".983" stop-color="#3dca90"/><stop offset=".99" stop-color="#28c2ab"/><stop offset=".997" stop-color="#02bac4"/><stop offset="1" stop-color="#07b5cf"/></linearGradient>
<linearGradient id="bf22" gradientUnits="userSpaceOnUse" x1="0" y1="606" x2="0" y2="566.71"><stop offset=".404" stop-color="#0bb3d2"/><stop offset=".411" stop-color="#259be8"/><stop offset=".419" stop-color="#3f6efe"/><stop offset=".428" stop-color="#4745e9"/><stop offset=".438" stop-color="#4230c3"/><stop offset=".449" stop-color="#422fc0"/><stop offset=".538" stop-color="#484df0"/><stop offset=".615" stop-color="#3a73fe"/><stop offset=".683" stop-color="#2699e9"/><stop offset=".698" stop-color="#19addc"/><stop offset=".706" stop-color="#01b9c6"/><stop offset=".711" stop-color="#14bfb8"/><stop offset=".726" stop-color="#60cd72"/><stop offset=".736" stop-color="#a4c83e"/><stop offset=".747" stop-color="#d1bf27"/><stop offset=".77" stop-color="#fcbc3d"/><stop offset=".838" stop-color="#f7db2b"/><stop offset=".919" stop-color="#fad52d"/><stop offset=".949" stop-color="#fec239"/><stop offset=".957" stop-color="#f3ba38"/><stop offset=".968" stop-color="#d4bf28"/><stop offset=".974" stop-color="#aac73a"/><stop offset=".987" stop-color="#43ca8a"/><stop offset=".994" stop-color="#23c1af"/><stop offset=".998" stop-color="#02bac5"/><stop offset="1" stop-color="#07b5cf"/></linearGradient>
<linearGradient id="bh23" gradientUnits="userSpaceOnUse" x1="0" y1="566.71" x2="0" y2="542.55" spreadMethod="repeat"><stop offset="0" stop-color="#07b5cf"/><stop offset=".007" stop-color="#1fa6e2"/><stop offset=".028" stop-color="#3b72ff"/><stop offset=".042" stop-color="#4851f3"/><stop offset=".076" stop-color="#422fc0"/><stop offset=".107" stop-color="#402bb6"/><stop offset=".266" stop-color="#4747ec"/><stop offset=".405" stop-color="#3e6fff"/><stop offset=".519" stop-color="#2a93ee"/><stop offset=".554" stop-color="#1aacdd"/><stop offset=".564" stop-color="#02b7cb"/><stop offset=".571" stop-color="#0abdbd"/><stop offset=".581" stop-color="#31c5a1"/><stop offset=".595" stop-color="#62cd71"/><stop offset=".612" stop-color="#afc637"/><stop offset=".626" stop-color="#d7be28"/><stop offset=".654" stop-color="#fdbd3d"/><stop offset=".734" stop-color="#f6e028"/><stop offset=".837" stop-color="#f5e625"/><stop offset=".903" stop-color="#f9d82c"/><stop offset=".927" stop-color="#fec835"/><stop offset=".941" stop-color="#f8ba3d"/><stop offset=".955" stop-color="#ddbd29"/><stop offset=".962" stop-color="#bac430"/><stop offset=".983" stop-color="#42ca8b"/><stop offset=".993" stop-color="#18bfb6"/><stop offset=".997" stop-color="#02bbc3"/><stop offset="1" stop-color="#07b5cf"/></linearGradient>
<linearGradient id="bf23" gradientUnits="userSpaceOnUse" x1="0" y1="606" x2="0" y2="566.71"><stop offset=".404" stop-color="#0bb3d2"/><stop offset=".411" stop-color="#269ae9"/><stop offset=".417" stop-color="#3677fe"/><stop offset=".423" stop-color="#4755f6"/><stop offset=".432" stop-color="#4435d1"/><stop offset=".44" stop-color="#402bb7"/><stop offset=".489" stop-color="#4434cf"/><stop offset=".568" stop-color="#4759f9"/><stop offset=".643" stop-color="#307ffb"/><stop offset=".691" stop-color="#21a3e4"/><stop offset=".7" stop-color="#13b0d7"/><stop offset=".706" stop-color="#01b9c6"/><stop offset=".711" stop-color="#17bfb6"/><stop offset=".721" stop-color="#4dcb82"/><stop offset=".736" stop-color="#b1c635"/><stop offset=".745" stop-color="#d5be28"/><stop offset=".762" stop-color="#fabc3d"/><stop offset=".817" stop-color="#f6df29"/><stop offset=".889" stop-color="#f5e626"/><stop offset=".934" stop-color="#f9d82c"/><stop offset=".951" stop-color="#fec735"/><stop offset=".96" stop-color="#f8ba3d"/><stop offset=".97" stop-color="#d7be28"/><stop offset=".974" stop-color="#b7c532"/><stop offset=".987" stop-color="#49cb85"/><stop offset=".994" stop-color="#26c2ad"/><stop offset=".998" stop-color="#02bac4"/><stop offset="1" stop-color="#07b5cf"/></linearGradient>
<linearGradient id="bh24" gradientUnits="userSpaceOnUse" x1="0" y1="566.71" x2="0" y2="542.55" spreadMethod="repeat"><stop offset="0" stop-color="#06b5cf"/><stop offset=".007" stop-color="#1fa6e2"/><stop offset=".028" stop-color="#3d71ff"/><stop offset=".045" stop-color="#4747eb"/><stop offset=".08" stop-color="#412cb8"/><stop offset=".107" stop-color="#3f29af"/><stop offset=".27" stop-color="#4746ea"/><stop offset=".405" stop-color="#406dfe"/><stop offset=".516" stop-color="#2b90ef"/><stop offset=".554" stop-color="#1aacdd"/><stop offset=".564" stop-color="#02b7cb"/><stop offset=".571" stop-color="#0bbdbd"/><stop offset=".581" stop-color="#32c69e"/><stop offset=".595" stop-color="#68cd6b"/><stop offset=".612" stop-color="#b8c431"/><stop offset=".623" stop-color="#d7be28"/><stop offset=".64" stop-color="#f6ba3c"/><stop offset=".664" stop-color="#feca33"/><stop offset=".744" stop-color="#f5ea24"/><stop offset=".858" stop-color="#f5ed22"/><stop offset=".924" stop-color="#fbd32e"/><stop offset=".945" stop-color="#f9bb3d"/><stop offset=".955" stop-color="#e5bb2d"/><stop offset=".962" stop-color="#c3c22b"/><stop offset=".983" stop-color="#47cb87"/><stop offset=".993" stop-color="#1abfb5"/><stop offset=".997" stop-color="#03bbc2"/><stop offset="1" stop-color="#06b5cf"/></linearGradient>
<linearGradient id="bf24" gradientUnits="userSpaceOnUse" x1="0" y1="606" x2="0" y2="566.71"><stop offset=".404" stop-color="#0bb3d2"/><stop offset=".411" stop-color="#2699e9"/><stop offset=".417" stop-color="#3876fe"/><stop offset=".421" stop-color="#465efb"/><stop offset=".43" stop-color="#4537d6"/><stop offset=".438" stop-color="#402ab4"/><stop offset=".447" stop-color="#3f29af"/><stop offset=".536" stop-color="#4746ea"/><stop offset=".611" stop-color="#406dfe"/><stop offset=".674" stop-color="#2b91ef"/><stop offset=".698" stop-color="#1aacdd"/><stop offset=".706" stop-color="#01bac5"/><stop offset=".711" stop-color="#19bfb5"/><stop offset=".721" stop-color="#52cc7e"/><stop offset=".734" stop-color="#b0c636"/><stop offset=".743" stop-color="#d6be28"/><stop offset=".755" stop-color="#f8ba3d"/><stop offset=".777" stop-color="#fccf31"/><stop offset=".832" stop-color="#f5ec22"/><stop offset=".913" stop-color="#f5eb23"/><stop offset=".949" stop-color="#fbd22f"/><stop offset=".962" stop-color="#fabb3d"/><stop offset=".97" stop-color="#dfbc2a"/><stop offset=".974" stop-color="#c0c32d"/><stop offset=".987" stop-color="#4ecc81"/><stop offset=".996" stop-color="#15bfb8"/><stop offset=".998" stop-color="#02bac4"/><stop offset="1" stop-color="#06b5cf"/></linearGradient>
<linearGradient id="bh25" gradientUnits="userSpaceOnUse" x1="0" y1="566.71" x2="0" y2="542.55" spreadMethod="repeat"><stop offset="0" stop-color="#06b5cf"/><stop offset=".007" stop-color="#1fa5e2"/><stop offset=".028" stop-color="#3e70ff"/><stop offset=".045" stop-color="#4745e9"/><stop offset=".08" stop-color="#402ab5"/><stop offset=".107" stop-color="#3e27ac"/><stop offset=".27" stop-color="#4745e9"/><stop offset=".401" stop-color="#416bfe"/><stop offset=".512" stop-color="#2c8ef1"/><stop offset=".554" stop-color="#1aacdd"/><stop offset=".564" stop-color="#02b7cb"/><stop offset=".567" stop-color="#02bac4"/><stop offset=".581" stop-color="#33c69d"/><stop offset=".595" stop-color="#6ccd68"/><stop offset=".612" stop-color="#bdc32e"/><stop offset=".623" stop-color="#dcbd29"/><stop offset=".64" stop-color="#fabb3d"/><stop offset=".692" stop-color="#f6de29"/><stop offset=".785" stop-color="#f7f31c"/><stop offset=".886" stop-color="#f5ea23"/><stop offset=".924" stop-color="#f9d72c"/><stop offset=".945" stop-color="#fcbc3d"/><stop offset=".955" stop-color="#eabb30"/><stop offset=".962" stop-color="#c8c129"/><stop offset=".972" stop-color="#89cb52"/><stop offset=".986" stop-color="#39c895"/><stop offset=".993" stop-color="#1bc0b4"/><stop offset=".997" stop-color="#04bbc2"/><stop offset="1" stop-color="#06b5cf"/></linearGradient>
<linearGradient id="bf25" gradientUnits="userSpaceOnUse" x1="0" y1="606" x2="0" y2="566.71"><stop offset=".404" stop-color="#0bb3d2"/><stop offset=".411" stop-color="#2699e9"/><stop offset=".417" stop-color="#3975fe"/><stop offset=".423" stop-color="#4852f4"/><stop offset=".432" stop-color="#4332c8"/><stop offset=".44" stop-color="#3e28ac"/><stop offset=".489" stop-color="#4331c6"/><stop offset=".562" stop-color="#4853f5"/><stop offset=".63" stop-color="#3876fe"/><stop offset=".685" stop-color="#269ae9"/><stop offset=".7" stop-color="#14b0d8"/><stop offset=".706" stop-color="#02bac5"/><stop offset=".715" stop-color="#31c5a1"/><stop offset=".721" stop-color="#55cc7c"/><stop offset=".734" stop-color="#b5c533"/><stop offset=".743" stop-color="#dbbd29"/><stop offset=".753" stop-color="#f8ba3d"/><stop offset=".774" stop-color="#fcd12f"/><stop offset=".826" stop-color="#f5ef21"/><stop offset=".902" stop-color="#f6f11e"/><stop offset=".947" stop-color="#f8da2b"/><stop offset=".962" stop-color="#fdbd3d"/><stop offset=".97" stop-color="#e4bb2c"/><stop offset=".974" stop-color="#c5c22a"/><stop offset=".985" stop-color="#63cd70"/><stop offset=".991" stop-color="#34c79c"/><stop offset=".996" stop-color="#16bfb7"/><stop offset=".998" stop-color="#02bac3"/><stop offset="1" stop-color="#06b5cf"/></linearGradient>
</defs>
<rect width="838" height="708" fill="#fff"/>
<line x1="266.7" y1="207.2" x2="132.9" y2="152.6" stroke="#e4e4e4" stroke-width="0.9"/>
<line x1="132.9" y1="152.6" x2="132.9" y2="35.0" stroke="#e4e4e4" stroke-width="0.9"/>
<line x1="322.7" y1="194.2" x2="188.9" y2="139.6" stroke="#e4e4e4" stroke-width="0.9"/>
<line x1="188.9" y1="139.6" x2="188.9" y2="22.0" stroke="#e4e4e4" stroke-width="0.9"/>
<line x1="378.7" y1="181.2" x2="244.9" y2="126.7" stroke="#e4e4e4" stroke-width="0.9"/>
<line x1="244.9" y1="126.7" x2="244.9" y2="9.0" stroke="#e4e4e4" stroke-width="0.9"/>
<line x1="183.9" y1="209.2" x2="357.0" y2="169.2" stroke="#e4e4e4" stroke-width="0.9"/>
<line x1="357.0" y1="169.2" x2="357.0" y2="51.6" stroke="#e4e4e4" stroke-width="0.9"/>
<line x1="157.2" y1="198.3" x2="330.2" y2="158.2" stroke="#e4e4e4" stroke-width="0.9"/>
<line x1="330.2" y1="158.2" x2="330.2" y2="40.6" stroke="#e4e4e4" stroke-width="0.9"/>
<line x1="130.4" y1="187.3" x2="303.5" y2="147.3" stroke="#e4e4e4" stroke-width="0.9"/>
<line x1="303.5" y1="147.3" x2="303.5" y2="29.7" stroke="#e4e4e4" stroke-width="0.9"/>
<line x1="103.7" y1="176.4" x2="276.7" y2="136.4" stroke="#e4e4e4" stroke-width="0.9"/>
<line x1="276.7" y1="136.4" x2="276.7" y2="18.8" stroke="#e4e4e4" stroke-width="0.9"/>
<line x1="76.9" y1="67.5" x2="249.9" y2="27.5" stroke="#e4e4e4" stroke-width="0.9"/>
<line x1="249.9" y1="27.5" x2="383.7" y2="82.1" stroke="#e4e4e4" stroke-width="0.9"/>
<line x1="249.9" y1="125.5" x2="249.9" y2="7.9" stroke="#e4e4e4" stroke-width="0.9"/>
<line x1="383.7" y1="180.1" x2="383.7" y2="62.5" stroke="#e4e4e4" stroke-width="0.9"/>
<line x1="76.9" y1="165.5" x2="249.9" y2="125.5" stroke="#e4e4e4" stroke-width="0.9"/>
<line x1="249.9" y1="125.5" x2="383.7" y2="180.1" stroke="#e4e4e4" stroke-width="0.9"/>
<g fill="url(#uz)" stroke="url(#uz)" stroke-width=".7" stroke-linejoin="round">
<polygon transform="translate(-133.75 -54.58)" points="210.7,147.7 217.4,146.4 224.0,145.7 230.7,145.5 237.3,145.8 244.0,146.6 250.6,147.9 257.3,149.6 263.9,151.6 270.6,154.0 277.2,156.6 283.8,159.4 290.5,162.4 297.1,165.4 303.8,169.7 310.4,173.8 317.1,177.3 323.7,180.1 330.4,182.0 337.0,183.1 343.7,183.4 350.3,183.0 357.0,182.2 363.6,180.9 370.2,179.5 376.9,178.0 383.5,176.4 383.4,177.1 376.8,178.7 370.2,180.2 363.5,181.7 356.9,182.9 350.2,183.7 343.6,184.1 336.9,183.7 330.3,182.6 323.6,180.5 317.0,177.7 310.3,174.0 303.7,169.8 297.0,165.4 290.4,161.5 283.8,157.7 277.1,154.1 270.5,150.7 263.8,147.6 257.2,144.9 250.5,142.6 243.9,140.8 237.2,139.5 230.6,138.9 223.9,138.8 217.3,139.4 210.7,140.7"/>
<polygon transform="translate(-133.63 -54.53)" points="210.8,159.8 217.4,158.4 224.1,157.4 230.7,156.8 237.4,156.5 244.0,156.6 250.6,156.9 257.3,157.6 263.9,158.5 270.6,159.6 277.2,160.9 283.9,162.3 290.5,163.8 297.2,165.4 303.8,169.2 310.5,172.7 317.1,175.7 323.8,178.0 330.4,179.6 337.0,180.4 343.7,180.5 350.3,180.1 357.0,179.1 363.6,177.9 370.3,176.4 376.9,174.9 383.6,173.3 383.4,176.3 376.8,177.9 370.1,179.4 363.5,180.9 356.8,182.1 350.2,183.0 343.5,183.3 336.9,183.0 330.2,181.9 323.6,180.0 317.0,177.2 310.3,173.7 303.7,169.7 297.0,165.3 290.4,162.3 283.7,159.4 277.1,156.6 270.4,153.9 263.8,151.6 257.1,149.5 250.5,147.8 243.9,146.6 237.2,145.8 230.6,145.5 223.9,145.7 217.3,146.4 210.6,147.7"/>
<polygon transform="translate(-133.47 -54.46)" points="210.8,172.4 217.4,170.9 224.1,169.7 230.7,168.6 237.4,167.7 244.0,166.9 250.7,166.4 257.3,165.9 264.0,165.6 270.6,165.5 277.2,165.4 283.9,165.3 290.5,165.4 297.2,165.4 303.8,168.3 310.5,171.0 317.1,173.3 323.8,175.0 330.4,176.1 337.1,176.6 343.7,176.4 350.4,175.8 357.0,174.7 363.6,173.4 370.3,171.9 376.9,170.4 383.6,168.8 383.4,173.2 376.7,174.8 370.1,176.3 363.5,177.8 356.8,179.1 350.2,180.0 343.5,180.5 336.9,180.4 330.2,179.5 323.6,177.9 316.9,175.6 310.3,172.6 303.6,169.1 297.0,165.3 290.4,163.8 283.7,162.3 277.1,160.8 270.4,159.5 263.8,158.4 257.1,157.5 250.5,156.9 243.8,156.5 237.2,156.5 230.5,156.7 223.9,157.4 217.3,158.4 210.6,159.8"/>
<polygon transform="translate(-133.20 -54.35)" points="210.9,180.8 217.5,179.2 224.2,177.8 230.8,176.4 237.5,175.1 244.1,173.8 250.7,172.6 257.4,171.5 264.0,170.4 270.7,169.4 277.3,168.4 284.0,167.4 290.6,166.4 297.3,165.5 303.9,166.2 310.6,166.8 317.2,167.3 323.9,167.4 330.5,167.2 337.1,166.7 343.8,165.8 350.4,164.7 357.1,163.5 363.7,162.0 370.4,160.5 377.0,158.9 383.7,157.4 383.3,168.7 376.7,170.3 370.0,171.8 363.4,173.3 356.7,174.6 350.1,175.7 343.4,176.3 336.8,176.5 330.1,176.0 323.5,174.9 316.9,173.2 310.2,170.9 303.6,168.2 296.9,165.3 290.3,165.3 283.6,165.2 277.0,165.3 270.3,165.4 263.7,165.5 257.0,165.8 250.4,166.3 243.8,166.8 237.1,167.6 230.5,168.5 223.8,169.5 217.2,170.8 210.5,172.3"/>
<polygon transform="translate(-132.81 -54.20)" points="210.9,187.5 217.6,185.9 224.2,184.3 230.8,182.7 237.5,181.1 244.1,179.5 250.8,177.9 257.4,176.2 264.1,174.5 270.7,172.8 277.4,171.0 284.0,169.2 290.7,167.3 297.3,165.5 303.9,164.1 310.6,162.6 317.2,161.2 323.9,159.8 330.5,158.3 337.2,156.8 343.8,155.3 350.5,153.7 357.1,152.2 363.8,150.6 370.4,149.0 377.1,147.5 383.7,145.9 383.3,157.2 376.6,158.8 370.0,160.3 363.3,161.9 356.7,163.3 350.1,164.6 343.4,165.7 336.8,166.5 330.1,167.0 323.5,167.2 316.8,167.1 310.2,166.7 303.5,166.0 296.9,165.3 290.2,166.2 283.6,167.2 276.9,168.2 270.3,169.2 263.7,170.2 257.0,171.3 250.4,172.5 243.7,173.7 237.1,174.9 230.4,176.2 223.8,177.6 217.1,179.1 210.5,180.6"/>
<polygon transform="translate(-132.35 -54.01)" points="211.0,192.8 217.6,191.3 224.3,189.7 230.9,188.1 237.5,186.4 244.2,184.7 250.8,182.9 257.5,180.9 264.1,178.7 270.8,176.4 277.4,173.9 284.1,171.2 290.7,168.4 297.4,165.5 304.0,162.6 310.6,159.8 317.3,157.0 323.9,154.3 330.6,151.6 337.2,149.0 343.9,146.6 350.5,144.2 357.2,142.0 363.8,139.9 370.5,137.9 377.1,136.1 383.7,134.5 383.2,145.7 376.6,147.3 369.9,148.9 363.3,150.4 356.6,152.0 350.0,153.5 343.4,155.1 336.7,156.6 330.1,158.1 323.4,159.6 316.8,161.0 310.1,162.4 303.5,163.9 296.8,165.3 290.2,167.1 283.5,169.0 276.9,170.8 270.3,172.6 263.6,174.3 257.0,176.0 250.3,177.7 243.7,179.3 237.0,181.0 230.4,182.5 223.7,184.1 217.1,185.7 210.4,187.3"/>
<use href="#uper" transform="matrix(1 -0.00662 0 0.97200 -117.96 -40.75)"/>
<use href="#uper" transform="matrix(1 -0.00567 0 0.97600 -102.49 -35.50)"/>
<use href="#uper" transform="matrix(1 -0.00473 0 0.98000 -87.02 -30.24)"/>
<use href="#uper" transform="matrix(1 -0.00378 0 0.98400 -71.56 -24.98)"/>
<use href="#uper" transform="matrix(1 -0.00284 0 0.98800 -56.09 -19.72)"/>
<use href="#uper" transform="matrix(1 -0.00189 0 0.99200 -40.62 -14.47)"/>
<use href="#uper" transform="matrix(1 -0.00095 0 0.99600 -25.15 -9.21)"/>
<polygon transform="translate(-25.09 -10.24)" points="210.8,174.4 217.4,172.9 224.1,171.6 230.7,170.4 237.3,169.4 244.0,168.6 250.6,167.9 257.3,167.3 263.9,166.8 270.6,166.4 277.2,166.1 283.9,165.8 290.5,165.6 297.2,165.4 303.8,167.9 310.5,170.2 317.1,172.1 323.7,173.5 330.4,174.3 337.0,174.5 343.7,174.3 350.3,173.5 357.0,172.4 363.6,171.1 370.3,169.6 376.9,168.1 383.6,166.5 383.4,170.4 376.8,172.0 370.1,173.5 363.5,175.0 356.8,176.3 350.2,177.3 343.5,177.9 336.9,177.9 330.3,177.3 323.6,176.1 317.0,174.1 310.3,171.6 303.7,168.6 297.0,165.4 290.4,165.2 283.7,165.0 277.1,164.9 270.4,164.8 263.8,164.9 257.2,165.0 250.5,165.3 243.9,165.8 237.2,166.5 230.6,167.3 223.9,168.4 217.3,169.6 210.6,171.1"/>
<polygon transform="translate(-24.82 -10.13)" points="210.9,183.0 217.5,181.5 224.2,180.0 230.8,178.5 237.5,177.1 244.1,175.7 250.8,174.3 257.4,173.0 264.1,171.7 270.7,170.4 277.4,169.2 284.0,167.9 290.6,166.7 297.3,165.5 303.9,165.8 310.6,166.0 317.2,166.1 323.9,165.9 330.5,165.5 337.2,164.8 343.8,163.8 350.5,162.6 357.1,161.3 363.8,159.8 370.4,158.3 377.0,156.7 383.7,155.1 383.3,166.4 376.6,168.0 370.0,169.5 363.3,171.0 356.7,172.3 350.1,173.4 343.4,174.2 336.8,174.4 330.1,174.2 323.5,173.4 316.8,172.0 310.2,170.1 303.5,167.8 296.9,165.3 290.2,165.5 283.6,165.7 277.0,166.0 270.3,166.3 263.7,166.7 257.0,167.2 250.4,167.8 243.7,168.5 237.1,169.3 230.4,170.3 223.8,171.5 217.1,172.8 210.5,174.3"/>
<polygon transform="translate(-24.38 -9.95)" points="210.9,189.6 217.6,188.1 224.2,186.5 230.9,184.9 237.5,183.3 244.2,181.6 250.8,179.9 257.5,178.1 264.1,176.2 270.8,174.2 277.4,172.2 284.0,170.0 290.7,167.8 297.3,165.5 304.0,163.7 310.6,162.0 317.3,160.2 323.9,158.5 330.6,156.8 337.2,155.1 343.9,153.4 350.5,151.7 357.1,150.0 363.8,148.4 370.4,146.7 377.1,145.1 383.7,143.6 383.2,155.0 376.6,156.5 370.0,158.1 363.3,159.6 356.7,161.1 350.0,162.4 343.4,163.6 336.7,164.6 330.1,165.3 323.4,165.7 316.8,165.9 310.1,165.8 303.5,165.6 296.9,165.3 290.2,166.5 283.6,167.7 276.9,169.0 270.3,170.2 263.6,171.5 257.0,172.8 250.3,174.1 243.7,175.5 237.0,176.9 230.4,178.3 223.7,179.8 217.1,181.3 210.5,182.8"/>
<polygon transform="translate(-23.82 -9.72)" points="211.0,194.8 217.7,193.3 224.3,191.7 230.9,190.1 237.6,188.4 244.2,186.6 250.9,184.7 257.5,182.6 264.2,180.3 270.8,177.7 277.5,174.9 284.1,171.9 290.8,168.8 297.4,165.5 304.0,162.4 310.7,159.3 317.3,156.2 324.0,153.2 330.6,150.3 337.3,147.5 343.9,144.8 350.6,142.3 357.2,139.9 363.9,137.7 370.5,135.6 377.2,133.8 383.8,132.1 383.2,143.3 376.5,144.9 369.9,146.5 363.2,148.1 356.6,149.8 349.9,151.4 343.3,153.1 336.7,154.8 330.0,156.5 323.4,158.3 316.7,160.0 310.1,161.8 303.4,163.5 296.8,165.3 290.1,167.5 283.5,169.8 276.8,171.9 270.2,174.0 263.6,176.0 256.9,177.9 250.3,179.7 243.6,181.4 237.0,183.1 230.3,184.7 223.7,186.3 217.0,187.8 210.4,189.4"/>
<polygon transform="translate(-23.06 -9.41)" points="211.2,200.3 217.8,198.8 224.5,197.2 231.1,195.5 237.7,193.8 244.4,191.9 251.0,189.8 257.7,187.4 264.3,184.6 271.0,181.4 277.6,177.9 284.3,174.0 290.9,169.8 297.6,165.6 304.2,161.1 310.8,156.6 317.5,152.2 324.1,148.0 330.8,143.9 337.4,140.0 344.1,136.4 350.7,133.0 357.4,129.9 364.0,127.1 370.7,124.7 377.3,122.6 383.9,120.8 383.0,131.8 376.4,133.5 369.7,135.3 363.1,137.3 356.4,139.6 349.8,141.9 343.2,144.5 336.5,147.2 329.9,150.0 323.2,152.9 316.6,155.9 309.9,158.9 303.3,162.1 296.6,165.2 290.0,168.4 283.3,171.6 276.7,174.6 270.1,177.4 263.4,180.0 256.8,182.3 250.1,184.4 243.5,186.3 236.8,188.1 230.2,189.8 223.5,191.4 216.9,193.0 210.2,194.5"/>
<polygon transform="translate(-22.12 -9.03)" points="211.2,204.2 217.8,202.7 224.5,201.1 231.1,199.4 237.8,197.7 244.4,195.7 251.1,193.4 257.7,190.8 264.3,187.6 271.0,184.0 277.6,179.9 284.3,175.4 290.9,170.6 297.6,165.6 304.2,159.7 310.9,153.9 317.5,148.2 324.2,142.7 330.8,137.4 337.4,132.5 344.1,127.8 350.7,123.6 357.4,119.8 364.0,116.5 370.7,113.6 377.3,111.3 384.0,109.4 383.0,120.4 376.4,122.2 369.7,124.3 363.1,126.7 356.4,129.5 349.8,132.6 343.1,136.0 336.5,139.6 329.8,143.5 323.2,147.6 316.6,151.8 309.9,156.2 303.3,160.7 296.6,165.2 290.0,169.5 283.3,173.6 276.7,177.5 270.0,181.0 263.4,184.2 256.7,187.0 250.1,189.4 243.5,191.5 236.8,193.4 230.2,195.2 223.5,196.8 216.9,198.4 210.2,199.9"/>
<polygon transform="translate(-21.23 -8.66)" points="211.1,207.4 217.8,205.8 224.4,204.2 231.0,202.6 237.7,200.8 244.3,198.7 251.0,196.3 257.6,193.5 264.3,190.1 270.9,186.1 277.6,181.6 284.2,176.6 290.9,171.2 297.5,165.5 304.1,158.3 310.8,151.2 317.4,144.2 324.1,137.4 330.7,131.0 337.4,124.9 344.0,119.4 350.7,114.3 357.3,109.8 364.0,105.9 370.6,102.6 377.3,100.0 383.9,98.1 383.1,109.1 376.4,110.9 369.8,113.3 363.1,116.1 356.5,119.5 349.8,123.3 343.2,127.5 336.6,132.1 329.9,137.1 323.3,142.3 316.6,147.8 310.0,153.5 303.3,159.3 296.7,165.2 290.0,170.2 283.4,175.1 276.7,179.6 270.1,183.7 263.5,187.3 256.8,190.4 250.2,193.1 243.5,195.3 236.9,197.3 230.2,199.1 223.6,200.7 216.9,202.3 210.3,203.9"/>
<polygon transform="translate(-20.42 -8.33)" points="211.1,210.4 217.7,208.8 224.4,207.2 231.0,205.6 237.7,203.7 244.3,201.6 251.0,199.1 257.6,196.1 264.3,192.4 270.9,188.1 277.6,183.2 284.2,177.7 290.8,171.7 297.5,165.5 304.1,156.9 310.8,148.4 317.4,140.2 324.1,132.2 330.7,124.6 337.4,117.5 344.0,110.9 350.7,105.0 357.3,99.8 364.0,95.3 370.6,91.7 377.2,88.8 383.9,86.8 383.1,97.8 376.4,99.7 369.8,102.3 363.1,105.6 356.5,109.5 349.9,114.0 343.2,119.0 336.6,124.6 329.9,130.7 323.3,137.1 316.6,143.8 310.0,150.8 303.3,158.0 296.7,165.2 290.0,170.8 283.4,176.2 276.8,181.3 270.1,185.8 263.5,189.8 256.8,193.1 250.2,196.0 243.5,198.4 236.9,200.4 230.2,202.3 223.6,203.9 216.9,205.5 210.3,207.1"/>
<polygon transform="translate(-19.24 -7.85)" points="211.5,216.5 218.1,214.9 224.8,213.3 231.4,211.6 238.1,209.7 244.7,207.5 251.4,204.7 258.0,201.3 264.6,197.2 271.3,192.2 277.9,186.5 284.6,180.0 291.2,173.0 297.9,165.7 304.5,155.7 311.2,145.9 317.8,136.3 324.5,127.1 331.1,118.3 337.7,110.1 344.4,102.6 351.0,95.9 357.7,89.9 364.3,84.9 371.0,80.9 377.6,77.8 384.3,75.7 382.7,86.3 376.1,88.3 369.4,91.2 362.8,94.8 356.1,99.3 349.5,104.5 342.8,110.4 336.2,117.0 329.5,124.1 322.9,131.7 316.3,139.7 309.6,148.0 303.0,156.5 296.3,165.1 289.7,171.2 283.0,177.2 276.4,182.7 269.7,187.6 263.1,191.9 256.4,195.6 249.8,198.6 243.2,201.1 236.5,203.2 229.9,205.1 223.2,206.7 216.6,208.3 209.9,209.9"/>
<polygon transform="translate(-18.06 -7.37)" points="211.1,218.9 217.7,217.3 224.4,215.7 231.0,214.0 237.7,212.1 244.3,209.8 251.0,206.9 257.6,203.4 264.3,199.0 270.9,193.8 277.6,187.7 284.2,180.8 290.8,173.3 297.5,165.5 304.1,156.4 310.8,147.4 317.4,138.6 324.1,130.2 330.7,122.1 337.4,114.6 344.0,107.7 350.7,101.5 357.3,96.0 364.0,91.3 370.6,87.5 377.2,84.6 383.9,82.6 383.1,75.2 376.4,77.3 369.8,80.4 363.1,84.4 356.5,89.5 349.9,95.4 343.2,102.1 336.6,109.7 329.9,117.8 323.3,126.6 316.6,135.8 310.0,145.4 303.3,155.3 296.7,165.2 290.0,172.5 283.4,179.5 276.8,186.0 270.1,191.8 263.5,196.7 256.8,200.9 250.2,204.2 243.5,207.0 236.9,209.2 230.2,211.1 223.6,212.8 216.9,214.4 210.3,216.0"/>
<polygon transform="translate(-17.60 -7.18)" points="210.8,217.6 217.4,216.0 224.0,214.4 230.7,212.7 237.3,210.8 244.0,208.5 250.6,205.7 257.3,202.2 263.9,198.0 270.6,192.8 277.2,186.9 283.9,180.2 290.5,172.9 297.2,165.4 303.8,156.5 310.4,147.8 317.1,139.2 323.7,131.0 330.4,123.2 337.0,115.8 343.7,109.1 350.3,103.0 357.0,97.7 363.6,93.1 370.3,89.4 376.9,86.5 383.5,84.5 383.4,82.4 376.8,84.4 370.1,87.3 363.5,91.1 356.8,95.8 350.2,101.3 343.6,107.5 336.9,114.4 330.3,122.0 323.6,130.0 317.0,138.5 310.3,147.2 303.7,156.2 297.0,165.4 290.4,173.1 283.7,180.6 277.1,187.5 270.5,193.6 263.8,198.8 257.2,203.2 250.5,206.7 243.9,209.6 237.2,211.9 230.6,213.8 223.9,215.5 217.3,217.1 210.6,218.7"/>
<polygon transform="translate(-17.35 -7.08)" points="210.9,206.5 217.5,204.9 224.2,203.3 230.8,201.7 237.5,199.9 244.1,197.8 250.8,195.5 257.4,192.7 264.1,189.3 270.7,185.5 277.3,181.1 284.0,176.2 290.6,170.9 297.3,165.5 303.9,158.0 310.6,150.5 317.2,143.3 323.9,136.3 330.5,129.7 337.2,123.4 343.8,117.6 350.5,112.4 357.1,107.8 363.7,103.8 370.4,100.4 377.0,97.8 383.7,95.8 383.3,84.3 376.6,86.4 370.0,89.3 363.4,93.0 356.7,97.6 350.1,102.9 343.4,109.0 336.8,115.7 330.1,123.1 323.5,130.9 316.8,139.1 310.2,147.7 303.5,156.4 296.9,165.3 290.3,172.8 283.6,180.1 277.0,186.8 270.3,192.7 263.7,197.9 257.0,202.1 250.4,205.6 243.7,208.4 237.1,210.7 230.4,212.6 223.8,214.3 217.2,215.9 210.5,217.4"/>
<polygon transform="translate(-17.07 -6.96)" points="210.8,199.0 217.4,197.4 224.1,195.9 230.7,194.2 237.4,192.5 244.0,190.7 250.7,188.6 257.3,186.2 264.0,183.5 270.6,180.5 277.2,177.1 283.9,173.4 290.5,169.5 297.2,165.4 303.8,159.3 310.5,153.3 317.1,147.4 323.8,141.7 330.4,136.2 337.1,131.1 343.7,126.3 350.4,121.9 357.0,118.0 363.6,114.5 370.3,111.6 376.9,109.2 383.6,107.4 383.4,95.7 376.7,97.7 370.1,100.3 363.5,103.6 356.8,107.6 350.2,112.3 343.5,117.5 336.9,123.3 330.2,129.5 323.6,136.2 316.9,143.2 310.3,150.4 303.6,157.8 297.0,165.3 290.4,170.8 283.7,176.0 277.1,180.9 270.4,185.4 263.8,189.2 257.1,192.5 250.5,195.3 243.8,197.7 237.2,199.7 230.5,201.5 223.9,203.2 217.3,204.8 210.6,206.4"/>
<polygon transform="translate(-16.90 -6.90)" points="210.8,193.9 217.4,192.3 224.1,190.7 230.7,189.1 237.4,187.5 244.0,185.7 250.6,183.9 257.3,181.8 263.9,179.5 270.6,177.1 277.2,174.4 283.9,171.5 290.5,168.5 297.2,165.4 303.8,160.7 310.5,156.0 317.1,151.5 323.8,147.0 330.4,142.8 337.0,138.7 343.7,134.9 350.3,131.4 357.0,128.2 363.6,125.3 370.3,122.8 376.9,120.7 383.6,118.9 383.4,107.3 376.8,109.2 370.1,111.6 363.5,114.5 356.8,117.9 350.2,121.8 343.5,126.2 336.9,131.0 330.2,136.1 323.6,141.6 317.0,147.3 310.3,153.2 303.7,159.2 297.0,165.3 290.4,169.4 283.7,173.3 277.1,177.0 270.4,180.4 263.8,183.5 257.1,186.1 250.5,188.5 243.9,190.6 237.2,192.4 230.6,194.2 223.9,195.8 217.3,197.4 210.6,198.9"/>
<polygon transform="translate(-16.73 -6.83)" points="210.8,187.9 217.4,186.3 224.1,184.7 230.7,183.2 237.4,181.6 244.0,179.9 250.7,178.3 257.3,176.6 264.0,174.9 270.6,173.1 277.2,171.2 283.9,169.3 290.5,167.4 297.2,165.4 303.8,162.2 310.5,159.1 317.1,155.9 323.8,152.9 330.4,149.9 337.1,147.1 343.7,144.3 350.4,141.8 357.0,139.4 363.6,137.1 370.3,135.1 376.9,133.2 383.6,131.5 383.4,118.9 376.7,120.6 370.1,122.8 363.5,125.3 356.8,128.1 350.2,131.3 343.5,134.8 336.9,138.6 330.2,142.7 323.6,147.0 316.9,151.4 310.3,156.0 303.6,160.6 297.0,165.3 290.4,168.4 283.7,171.4 277.1,174.3 270.4,177.0 263.8,179.5 257.1,181.7 250.5,183.8 243.8,185.7 237.2,187.4 230.5,189.1 223.9,190.7 217.3,192.3 210.6,193.8"/>
<polygon transform="translate(-16.42 -6.70)" points="210.9,176.1 217.6,174.6 224.2,173.3 230.9,172.0 237.5,171.0 244.2,170.0 250.8,169.2 257.4,168.4 264.1,167.8 270.7,167.2 277.4,166.7 284.0,166.3 290.7,165.9 297.3,165.5 304.0,163.6 310.6,161.8 317.3,160.0 323.9,158.1 330.5,156.3 337.2,154.6 343.8,152.8 350.5,151.1 357.1,149.3 363.8,147.7 370.4,146.0 377.1,144.4 383.7,142.8 383.3,131.4 376.6,133.1 370.0,134.9 363.3,137.0 356.7,139.2 350.0,141.6 343.4,144.2 336.7,146.9 330.1,149.8 323.5,152.7 316.8,155.8 310.2,158.9 303.5,162.1 296.9,165.3 290.2,167.2 283.6,169.2 276.9,171.1 270.3,172.9 263.6,174.7 257.0,176.5 250.3,178.2 243.7,179.8 237.1,181.4 230.4,183.0 223.8,184.6 217.1,186.2 210.5,187.7"/>
<polygon transform="translate(-15.82 -6.46)" points="211.1,164.6 217.7,163.2 224.4,162.1 231.0,161.2 237.7,160.7 244.3,160.5 250.9,160.5 257.6,160.8 264.2,161.2 270.9,161.9 277.5,162.7 284.2,163.6 290.8,164.5 297.5,165.5 304.1,165.3 310.8,165.0 317.4,164.6 324.0,164.0 330.7,163.3 337.3,162.3 344.0,161.2 350.6,159.9 357.3,158.5 363.9,157.0 370.6,155.4 377.2,153.9 383.9,152.3 383.1,142.6 376.5,144.2 369.8,145.8 363.2,147.4 356.5,149.1 349.9,150.8 343.2,152.6 336.6,154.3 330.0,156.1 323.3,157.9 316.7,159.7 310.0,161.6 303.4,163.4 296.7,165.2 290.1,165.6 283.4,166.0 276.8,166.5 270.1,167.0 263.5,167.5 256.9,168.2 250.2,168.9 243.6,169.8 236.9,170.7 230.3,171.8 223.6,173.0 217.0,174.4 210.3,175.9"/>
<polygon transform="translate(-15.03 -6.13)" points="211.1,153.3 217.8,152.0 224.4,151.1 231.1,150.7 237.7,150.7 244.4,151.2 251.0,152.1 257.6,153.3 264.3,154.8 270.9,156.6 277.6,158.7 284.2,160.9 290.9,163.2 297.5,165.6 304.2,166.5 310.8,167.3 317.5,167.9 324.1,168.2 330.7,168.2 337.4,167.7 344.0,167.0 350.7,165.9 357.3,164.6 364.0,163.2 370.6,161.7 377.3,160.1 383.9,158.6 383.1,152.0 376.4,153.6 369.8,155.1 363.1,156.7 356.5,158.2 349.8,159.6 343.2,160.9 336.5,162.0 329.9,163.0 323.3,163.7 316.6,164.3 310.0,164.7 303.3,165.0 296.7,165.2 290.0,164.2 283.4,163.2 276.7,162.3 270.1,161.6 263.4,160.9 256.8,160.5 250.1,160.2 243.5,160.2 236.9,160.4 230.2,160.9 223.6,161.7 216.9,162.8 210.3,164.2"/>
<polygon transform="translate(-14.22 -5.80)" points="211.1,141.9 217.7,140.6 224.4,140.0 231.0,140.0 237.7,140.6 244.3,141.8 251.0,143.5 257.6,145.7 264.3,148.3 270.9,151.3 277.5,154.6 284.2,158.1 290.8,161.8 297.5,165.5 304.1,167.2 310.8,168.7 317.4,170.0 324.1,170.8 330.7,171.2 337.4,171.0 344.0,170.5 350.6,169.6 357.3,168.4 363.9,167.0 370.6,165.5 377.2,164.0 383.9,162.4 383.1,158.2 376.5,159.8 369.8,161.4 363.2,162.9 356.5,164.3 349.9,165.6 343.2,166.6 336.6,167.4 329.9,167.8 323.3,167.9 316.6,167.6 310.0,167.0 303.4,166.2 296.7,165.2 290.1,162.9 283.4,160.5 276.8,158.3 270.1,156.3 263.5,154.5 256.8,153.0 250.2,151.8 243.5,150.9 236.9,150.4 230.3,150.4 223.6,150.8 217.0,151.6 210.3,153.0"/>
<polygon transform="translate(-13.32 -5.44)" points="211.2,130.4 217.9,129.3 224.5,128.9 231.1,129.3 237.8,130.5 244.4,132.4 251.1,135.0 257.7,138.2 264.4,141.9 271.0,146.0 277.7,150.6 284.3,155.4 291.0,160.5 297.6,165.6 304.2,168.1 310.9,170.5 317.5,172.5 324.2,173.9 330.8,174.8 337.5,175.1 344.1,174.8 350.8,174.1 357.4,173.0 364.1,171.7 370.7,170.2 377.4,168.7 384.0,167.1 383.0,162.1 376.3,163.6 369.7,165.2 363.0,166.7 356.4,168.1 349.7,169.2 343.1,170.1 336.5,170.7 329.8,170.8 323.2,170.4 316.5,169.6 309.9,168.4 303.2,166.9 296.6,165.2 289.9,161.4 283.3,157.8 276.6,154.2 270.0,151.0 263.4,148.0 256.7,145.4 250.1,143.2 243.4,141.4 236.8,140.3 230.1,139.6 223.5,139.6 216.8,140.2 210.2,141.5"/>
<polygon transform="translate(-12.38 -5.05)" points="211.1,136.3 217.8,135.1 224.4,134.6 231.1,134.8 237.7,135.7 244.4,137.3 251.0,139.4 257.6,142.1 264.3,145.2 270.9,148.8 277.6,152.7 284.2,156.8 290.9,161.1 297.5,165.6 304.2,168.8 310.8,171.8 317.5,174.3 324.1,176.3 330.7,177.6 337.4,178.2 344.0,178.1 350.7,177.5 357.3,176.5 364.0,175.2 370.6,173.8 377.3,172.2 383.9,170.7 383.1,166.7 376.4,168.3 369.8,169.8 363.1,171.3 356.5,172.6 349.8,173.7 343.2,174.4 336.5,174.7 329.9,174.4 323.3,173.5 316.6,172.1 310.0,170.1 303.3,167.8 296.7,165.2 290.0,160.1 283.4,155.0 276.7,150.2 270.1,145.7 263.4,141.5 256.8,137.8 250.1,134.6 243.5,132.0 236.9,130.1 230.2,128.9 223.6,128.5 216.9,128.9 210.3,130.0"/>
<polygon transform="translate(-11.71 -4.78)" points="211.0,147.6 217.6,146.3 224.2,145.6 230.9,145.4 237.5,145.7 244.2,146.5 250.8,147.8 257.5,149.5 264.1,151.6 270.8,154.0 277.4,156.6 284.1,159.5 290.7,162.4 297.3,165.5 304.0,169.1 310.6,172.5 317.3,175.4 323.9,177.6 330.6,179.2 337.2,179.9 343.9,180.0 350.5,179.5 357.2,178.6 363.8,177.3 370.4,175.8 377.1,174.3 383.7,172.7 383.2,170.4 376.6,172.0 369.9,173.5 363.3,175.0 356.7,176.3 350.0,177.3 343.4,177.8 336.7,177.9 330.1,177.3 323.4,176.0 316.8,174.1 310.1,171.5 303.5,168.5 296.8,165.3 290.2,160.9 283.6,156.5 276.9,152.4 270.3,148.5 263.6,144.9 257.0,141.8 250.3,139.1 243.7,137.0 237.0,135.5 230.4,134.6 223.7,134.4 217.1,134.8 210.4,136.1"/>
<polygon transform="translate(-11.25 -4.59)" points="210.9,158.9 217.6,157.5 224.2,156.5 230.8,155.9 237.5,155.7 244.1,155.8 250.8,156.2 257.4,157.0 264.1,158.0 270.7,159.2 277.4,160.6 284.0,162.1 290.7,163.8 297.3,165.5 303.9,169.4 310.6,173.1 317.2,176.3 323.9,178.8 330.5,180.5 337.2,181.4 343.8,181.6 350.5,181.1 357.1,180.2 363.8,179.0 370.4,177.5 377.1,176.0 383.7,174.4 383.3,172.5 376.6,174.1 370.0,175.6 363.3,177.1 356.7,178.4 350.1,179.3 343.4,179.8 336.8,179.7 330.1,179.0 323.5,177.5 316.8,175.2 310.2,172.3 303.5,168.9 296.9,165.3 290.2,162.2 283.6,159.3 276.9,156.4 270.3,153.8 263.7,151.4 257.0,149.3 250.4,147.6 243.7,146.3 237.1,145.5 230.4,145.2 223.8,145.4 217.1,146.1 210.5,147.4"/>
<polygon transform="translate(-11.02 -4.50)" points="210.7,159.8 217.4,158.4 224.0,157.4 230.7,156.7 237.3,156.5 243.9,156.5 250.6,156.9 257.2,157.5 263.9,158.4 270.5,159.6 277.2,160.9 283.8,162.3 290.5,163.8 297.1,165.4 303.8,169.3 310.4,173.0 317.0,176.2 323.7,178.7 330.3,180.4 337.0,181.3 343.6,181.5 350.3,181.0 356.9,180.1 363.6,178.9 370.2,177.4 376.9,175.9 383.5,174.3 383.5,174.3 376.8,175.9 370.2,177.4 363.5,178.9 356.9,180.1 350.2,181.0 343.6,181.5 337.0,181.3 330.3,180.4 323.7,178.7 317.0,176.2 310.4,173.0 303.7,169.3 297.1,165.4 290.4,163.7 283.8,162.0 277.1,160.5 270.5,159.1 263.8,157.9 257.2,156.9 250.6,156.1 243.9,155.7 237.3,155.6 230.6,155.8 224.0,156.4 217.3,157.4 210.7,158.8"/>
<polygon transform="translate(-10.81 -4.41)" points="210.9,171.3 217.5,169.9 224.2,168.6 230.8,167.6 237.5,166.7 244.1,166.1 250.8,165.6 257.4,165.2 264.1,165.0 270.7,165.0 277.3,165.0 284.0,165.1 290.6,165.3 297.3,165.5 303.9,168.2 310.6,170.8 317.2,173.0 323.9,174.6 330.5,175.6 337.2,176.0 343.8,175.8 350.5,175.1 357.1,174.1 363.7,172.8 370.4,171.3 377.0,169.7 383.7,168.2 383.3,174.2 376.6,175.8 370.0,177.3 363.4,178.8 356.7,180.0 350.1,180.9 343.4,181.4 336.8,181.2 330.1,180.3 323.5,178.6 316.8,176.1 310.2,172.9 303.5,169.3 296.9,165.3 290.3,163.7 283.6,162.2 277.0,160.8 270.3,159.5 263.7,158.4 257.0,157.4 250.4,156.8 243.7,156.4 237.1,156.4 230.4,156.6 223.8,157.3 217.2,158.3 210.5,159.7"/>
<polygon transform="translate(-10.49 -4.28)" points="210.8,179.8 217.5,178.3 224.1,176.8 230.8,175.5 237.4,174.2 244.1,173.0 250.7,171.9 257.4,170.8 264.0,169.9 270.6,168.9 277.3,168.0 283.9,167.1 290.6,166.3 297.2,165.4 303.9,166.0 310.5,166.5 317.2,166.8 323.8,166.8 330.5,166.5 337.1,166.0 343.7,165.1 350.4,163.9 357.0,162.6 363.7,161.2 370.3,159.7 377.0,158.1 383.6,156.5 383.4,168.0 376.7,169.6 370.1,171.2 363.4,172.6 356.8,174.0 350.1,175.0 343.5,175.7 336.8,175.9 330.2,175.5 323.5,174.5 316.9,172.8 310.3,170.7 303.6,168.1 297.0,165.3 290.3,165.1 283.7,165.0 277.0,164.9 270.4,164.8 263.7,164.9 257.1,165.1 250.4,165.4 243.8,165.9 237.1,166.6 230.5,167.4 223.9,168.5 217.2,169.7 210.6,171.2"/>
<polygon transform="translate(-10.26 -4.19)" points="210.8,185.8 217.4,184.3 224.1,182.7 230.7,181.1 237.4,179.6 244.0,178.0 250.7,176.4 257.3,174.8 264.0,173.3 270.6,171.7 277.2,170.1 283.9,168.6 290.5,167.0 297.2,165.4 303.8,163.8 310.5,162.3 317.1,160.7 323.8,159.1 330.4,157.6 337.1,156.0 343.7,154.4 350.4,152.9 357.0,151.3 363.6,149.7 370.3,148.1 376.9,146.6 383.6,145.0 383.4,156.4 376.7,158.0 370.1,159.6 363.5,161.1 356.8,162.5 350.2,163.9 343.5,165.0 336.9,165.9 330.2,166.5 323.6,166.7 316.9,166.7 310.3,166.4 303.6,165.9 297.0,165.3 290.4,166.2 283.7,167.0 277.1,167.9 270.4,168.8 263.8,169.8 257.1,170.8 250.5,171.8 243.8,172.9 237.2,174.1 230.5,175.4 223.9,176.7 217.3,178.2 210.6,179.7"/>
<polygon transform="translate(-5.08 -2.07)" points="215.8,187.9 222.4,186.3 229.1,184.7 235.7,183.2 242.4,181.6 249.0,180.0 255.7,178.5 262.3,176.9 268.9,175.3 275.6,173.7 282.2,172.2 288.9,170.6 295.5,169.0 302.2,167.5 308.8,165.9 315.5,164.3 322.1,162.7 328.8,161.2 335.4,159.6 342.1,158.0 348.7,156.5 355.3,154.9 362.0,153.3 368.6,151.7 375.3,150.2 381.9,148.6 388.6,147.0 378.4,142.9 371.8,144.5 365.1,146.0 358.5,147.6 351.8,149.2 345.2,150.7 338.5,152.3 331.9,153.9 325.2,155.5 318.6,157.0 311.9,158.6 305.3,160.2 298.7,161.7 292.0,163.3 285.4,164.9 278.7,166.4 272.1,168.0 265.4,169.6 258.8,171.2 252.1,172.7 245.5,174.3 238.8,175.9 232.2,177.4 225.6,179.0 218.9,180.6 212.3,182.2 205.6,183.7"/>
</g>
<line x1="76.9" y1="165.5" x2="76.9" y2="47.9" stroke="#4a4a4a" stroke-width="0.9"/>
<line x1="210.7" y1="220.1" x2="76.9" y2="165.5" stroke="#4a4a4a" stroke-width="0.9"/>
<line x1="210.7" y1="220.1" x2="383.7" y2="180.1" stroke="#4a4a4a" stroke-width="0.9"/>
<line x1="210.7" y1="220.1" x2="213.7" y2="221.3" stroke="#4a4a4a" stroke-width="0.9"/>
<line x1="266.7" y1="207.2" x2="269.7" y2="208.4" stroke="#4a4a4a" stroke-width="0.9"/>
<line x1="322.7" y1="194.2" x2="325.7" y2="195.4" stroke="#4a4a4a" stroke-width="0.9"/>
<line x1="378.7" y1="181.2" x2="381.7" y2="182.5" stroke="#4a4a4a" stroke-width="0.9"/>
<line x1="210.7" y1="220.1" x2="207.6" y2="220.8" stroke="#4a4a4a" stroke-width="0.9"/>
<line x1="183.9" y1="209.2" x2="180.8" y2="209.9" stroke="#4a4a4a" stroke-width="0.9"/>
<line x1="157.2" y1="198.3" x2="154.1" y2="199.0" stroke="#4a4a4a" stroke-width="0.9"/>
<line x1="130.4" y1="187.3" x2="127.3" y2="188.1" stroke="#4a4a4a" stroke-width="0.9"/>
<line x1="103.7" y1="176.4" x2="100.5" y2="177.1" stroke="#4a4a4a" stroke-width="0.9"/>
<line x1="76.9" y1="165.5" x2="73.8" y2="166.2" stroke="#4a4a4a" stroke-width="0.9"/>
<line x1="76.9" y1="165.5" x2="73.9" y2="164.3" stroke="#4a4a4a" stroke-width="0.9"/>
<line x1="76.9" y1="67.5" x2="73.9" y2="66.3" stroke="#4a4a4a" stroke-width="0.9"/>
<text x="66.6" y="169.5" font-size="18" text-anchor="end" fill="#262626" >0</text>
<text x="66.6" y="71.5" font-size="18" text-anchor="end" fill="#262626" >5</text>
<text x="201.8" y="224.7" font-size="18" text-anchor="end" fill="#262626" transform="rotate(-59 201.8 224.7)" dy="6.4">0</text>
<text x="175.0" y="213.8" font-size="18" text-anchor="end" fill="#262626" transform="rotate(-59 175.0 213.8)" dy="6.4">200</text>
<text x="148.3" y="202.9" font-size="18" text-anchor="end" fill="#262626" transform="rotate(-59 148.3 202.9)" dy="6.4">400</text>
<text x="121.5" y="191.9" font-size="18" text-anchor="end" fill="#262626" transform="rotate(-59 121.5 191.9)" dy="6.4">600</text>
<text x="94.8" y="181.0" font-size="18" text-anchor="end" fill="#262626" transform="rotate(-59 94.8 181.0)" dy="6.4">800</text>
<text x="68.0" y="170.1" font-size="18" text-anchor="end" fill="#262626" transform="rotate(-59 68.0 170.1)" dy="6.4">1000</text>
<text x="224.3" y="242.8" font-size="18" text-anchor="middle" fill="#262626" >0</text>
<text x="280.5" y="229.9" font-size="18" text-anchor="middle" fill="#262626" >5</text>
<text x="339.8" y="216.9" font-size="18" text-anchor="middle" fill="#262626" >10</text>
<text x="396.7" y="204.0" font-size="18" text-anchor="middle" fill="#262626" >15</text>
<text x="356.0" y="258.6" font-size="20.6" text-anchor="middle" fill="#262626" >Distance x</text>
<text x="81.2" y="280.8" font-size="20.6" text-anchor="middle" fill="#262626" >Time t</text>
<text x="47.2" y="104.1" font-size="21" text-anchor="middle" fill="#262626" transform="rotate(-90 47.2 104.1)" >u(x,t)</text>
<line x1="671.0" y1="207.5" x2="537.2" y2="152.9" stroke="#e4e4e4" stroke-width="0.9"/>
<line x1="537.2" y1="152.9" x2="537.2" y2="39.3" stroke="#e4e4e4" stroke-width="0.9"/>
<line x1="727.0" y1="194.5" x2="593.2" y2="139.9" stroke="#e4e4e4" stroke-width="0.9"/>
<line x1="593.2" y1="139.9" x2="593.2" y2="26.3" stroke="#e4e4e4" stroke-width="0.9"/>
<line x1="783.0" y1="181.6" x2="649.2" y2="127.0" stroke="#e4e4e4" stroke-width="0.9"/>
<line x1="649.2" y1="127.0" x2="649.2" y2="13.4" stroke="#e4e4e4" stroke-width="0.9"/>
<line x1="588.2" y1="209.5" x2="761.3" y2="169.5" stroke="#e4e4e4" stroke-width="0.9"/>
<line x1="761.3" y1="169.5" x2="761.3" y2="55.9" stroke="#e4e4e4" stroke-width="0.9"/>
<line x1="561.5" y1="198.6" x2="734.5" y2="158.5" stroke="#e4e4e4" stroke-width="0.9"/>
<line x1="734.5" y1="158.5" x2="734.5" y2="44.9" stroke="#e4e4e4" stroke-width="0.9"/>
<line x1="534.7" y1="187.6" x2="707.8" y2="147.6" stroke="#e4e4e4" stroke-width="0.9"/>
<line x1="707.8" y1="147.6" x2="707.8" y2="34.0" stroke="#e4e4e4" stroke-width="0.9"/>
<line x1="508.0" y1="176.7" x2="681.0" y2="136.7" stroke="#e4e4e4" stroke-width="0.9"/>
<line x1="681.0" y1="136.7" x2="681.0" y2="23.1" stroke="#e4e4e4" stroke-width="0.9"/>
<line x1="481.2" y1="109.0" x2="654.2" y2="69.0" stroke="#e4e4e4" stroke-width="0.9"/>
<line x1="654.2" y1="69.0" x2="788.0" y2="123.6" stroke="#e4e4e4" stroke-width="0.9"/>
<line x1="481.2" y1="52.2" x2="654.2" y2="12.2" stroke="#e4e4e4" stroke-width="0.9"/>
<line x1="654.2" y1="12.2" x2="788.0" y2="66.8" stroke="#e4e4e4" stroke-width="0.9"/>
<line x1="654.2" y1="125.8" x2="654.2" y2="12.2" stroke="#e4e4e4" stroke-width="0.9"/>
<line x1="788.0" y1="180.4" x2="788.0" y2="66.8" stroke="#e4e4e4" stroke-width="0.9"/>
<line x1="481.2" y1="165.8" x2="654.2" y2="125.8" stroke="#e4e4e4" stroke-width="0.9"/>
<line x1="654.2" y1="125.8" x2="788.0" y2="180.4" stroke="#e4e4e4" stroke-width="0.9"/>
<g fill="url(#vz)" stroke="url(#vz)" stroke-width=".7" stroke-linejoin="round">
<polygon transform="translate(-133.69 -54.55)" points="615.1,178.3 621.8,176.6 628.4,174.9 635.0,173.1 641.7,171.2 648.3,169.1 655.0,166.8 661.6,164.3 668.3,161.7 674.9,158.8 681.6,155.7 688.2,152.4 694.9,149.0 701.5,145.5 708.2,145.1 714.8,144.6 721.4,144.1 728.1,143.4 734.7,142.7 741.4,141.8 748.0,140.7 754.7,139.6 761.3,138.3 768.0,137.0 774.6,135.5 781.3,134.1 787.9,132.5 787.7,142.7 781.0,144.2 774.4,145.6 767.7,146.8 761.1,147.8 754.4,148.6 747.8,149.2 741.2,149.5 734.5,149.5 727.9,149.1 721.2,148.5 714.6,147.6 707.9,146.6 701.3,145.4 694.6,148.6 688.0,151.7 681.3,154.7 674.7,157.6 668.1,160.3 661.4,162.8 654.8,165.1 648.1,167.3 641.5,169.3 634.8,171.2 628.2,172.9 621.5,174.6 614.9,176.2"/>
<polygon transform="translate(-133.48 -54.47)" points="615.1,179.7 621.7,178.1 628.4,176.4 635.0,174.5 641.7,172.5 648.3,170.4 655.0,168.0 661.6,165.4 668.3,162.6 674.9,159.6 681.5,156.3 688.2,152.8 694.8,149.2 701.5,145.5 708.1,143.6 714.8,141.7 721.4,139.8 728.1,138.0 734.7,136.1 741.4,134.3 748.0,132.5 754.7,130.7 761.3,129.0 767.9,127.3 774.6,125.6 781.2,124.0 787.9,122.4 787.7,132.4 781.0,134.0 774.4,135.5 767.8,136.9 761.1,138.2 754.5,139.5 747.8,140.6 741.2,141.7 734.5,142.6 727.9,143.3 721.2,144.0 714.6,144.5 707.9,145.0 701.3,145.4 694.7,148.9 688.0,152.3 681.4,155.6 674.7,158.7 668.1,161.6 661.4,164.3 654.8,166.7 648.1,169.0 641.5,171.1 634.8,173.0 628.2,174.8 621.6,176.6 614.9,178.2"/>
<polygon transform="translate(-133.29 -54.39)" points="615.1,180.7 621.7,179.1 628.4,177.4 635.0,175.5 641.7,173.5 648.3,171.3 655.0,168.9 661.6,166.2 668.3,163.3 674.9,160.2 681.6,156.8 688.2,153.1 694.8,149.4 701.5,145.5 708.1,142.3 714.8,139.1 721.4,135.9 728.1,132.8 734.7,129.8 741.4,127.0 748.0,124.2 754.7,121.6 761.3,119.2 768.0,117.0 774.6,114.9 781.2,113.0 787.9,111.3 787.7,122.3 781.0,123.9 774.4,125.5 767.8,127.2 761.1,128.9 754.5,130.6 747.8,132.4 741.2,134.2 734.5,136.0 727.9,137.9 721.2,139.7 714.6,141.6 707.9,143.5 701.3,145.4 694.6,149.1 688.0,152.7 681.4,156.2 674.7,159.5 668.1,162.6 661.4,165.4 654.8,167.9 648.1,170.3 641.5,172.4 634.8,174.4 628.2,176.3 621.5,178.0 614.9,179.6"/>
<polygon transform="translate(-133.07 -54.30)" points="615.1,182.0 621.8,180.4 628.4,178.7 635.1,176.8 641.7,174.7 648.4,172.5 655.0,170.0 661.6,167.2 668.3,164.2 674.9,160.9 681.6,157.3 688.2,153.5 694.9,149.6 701.5,145.5 708.2,141.0 714.8,136.5 721.5,132.1 728.1,127.8 734.7,123.7 741.4,119.9 748.0,116.2 754.7,112.8 761.3,109.7 768.0,106.9 774.6,104.5 781.3,102.4 787.9,100.6 787.7,111.3 781.0,112.9 774.4,114.8 767.7,116.9 761.1,119.1 754.4,121.5 747.8,124.1 741.1,126.9 734.5,129.8 727.9,132.7 721.2,135.8 714.6,139.0 707.9,142.2 701.3,145.4 694.6,149.3 688.0,153.0 681.3,156.7 674.7,160.1 668.0,163.2 661.4,166.1 654.7,168.8 648.1,171.2 641.5,173.4 634.8,175.4 628.2,177.3 621.5,179.0 614.9,180.7"/>
<polygon transform="translate(-132.80 -54.19)" points="615.1,183.5 621.8,181.9 628.4,180.1 635.1,178.2 641.7,176.1 648.4,173.8 655.0,171.2 661.7,168.4 668.3,165.2 675.0,161.7 681.6,158.0 688.2,154.0 694.9,149.8 701.5,145.5 708.2,139.7 714.8,134.0 721.5,128.4 728.1,122.9 734.8,117.7 741.4,112.8 748.1,108.3 754.7,104.1 761.3,100.3 768.0,97.0 774.6,94.2 781.3,91.9 787.9,90.0 787.6,100.5 781.0,102.3 774.4,104.4 767.7,106.8 761.1,109.6 754.4,112.7 747.8,116.1 741.1,119.7 734.5,123.6 727.8,127.7 721.2,132.0 714.5,136.4 707.9,140.9 701.3,145.4 694.6,149.5 688.0,153.4 681.3,157.2 674.7,160.8 668.0,164.1 661.4,167.1 654.7,169.9 648.1,172.3 641.4,174.6 634.8,176.7 628.1,178.6 621.5,180.3 614.9,181.9"/>
<polygon transform="translate(-132.37 -54.02)" points="615.3,186.1 621.9,184.4 628.6,182.6 635.2,180.7 641.9,178.5 648.5,176.1 655.2,173.4 661.8,170.3 668.4,167.0 675.1,163.2 681.7,159.2 688.4,154.8 695.0,150.2 701.7,145.6 708.3,138.5 715.0,131.5 721.6,124.7 728.3,118.2 734.9,111.9 741.6,106.0 748.2,100.5 754.8,95.6 761.5,91.2 768.1,87.4 774.8,84.1 781.4,81.6 788.1,79.7 787.5,89.9 780.9,91.7 774.2,94.0 767.6,96.9 760.9,100.2 754.3,103.9 747.6,108.1 741.0,112.7 734.3,117.6 727.7,122.8 721.0,128.2 714.4,133.8 707.8,139.5 701.1,145.3 694.5,149.6 687.8,153.8 681.2,157.8 674.5,161.6 667.9,165.0 661.2,168.2 654.6,171.0 647.9,173.6 641.3,175.9 634.7,178.0 628.0,179.9 621.4,181.7 614.7,183.3"/>
<use href="#vper" transform="matrix(1 -0.01324 0 0.94400 -117.96 -28.72)"/>
<use href="#vper" transform="matrix(1 -0.01135 0 0.95200 -102.49 -25.18)"/>
<use href="#vper" transform="matrix(1 -0.00945 0 0.96000 -87.02 -21.65)"/>
<use href="#vper" transform="matrix(1 -0.00756 0 0.96800 -71.56 -18.11)"/>
<use href="#vper" transform="matrix(1 -0.00567 0 0.97600 -56.09 -14.57)"/>
<use href="#vper" transform="matrix(1 -0.00378 0 0.98400 -40.62 -11.03)"/>
<use href="#vper" transform="matrix(1 -0.00189 0 0.99200 -25.15 -7.49)"/>
<polygon transform="translate(-25.12 -10.25)" points="615.0,179.9 621.7,178.2 628.3,176.5 635.0,174.6 641.6,172.7 648.3,170.5 654.9,168.1 661.6,165.5 668.2,162.7 674.8,159.7 681.5,156.3 688.1,152.8 694.8,149.2 701.4,145.5 708.1,143.4 714.7,141.3 721.4,139.3 728.0,137.2 734.7,135.2 741.3,133.3 747.9,131.3 754.6,129.5 761.2,127.6 767.9,125.9 774.5,124.1 781.2,122.5 787.8,120.9 787.8,124.2 781.1,125.7 774.5,127.3 767.8,128.9 761.2,130.5 754.5,132.2 747.9,133.8 741.2,135.4 734.6,137.1 727.9,138.8 721.3,140.4 714.7,142.1 708.0,143.8 701.4,145.4 694.7,149.1 688.1,152.7 681.4,156.2 674.8,159.4 668.1,162.5 661.5,165.3 654.8,167.8 648.2,170.2 641.5,172.3 634.9,174.3 628.3,176.1 621.6,177.9 615.0,179.5"/>
<polygon transform="translate(-24.98 -10.19)" points="615.1,181.0 621.8,179.3 628.4,177.6 635.0,175.7 641.7,173.7 648.3,171.5 655.0,169.1 661.6,166.4 668.3,163.5 674.9,160.3 681.6,156.9 688.2,153.2 694.9,149.4 701.5,145.5 708.1,142.2 714.8,138.8 721.4,135.6 728.1,132.4 734.7,129.3 741.4,126.3 748.0,123.5 754.7,120.9 761.3,118.4 768.0,116.1 774.6,114.0 781.3,112.1 787.9,110.4 787.7,120.8 781.0,122.4 774.4,124.1 767.7,125.8 761.1,127.6 754.5,129.4 747.8,131.3 741.2,133.2 734.5,135.2 727.9,137.2 721.2,139.2 714.6,141.3 707.9,143.3 701.3,145.4 694.6,149.1 688.0,152.8 681.3,156.3 674.7,159.6 668.1,162.7 661.4,165.5 654.8,168.1 648.1,170.4 641.5,172.6 634.8,174.6 628.2,176.4 621.5,178.2 614.9,179.8"/>
<polygon transform="translate(-24.74 -10.09)" points="615.1,182.3 621.8,180.7 628.4,178.9 635.1,177.0 641.7,175.0 648.4,172.7 655.0,170.2 661.7,167.4 668.3,164.4 674.9,161.1 681.6,157.5 688.2,153.6 694.9,149.6 701.5,145.5 708.2,140.9 714.8,136.4 721.5,131.9 728.1,127.6 734.8,123.4 741.4,119.5 748.0,115.8 754.7,112.4 761.3,109.2 768.0,106.4 774.6,103.9 781.3,101.8 787.9,100.1 787.7,110.3 781.0,112.0 774.4,113.9 767.7,116.0 761.1,118.3 754.4,120.8 747.8,123.4 741.1,126.2 734.5,129.2 727.8,132.3 721.2,135.5 714.6,138.7 707.9,142.1 701.3,145.4 694.6,149.3 688.0,153.1 681.3,156.8 674.7,160.2 668.0,163.4 661.4,166.3 654.7,169.0 648.1,171.4 641.4,173.6 634.8,175.6 628.2,177.5 621.5,179.2 614.9,180.9"/>
<polygon transform="translate(-24.44 -9.97)" points="615.2,183.9 621.8,182.3 628.5,180.5 635.1,178.6 641.7,176.5 648.4,174.1 655.0,171.6 661.7,168.7 668.3,165.5 675.0,162.0 681.6,158.2 688.3,154.1 694.9,149.9 701.6,145.5 708.2,139.6 714.9,133.8 721.5,128.2 728.1,122.7 734.8,117.4 741.4,112.4 748.1,107.8 754.7,103.6 761.4,99.8 768.0,96.5 774.7,93.6 781.3,91.3 788.0,89.4 787.6,99.9 781.0,101.7 774.3,103.8 767.7,106.3 761.0,109.1 754.4,112.2 747.7,115.7 741.1,119.4 734.5,123.3 727.8,127.5 721.2,131.8 714.5,136.3 707.9,140.8 701.2,145.4 694.6,149.5 687.9,153.5 681.3,157.3 674.6,160.9 668.0,164.3 661.4,167.3 654.7,170.1 648.1,172.6 641.4,174.8 634.8,176.9 628.1,178.8 621.5,180.6 614.8,182.2"/>
<polygon transform="translate(-23.93 -9.77)" points="615.3,186.9 622.0,185.2 628.6,183.4 635.3,181.4 641.9,179.2 648.6,176.8 655.2,174.0 661.9,170.9 668.5,167.5 675.1,163.7 681.8,159.5 688.4,155.1 695.1,150.4 701.7,145.6 708.4,138.5 715.0,131.5 721.7,124.6 728.3,118.0 735.0,111.7 741.6,105.8 748.2,100.3 754.9,95.3 761.5,90.9 768.2,87.0 774.8,83.8 781.5,81.2 788.1,79.3 787.5,89.2 780.8,91.0 774.2,93.4 767.5,96.2 760.9,99.6 754.2,103.4 747.6,107.6 740.9,112.2 734.3,117.2 727.6,122.5 721.0,128.0 714.4,133.6 707.7,139.4 701.1,145.3 694.4,149.7 687.8,153.9 681.1,158.0 674.5,161.8 667.8,165.3 661.2,168.5 654.5,171.3 647.9,173.9 641.2,176.3 634.6,178.4 628.0,180.3 621.3,182.1 614.7,183.7"/>
<polygon transform="translate(-22.66 -9.25)" points="615.9,195.9 622.6,194.2 629.2,192.3 635.9,190.1 642.5,187.6 649.2,184.8 655.8,181.6 662.5,177.8 669.1,173.6 675.7,168.9 682.4,163.6 689.0,158.0 695.7,152.0 702.3,145.8 709.0,138.2 715.6,130.6 722.3,123.2 728.9,116.1 735.6,109.3 742.2,102.9 748.9,97.0 755.5,91.7 762.1,86.9 768.8,82.9 775.4,79.5 782.1,76.8 788.7,74.9 786.9,78.8 780.2,80.7 773.6,83.3 766.9,86.5 760.3,90.3 753.6,94.8 747.0,99.8 740.3,105.2 733.7,111.2 727.0,117.5 720.4,124.1 713.7,131.0 707.1,138.0 700.5,145.1 693.8,149.9 687.2,154.5 680.5,159.0 673.9,163.1 667.2,167.0 660.6,170.4 653.9,173.5 647.3,176.2 640.6,178.7 634.0,180.9 627.4,182.9 620.7,184.7 614.1,186.3"/>
<polygon transform="translate(-21.65 -8.83)" points="615.1,196.3 621.7,194.6 628.4,192.7 635.0,190.5 641.7,188.0 648.3,185.1 654.9,181.8 661.6,178.1 668.2,173.8 674.9,168.9 681.5,163.6 688.2,157.8 694.8,151.7 701.5,145.5 708.1,137.8 714.8,130.3 721.4,122.9 728.1,115.8 734.7,109.0 741.3,102.7 748.0,96.8 754.6,91.5 761.3,86.8 767.9,82.7 774.6,79.3 781.2,76.6 787.9,74.7 787.7,74.5 781.1,76.4 774.4,79.1 767.8,82.4 761.1,86.5 754.5,91.3 747.8,96.6 741.2,102.5 734.5,108.9 727.9,115.6 721.3,122.8 714.6,130.2 708.0,137.8 701.3,145.4 694.7,151.6 688.0,157.5 681.4,163.2 674.7,168.5 668.1,173.2 661.4,177.4 654.8,181.2 648.2,184.4 641.5,187.2 634.9,189.7 628.2,191.9 621.6,193.8 614.9,195.4"/>
<polygon transform="translate(-20.64 -8.42)" points="615.9,204.4 622.6,202.7 629.2,200.7 635.9,198.4 642.5,195.6 649.2,192.5 655.8,188.7 662.5,184.4 669.1,179.4 675.7,173.7 682.4,167.4 689.0,160.5 695.7,153.3 702.3,145.8 709.0,139.0 715.6,132.2 722.3,125.6 728.9,119.2 735.6,113.1 742.2,107.4 748.9,102.1 755.5,97.3 762.1,93.0 768.8,89.2 775.4,86.1 782.1,83.6 788.7,81.7 786.9,74.3 780.2,76.2 773.6,78.9 766.9,82.3 760.3,86.3 753.6,91.1 747.0,96.4 740.3,102.3 733.7,108.6 727.0,115.4 720.4,122.5 713.7,129.9 707.1,137.4 700.5,145.1 693.8,151.3 687.2,157.4 680.5,163.2 673.9,168.5 667.2,173.4 660.6,177.7 653.9,181.4 647.3,184.7 640.6,187.6 634.0,190.1 627.4,192.2 620.7,194.2 614.1,195.8"/>
<polygon transform="translate(-19.24 -7.85)" points="615.5,206.4 622.1,204.7 628.8,202.6 635.4,200.3 642.0,197.5 648.7,194.2 655.3,190.3 662.0,185.8 668.6,180.6 675.3,174.7 681.9,168.2 688.6,161.0 695.2,153.4 701.9,145.6 708.5,140.0 715.1,134.5 721.8,129.0 728.4,123.8 735.1,118.7 741.7,114.0 748.4,109.5 755.0,105.5 761.7,101.8 768.3,98.6 775.0,95.8 781.6,93.5 788.2,91.7 787.3,81.1 780.7,83.0 774.0,85.5 767.4,88.7 760.7,92.4 754.1,96.7 747.5,101.5 740.8,106.8 734.2,112.6 727.5,118.7 720.9,125.0 714.2,131.7 707.6,138.4 700.9,145.3 694.3,152.7 687.6,160.0 681.0,166.8 674.4,173.1 667.7,178.8 661.1,183.8 654.4,188.2 647.8,191.9 641.1,195.1 634.5,197.8 627.8,200.1 621.2,202.1 614.5,203.9"/>
<polygon transform="translate(-18.64 -7.61)" points="615.1,205.1 621.8,203.3 628.4,201.3 635.1,199.0 641.7,196.2 648.4,193.0 655.0,189.2 661.7,184.8 668.3,179.7 675.0,173.9 681.6,167.5 688.2,160.5 694.9,153.1 701.5,145.5 708.2,140.6 714.8,135.8 721.5,131.1 728.1,126.5 734.8,122.1 741.4,117.9 748.1,114.0 754.7,110.4 761.3,107.1 768.0,104.2 774.6,101.6 781.3,99.4 787.9,97.7 787.6,91.4 781.0,93.3 774.4,95.6 767.7,98.3 761.1,101.6 754.4,105.2 747.8,109.3 741.1,113.7 734.5,118.5 727.8,123.5 721.2,128.8 714.5,134.2 707.9,139.8 701.3,145.4 694.6,153.2 688.0,160.8 681.3,167.9 674.7,174.5 668.0,180.4 661.4,185.6 654.7,190.1 648.1,193.9 641.4,197.2 634.8,200.0 628.1,202.4 621.5,204.4 614.9,206.1"/>
<polygon transform="translate(-18.33 -7.48)" points="615.2,201.0 621.8,199.3 628.5,197.3 635.1,195.0 641.7,192.4 648.4,189.4 655.0,185.8 661.7,181.7 668.3,177.0 675.0,171.6 681.6,165.7 688.3,159.3 694.9,152.5 701.6,145.5 708.2,141.9 714.9,138.3 721.5,134.7 728.1,131.3 734.8,127.9 741.4,124.7 748.1,121.7 754.7,118.8 761.4,116.2 768.0,113.7 774.7,111.6 781.3,109.6 788.0,107.9 787.6,97.5 781.0,99.3 774.3,101.5 767.7,104.0 761.0,107.0 754.4,110.3 747.7,113.9 741.1,117.8 734.5,122.0 727.8,126.4 721.2,130.9 714.5,135.7 707.9,140.5 701.2,145.4 694.6,153.0 687.9,160.4 681.3,167.4 674.6,173.8 668.0,179.6 661.4,184.7 654.7,189.1 648.1,192.9 641.4,196.1 634.8,198.9 628.1,201.2 621.5,203.2 614.8,204.9"/>
<polygon transform="translate(-18.02 -7.35)" points="615.1,195.8 621.8,194.1 628.4,192.2 635.1,190.0 641.7,187.5 648.4,184.7 655.0,181.4 661.7,177.7 668.3,173.4 675.0,168.7 681.6,163.4 688.2,157.7 694.9,151.7 701.5,145.5 708.2,143.1 714.8,140.7 721.5,138.4 728.1,136.1 734.8,133.8 741.4,131.6 748.1,129.4 754.7,127.3 761.3,125.3 768.0,123.4 774.6,121.6 781.3,119.9 787.9,118.3 787.6,107.8 781.0,109.5 774.4,111.4 767.7,113.6 761.1,116.0 754.4,118.7 747.8,121.5 741.1,124.6 734.5,127.8 727.8,131.1 721.2,134.6 714.5,138.1 707.9,141.8 701.3,145.4 694.6,152.4 688.0,159.2 681.3,165.6 674.7,171.5 668.0,176.8 661.4,181.6 654.7,185.7 648.1,189.2 641.4,192.3 634.8,194.9 628.1,197.2 621.5,199.2 614.9,200.9"/>
<polygon transform="translate(-17.75 -7.24)" points="615.1,185.2 621.8,183.5 628.4,181.7 635.1,179.8 641.7,177.6 648.4,175.2 655.0,172.6 661.7,169.6 668.3,166.3 674.9,162.7 681.6,158.7 688.2,154.5 694.9,150.0 701.5,145.5 708.2,144.1 714.8,142.7 721.5,141.3 728.1,139.9 734.8,138.5 741.4,137.0 748.0,135.5 754.7,134.0 761.3,132.5 768.0,131.0 774.6,129.4 781.3,127.9 787.9,126.3 787.7,118.2 781.0,119.8 774.4,121.5 767.7,123.3 761.1,125.2 754.4,127.2 747.8,129.3 741.1,131.4 734.5,133.7 727.8,135.9 721.2,138.3 714.6,140.6 707.9,143.0 701.3,145.4 694.6,151.6 688.0,157.6 681.3,163.3 674.7,168.6 668.0,173.3 661.4,177.6 654.7,181.3 648.1,184.6 641.4,187.4 634.8,189.9 628.2,192.0 621.5,194.0 614.9,195.6"/>
<polygon transform="translate(-17.49 -7.14)" points="615.1,174.6 621.8,173.0 628.4,171.3 635.1,169.6 641.7,167.8 648.3,165.8 655.0,163.8 661.6,161.6 668.3,159.2 674.9,156.7 681.6,154.1 688.2,151.3 694.9,148.4 701.5,145.5 708.2,144.9 714.8,144.3 721.4,143.6 728.1,142.8 734.7,141.9 741.4,140.9 748.0,139.8 754.7,138.6 761.3,137.3 768.0,136.0 774.6,134.5 781.3,133.0 787.9,131.5 787.7,126.2 781.0,127.8 774.4,129.3 767.7,130.9 761.1,132.4 754.4,133.9 747.8,135.4 741.2,136.9 734.5,138.4 727.9,139.8 721.2,141.2 714.6,142.6 707.9,144.0 701.3,145.4 694.6,149.9 688.0,154.4 681.3,158.6 674.7,162.6 668.0,166.2 661.4,169.5 654.8,172.5 648.1,175.1 641.5,177.5 634.8,179.7 628.2,181.6 621.5,183.4 614.9,185.1"/>
<polygon transform="translate(-17.29 -7.05)" points="615.1,164.2 621.7,162.7 628.4,161.1 635.0,159.6 641.7,158.1 648.3,156.7 655.0,155.2 661.6,153.8 668.3,152.4 674.9,151.0 681.5,149.6 688.2,148.2 694.8,146.9 701.5,145.5 708.1,145.4 714.8,145.2 721.4,144.9 728.1,144.5 734.7,143.9 741.4,143.2 748.0,142.3 754.7,141.2 761.3,140.0 767.9,138.7 774.6,137.4 781.2,135.9 787.9,134.4 787.7,131.4 781.0,132.9 774.4,134.4 767.8,135.9 761.1,137.2 754.5,138.5 747.8,139.8 741.2,140.9 734.5,141.9 727.9,142.7 721.2,143.5 714.6,144.2 707.9,144.8 701.3,145.4 694.7,148.3 688.0,151.2 681.4,154.0 674.7,156.6 668.1,159.1 661.4,161.5 654.8,163.7 648.1,165.7 641.5,167.7 634.8,169.5 628.2,171.3 621.6,172.9 614.9,174.5"/>
<polygon transform="translate(-17.10 -6.98)" points="615.1,153.9 621.7,152.4 628.4,151.1 635.0,149.9 641.7,149.0 648.3,148.2 655.0,147.5 661.6,146.9 668.3,146.5 674.9,146.2 681.5,145.9 688.2,145.8 694.8,145.6 701.5,145.5 708.1,145.6 714.8,145.7 721.4,145.6 728.1,145.4 734.7,145.0 741.4,144.4 748.0,143.7 754.7,142.7 761.3,141.6 767.9,140.4 774.6,139.0 781.2,137.6 787.9,136.0 787.7,134.3 781.0,135.8 774.4,137.3 767.8,138.7 761.1,140.0 754.5,141.1 747.8,142.2 741.2,143.1 734.5,143.8 727.9,144.4 721.2,144.8 714.6,145.1 707.9,145.3 701.3,145.4 694.7,146.8 688.0,148.2 681.4,149.5 674.7,150.9 668.1,152.3 661.4,153.7 654.8,155.2 648.1,156.6 641.5,158.1 634.8,159.6 628.2,161.1 621.6,162.6 614.9,164.2"/>
<polygon transform="translate(-16.89 -6.89)" points="615.1,143.3 621.8,141.9 628.4,140.8 635.1,140.0 641.7,139.6 648.3,139.4 655.0,139.5 661.6,139.9 668.3,140.5 674.9,141.3 681.6,142.2 688.2,143.2 694.9,144.3 701.5,145.5 708.2,145.9 714.8,146.3 721.4,146.5 728.1,146.5 734.7,146.3 741.4,145.9 748.0,145.3 754.7,144.4 761.3,143.4 768.0,142.2 774.6,140.9 781.3,139.5 787.9,138.0 787.7,136.0 781.0,137.5 774.4,138.9 767.7,140.3 761.1,141.5 754.4,142.6 747.8,143.6 741.2,144.4 734.5,144.9 727.9,145.3 721.2,145.5 714.6,145.6 707.9,145.5 701.3,145.4 694.6,145.5 688.0,145.7 681.3,145.8 674.7,146.1 668.0,146.4 661.4,146.8 654.8,147.4 648.1,148.1 641.5,148.9 634.8,149.9 628.2,151.0 621.5,152.3 614.9,153.8"/>
<polygon transform="translate(-16.66 -6.80)" points="615.1,133.0 621.8,131.7 628.4,130.8 635.1,130.4 641.7,130.5 648.3,131.0 655.0,131.9 661.6,133.1 668.3,134.7 674.9,136.5 681.6,138.5 688.2,140.8 694.9,143.1 701.5,145.5 708.2,146.2 714.8,146.7 721.4,147.2 728.1,147.4 734.7,147.4 741.4,147.1 748.0,146.6 754.7,145.8 761.3,144.9 768.0,143.7 774.6,142.5 781.3,141.1 787.9,139.5 787.7,137.9 781.0,139.4 774.4,140.8 767.7,142.1 761.1,143.3 754.4,144.3 747.8,145.2 741.2,145.8 734.5,146.2 727.9,146.4 721.2,146.4 714.6,146.2 707.9,145.8 701.3,145.4 694.6,144.2 688.0,143.1 681.3,142.1 674.7,141.2 668.0,140.4 661.4,139.8 654.8,139.4 648.1,139.3 641.5,139.5 634.8,139.9 628.2,140.7 621.5,141.8 614.9,143.2"/>
<polygon transform="translate(-16.30 -6.65)" points="615.2,122.3 621.9,121.1 628.5,120.5 635.2,120.5 641.8,121.1 648.5,122.2 655.1,123.9 661.8,126.0 668.4,128.6 675.1,131.6 681.7,134.8 688.3,138.3 695.0,141.9 701.6,145.6 708.3,146.6 714.9,147.6 721.6,148.5 728.2,149.0 734.9,149.3 741.5,149.3 748.2,149.0 754.8,148.4 761.4,147.5 768.1,146.5 774.7,145.3 781.4,143.9 788.0,142.4 787.5,139.4 780.9,140.9 774.3,142.3 767.6,143.6 761.0,144.7 754.3,145.7 747.7,146.4 741.0,147.0 734.4,147.2 727.7,147.2 721.1,147.0 714.4,146.6 707.8,146.0 701.2,145.4 694.5,143.0 687.9,140.6 681.2,138.4 674.6,136.3 667.9,134.5 661.3,133.0 654.6,131.7 648.0,130.8 641.3,130.4 634.7,130.3 628.0,130.7 621.4,131.5 614.8,132.9"/>
<polygon transform="translate(-15.12 -6.17)" points="615.9,115.7 622.6,114.5 629.2,114.0 635.9,114.3 642.5,115.2 649.2,116.8 655.8,119.0 662.5,121.7 669.1,125.0 675.7,128.6 682.4,132.6 689.0,136.9 695.7,141.3 702.3,145.8 709.0,148.4 715.6,150.8 722.3,153.0 728.9,154.7 735.6,156.1 742.2,156.9 748.9,157.3 755.5,157.2 762.1,156.8 768.8,156.0 775.4,155.0 782.1,153.7 788.7,152.3 786.9,141.9 780.2,143.4 773.6,144.8 766.9,146.0 760.3,147.0 753.6,147.9 747.0,148.5 740.3,148.8 733.7,148.8 727.0,148.5 720.4,148.0 713.7,147.2 707.1,146.2 700.5,145.1 693.8,141.4 687.2,137.8 680.5,134.3 673.9,131.1 667.2,128.1 660.6,125.6 653.9,123.4 647.3,121.7 640.6,120.6 634.0,120.0 627.4,120.0 620.7,120.6 614.1,121.9"/>
<polygon transform="translate(-13.54 -5.52)" points="615.6,117.3 622.3,116.0 628.9,115.5 635.6,115.7 642.2,116.6 648.9,118.1 655.5,120.1 662.2,122.7 668.8,125.8 675.5,129.3 682.1,133.1 688.7,137.2 695.4,141.4 702.0,145.7 708.7,149.4 715.3,152.9 722.0,156.0 728.6,158.7 735.3,160.7 741.9,162.2 748.6,163.1 755.2,163.5 761.8,163.3 768.5,162.8 775.1,161.9 781.8,160.7 788.4,159.3 787.1,151.6 780.5,153.1 773.9,154.4 767.2,155.4 760.6,156.1 753.9,156.6 747.3,156.6 740.6,156.3 734.0,155.4 727.3,154.1 720.7,152.3 714.0,150.2 707.4,147.8 700.7,145.2 694.1,140.7 687.5,136.2 680.8,132.0 674.2,128.0 667.5,124.3 660.9,121.1 654.2,118.3 647.6,116.2 640.9,114.6 634.3,113.6 627.6,113.4 621.0,113.9 614.4,115.1"/>
<polygon transform="translate(-12.30 -5.02)" points="615.6,127.4 622.2,126.1 628.9,125.4 635.5,125.2 642.2,125.6 648.8,126.4 655.5,127.7 662.1,129.5 668.8,131.6 675.4,134.0 682.1,136.7 688.7,139.6 695.3,142.6 702.0,145.7 708.6,150.1 715.3,154.4 721.9,158.2 728.6,161.4 735.2,164.1 741.9,166.0 748.5,167.2 755.2,167.9 761.8,167.9 768.4,167.6 775.1,166.8 781.7,165.6 788.4,164.2 787.2,158.8 780.5,160.2 773.9,161.4 767.3,162.3 760.6,162.8 754.0,163.0 747.3,162.6 740.7,161.7 734.0,160.2 727.4,158.1 720.7,155.5 714.1,152.4 707.4,148.9 700.8,145.2 694.2,140.9 687.5,136.7 680.9,132.6 674.2,128.8 667.6,125.3 660.9,122.2 654.3,119.6 647.6,117.5 641.0,116.1 634.3,115.2 627.7,115.0 621.1,115.5 614.4,116.7"/>
<polygon transform="translate(-11.42 -4.66)" points="615.3,137.5 621.9,136.1 628.6,135.2 635.2,134.6 641.9,134.5 648.5,134.7 655.2,135.2 661.8,136.1 668.4,137.2 675.1,138.6 681.7,140.2 688.4,141.9 695.0,143.7 701.7,145.6 708.3,150.2 715.0,154.7 721.6,158.7 728.3,162.1 734.9,164.9 741.6,166.9 748.2,168.3 754.8,169.0 761.5,169.1 768.1,168.8 774.8,168.0 781.4,166.9 788.1,165.5 787.5,163.8 780.9,165.3 774.2,166.4 767.6,167.2 760.9,167.6 754.3,167.5 747.6,166.9 741.0,165.6 734.3,163.7 727.7,161.1 721.0,157.8 714.4,154.0 707.8,149.8 701.1,145.3 694.5,142.2 687.8,139.2 681.2,136.3 674.5,133.6 667.9,131.2 661.2,129.1 654.6,127.4 647.9,126.1 641.3,125.2 634.7,124.9 628.0,125.0 621.4,125.8 614.7,127.1"/>
<polygon transform="translate(-10.94 -4.46)" points="615.2,147.4 621.8,145.9 628.5,144.8 635.1,143.9 641.8,143.2 648.4,142.8 655.1,142.6 661.7,142.6 668.4,142.8 675.0,143.2 681.7,143.7 688.3,144.2 694.9,144.9 701.6,145.5 708.2,148.9 714.9,152.0 721.5,154.9 728.2,157.2 734.8,159.1 741.5,160.4 748.1,161.1 754.8,161.3 761.4,161.1 768.1,160.5 774.7,159.5 781.3,158.3 788.0,156.9 787.6,165.3 780.9,166.7 774.3,167.8 767.6,168.6 761.0,168.9 754.4,168.8 747.7,168.1 741.1,166.7 734.4,164.7 727.8,161.9 721.1,158.5 714.5,154.5 707.8,150.0 701.2,145.4 694.5,143.5 687.9,141.7 681.3,140.0 674.6,138.4 668.0,137.0 661.3,135.9 654.7,135.0 648.0,134.5 641.4,134.3 634.7,134.4 628.1,135.0 621.4,135.9 614.8,137.3"/>
<polygon transform="translate(-10.64 -4.34)" points="615.1,153.2 621.7,151.8 628.4,150.5 635.0,149.4 641.7,148.4 648.3,147.6 655.0,147.0 661.6,146.5 668.3,146.2 674.9,145.9 681.6,145.7 688.2,145.6 694.8,145.5 701.5,145.5 708.1,147.2 714.8,148.8 721.4,150.2 728.1,151.3 734.7,152.0 741.4,152.3 748.0,152.3 754.7,151.9 761.3,151.3 768.0,150.3 774.6,149.2 781.2,147.9 787.9,146.4 787.7,156.8 781.0,158.2 774.4,159.4 767.8,160.4 761.1,161.0 754.5,161.2 747.8,161.0 741.2,160.2 734.5,158.9 727.9,157.1 721.2,154.7 714.6,151.9 707.9,148.7 701.3,145.4 694.6,144.7 688.0,144.1 681.4,143.5 674.7,143.1 668.1,142.7 661.4,142.5 654.8,142.5 648.1,142.7 641.5,143.1 634.8,143.7 628.2,144.6 621.5,145.8 614.9,147.2"/>
<polygon transform="translate(-10.44 -4.26)" points="615.1,159.3 621.7,157.7 628.4,156.3 635.0,155.0 641.7,153.7 648.3,152.6 655.0,151.5 661.6,150.5 668.3,149.6 674.9,148.7 681.5,147.8 688.2,147.0 694.8,146.3 701.5,145.5 708.1,145.5 714.8,145.5 721.4,145.4 728.1,145.1 734.7,144.7 741.4,144.1 748.0,143.3 754.7,142.3 761.3,141.2 767.9,139.9 774.6,138.5 781.2,137.1 787.9,135.6 787.7,146.3 781.0,147.8 774.4,149.1 767.8,150.3 761.1,151.2 754.5,151.9 747.8,152.2 741.2,152.2 734.5,151.9 727.9,151.2 721.2,150.1 714.6,148.7 707.9,147.1 701.3,145.4 694.7,145.5 688.0,145.5 681.4,145.6 674.7,145.8 668.1,146.1 661.4,146.4 654.8,146.9 648.1,147.6 641.5,148.3 634.8,149.3 628.2,150.4 621.6,151.7 614.9,153.2"/>
<polygon transform="translate(-10.26 -4.19)" points="615.1,165.9 621.7,164.3 628.4,162.8 635.0,161.2 641.7,159.6 648.3,158.1 655.0,156.5 661.6,154.9 668.3,153.3 674.9,151.8 681.5,150.2 688.2,148.6 694.8,147.1 701.5,145.5 708.1,143.9 714.8,142.3 721.4,140.8 728.1,139.2 734.7,137.6 741.4,136.1 748.0,134.5 754.7,132.9 761.3,131.4 767.9,129.8 774.6,128.2 781.2,126.6 787.9,125.1 787.7,135.5 781.0,137.0 774.4,138.5 767.8,139.8 761.1,141.1 754.5,142.2 747.8,143.2 741.2,144.0 734.5,144.6 727.9,145.1 721.2,145.3 714.6,145.5 707.9,145.5 701.3,145.4 694.7,146.2 688.0,147.0 681.4,147.8 674.7,148.6 668.1,149.5 661.4,150.4 654.8,151.4 648.1,152.5 641.5,153.7 634.8,154.9 628.2,156.2 621.6,157.7 614.9,159.2"/>
<polygon transform="translate(-5.08 -2.07)" points="620.1,167.9 626.7,166.4 633.4,164.8 640.0,163.2 646.7,161.7 653.3,160.1 660.0,158.5 666.6,157.0 673.2,155.4 679.9,153.8 686.5,152.2 693.2,150.7 699.8,149.1 706.5,147.5 713.1,146.0 719.8,144.4 726.4,142.8 733.1,141.2 739.7,139.7 746.4,138.1 753.0,136.5 759.6,135.0 766.3,133.4 772.9,131.8 779.6,130.2 786.2,128.7 792.9,127.1 782.7,123.0 776.1,124.5 769.4,126.1 762.8,127.7 756.1,129.2 749.5,130.8 742.8,132.4 736.2,134.0 729.5,135.5 722.9,137.1 716.2,138.7 709.6,140.2 703.0,141.8 696.3,143.4 689.7,144.9 683.0,146.5 676.4,148.1 669.7,149.7 663.1,151.2 656.4,152.8 649.8,154.4 643.1,155.9 636.5,157.5 629.9,159.1 623.2,160.7 616.6,162.2 609.9,163.8"/>
</g>
<line x1="481.2" y1="165.8" x2="481.2" y2="52.2" stroke="#4a4a4a" stroke-width="0.9"/>
<line x1="615.0" y1="220.4" x2="481.2" y2="165.8" stroke="#4a4a4a" stroke-width="0.9"/>
<line x1="615.0" y1="220.4" x2="788.0" y2="180.4" stroke="#4a4a4a" stroke-width="0.9"/>
<line x1="615.0" y1="220.4" x2="618.0" y2="221.6" stroke="#4a4a4a" stroke-width="0.9"/>
<line x1="671.0" y1="207.5" x2="674.0" y2="208.7" stroke="#4a4a4a" stroke-width="0.9"/>
<line x1="727.0" y1="194.5" x2="730.0" y2="195.7" stroke="#4a4a4a" stroke-width="0.9"/>
<line x1="783.0" y1="181.6" x2="786.0" y2="182.8" stroke="#4a4a4a" stroke-width="0.9"/>
<line x1="615.0" y1="220.4" x2="611.9" y2="221.1" stroke="#4a4a4a" stroke-width="0.9"/>
<line x1="588.2" y1="209.5" x2="585.1" y2="210.2" stroke="#4a4a4a" stroke-width="0.9"/>
<line x1="561.5" y1="198.6" x2="558.4" y2="199.3" stroke="#4a4a4a" stroke-width="0.9"/>
<line x1="534.7" y1="187.6" x2="531.6" y2="188.4" stroke="#4a4a4a" stroke-width="0.9"/>
<line x1="508.0" y1="176.7" x2="504.8" y2="177.4" stroke="#4a4a4a" stroke-width="0.9"/>
<line x1="481.2" y1="165.8" x2="478.1" y2="166.5" stroke="#4a4a4a" stroke-width="0.9"/>
<line x1="481.2" y1="165.8" x2="478.2" y2="164.6" stroke="#4a4a4a" stroke-width="0.9"/>
<line x1="481.2" y1="109.0" x2="478.2" y2="107.8" stroke="#4a4a4a" stroke-width="0.9"/>
<line x1="481.2" y1="52.2" x2="478.2" y2="51.0" stroke="#4a4a4a" stroke-width="0.9"/>
<text x="470.9" y="169.8" font-size="18" text-anchor="end" fill="#262626" >0</text>
<text x="470.9" y="113.0" font-size="18" text-anchor="end" fill="#262626" >1</text>
<text x="470.9" y="56.2" font-size="18" text-anchor="end" fill="#262626" >2</text>
<text x="606.1" y="225.0" font-size="18" text-anchor="end" fill="#262626" transform="rotate(-59 606.1 225.0)" dy="6.4">0</text>
<text x="579.3" y="214.1" font-size="18" text-anchor="end" fill="#262626" transform="rotate(-59 579.3 214.1)" dy="6.4">200</text>
<text x="552.6" y="203.2" font-size="18" text-anchor="end" fill="#262626" transform="rotate(-59 552.6 203.2)" dy="6.4">400</text>
<text x="525.8" y="192.2" font-size="18" text-anchor="end" fill="#262626" transform="rotate(-59 525.8 192.2)" dy="6.4">600</text>
<text x="499.1" y="181.3" font-size="18" text-anchor="end" fill="#262626" transform="rotate(-59 499.1 181.3)" dy="6.4">800</text>
<text x="472.3" y="170.4" font-size="18" text-anchor="end" fill="#262626" transform="rotate(-59 472.3 170.4)" dy="6.4">1000</text>
<text x="628.6" y="243.1" font-size="18" text-anchor="middle" fill="#262626" >0</text>
<text x="684.8" y="230.2" font-size="18" text-anchor="middle" fill="#262626" >5</text>
<text x="744.1" y="217.2" font-size="18" text-anchor="middle" fill="#262626" >10</text>
<text x="801.0" y="204.3" font-size="18" text-anchor="middle" fill="#262626" >15</text>
<text x="760.3" y="258.9" font-size="20.6" text-anchor="middle" fill="#262626" >Distance x</text>
<text x="485.5" y="281.1" font-size="20.6" text-anchor="middle" fill="#262626" >Time t</text>
<text x="451.5" y="104.4" font-size="21" text-anchor="middle" fill="#262626" transform="rotate(-90 451.5 104.4)" >v(x,t)</text>
<g shape-rendering="crispEdges">
<rect x="101.00" y="397" width="11.49" height="170.21" fill="url(#ah0)"/>
<rect x="101.00" y="566.71" width="11.49" height="39.29" fill="url(#af0)"/>
<rect x="111.89" y="397" width="11.49" height="170.21" fill="url(#ah1)"/>
<rect x="111.89" y="566.71" width="11.49" height="39.29" fill="url(#af1)"/>
<rect x="122.78" y="397" width="11.49" height="170.21" fill="url(#ah2)"/>
<rect x="122.78" y="566.71" width="11.49" height="39.29" fill="url(#af2)"/>
<rect x="133.67" y="397" width="11.49" height="170.21" fill="url(#ah3)"/>
<rect x="133.67" y="566.71" width="11.49" height="39.29" fill="url(#af3)"/>
<rect x="144.55" y="397" width="11.49" height="170.21" fill="url(#ah4)"/>
<rect x="144.55" y="566.71" width="11.49" height="39.29" fill="url(#af4)"/>
<rect x="155.44" y="397" width="11.49" height="170.21" fill="url(#ah5)"/>
<rect x="155.44" y="566.71" width="11.49" height="39.29" fill="url(#af5)"/>
<rect x="166.33" y="397" width="11.49" height="170.21" fill="url(#ah6)"/>
<rect x="166.33" y="566.71" width="11.49" height="39.29" fill="url(#af6)"/>
<rect x="177.22" y="397" width="11.49" height="170.21" fill="url(#ah7)"/>
<rect x="177.22" y="566.71" width="11.49" height="39.29" fill="url(#af7)"/>
<rect x="188.11" y="397" width="11.49" height="170.21" fill="url(#ah8)"/>
<rect x="188.11" y="566.71" width="11.49" height="39.29" fill="url(#af8)"/>
<rect x="199.00" y="397" width="11.49" height="170.21" fill="url(#ah9)"/>
<rect x="199.00" y="566.71" width="11.49" height="39.29" fill="url(#af9)"/>
<rect x="209.88" y="397" width="11.49" height="170.21" fill="url(#ah10)"/>
<rect x="209.88" y="566.71" width="11.49" height="39.29" fill="url(#af10)"/>
<rect x="220.77" y="397" width="11.49" height="170.21" fill="url(#ah11)"/>
<rect x="220.77" y="566.71" width="11.49" height="39.29" fill="url(#af11)"/>
<rect x="231.66" y="397" width="11.49" height="170.21" fill="url(#ah12)"/>
<rect x="231.66" y="566.71" width="11.49" height="39.29" fill="url(#af12)"/>
<rect x="242.55" y="397" width="11.49" height="170.21" fill="url(#ah13)"/>
<rect x="242.55" y="566.71" width="11.49" height="39.29" fill="url(#af13)"/>
<rect x="253.44" y="397" width="11.49" height="170.21" fill="url(#ah14)"/>
<rect x="253.44" y="566.71" width="11.49" height="39.29" fill="url(#af14)"/>
<rect x="264.33" y="397" width="11.49" height="170.21" fill="url(#ah15)"/>
<rect x="264.33" y="566.71" width="11.49" height="39.29" fill="url(#af15)"/>
<rect x="275.22" y="397" width="11.49" height="170.21" fill="url(#ah16)"/>
<rect x="275.22" y="566.71" width="11.49" height="39.29" fill="url(#af16)"/>
<rect x="286.10" y="397" width="11.49" height="170.21" fill="url(#ah17)"/>
<rect x="286.10" y="566.71" width="11.49" height="39.29" fill="url(#af17)"/>
<rect x="296.99" y="397" width="11.49" height="170.21" fill="url(#ah18)"/>
<rect x="296.99" y="566.71" width="11.49" height="39.29" fill="url(#af18)"/>
<rect x="307.88" y="397" width="11.49" height="170.21" fill="url(#ah19)"/>
<rect x="307.88" y="566.71" width="11.49" height="39.29" fill="url(#af19)"/>
<rect x="318.77" y="397" width="11.49" height="170.21" fill="url(#ah20)"/>
<rect x="318.77" y="566.71" width="11.49" height="39.29" fill="url(#af20)"/>
<rect x="329.66" y="397" width="11.49" height="170.21" fill="url(#ah21)"/>
<rect x="329.66" y="566.71" width="11.49" height="39.29" fill="url(#af21)"/>
<rect x="340.55" y="397" width="11.49" height="170.21" fill="url(#ah22)"/>
<rect x="340.55" y="566.71" width="11.49" height="39.29" fill="url(#af22)"/>
<rect x="351.43" y="397" width="11.49" height="170.21" fill="url(#ah23)"/>
<rect x="351.43" y="566.71" width="11.49" height="39.29" fill="url(#af23)"/>
<rect x="362.32" y="397" width="11.49" height="170.21" fill="url(#ah24)"/>
<rect x="362.32" y="566.71" width="11.49" height="39.29" fill="url(#af24)"/>
<rect x="373.21" y="397" width="11.49" height="170.21" fill="url(#ah25)"/>
<rect x="373.21" y="566.71" width="11.49" height="39.29" fill="url(#af25)"/>
</g>
<text x="94.7" y="612.8" font-size="18" text-anchor="end" fill="#262626" >0</text>
<text x="94.7" y="571.0" font-size="18" text-anchor="end" fill="#262626" >200</text>
<text x="94.7" y="529.2" font-size="18" text-anchor="end" fill="#262626" >400</text>
<text x="94.7" y="487.4" font-size="18" text-anchor="end" fill="#262626" >600</text>
<text x="94.7" y="445.6" font-size="18" text-anchor="end" fill="#262626" >800</text>
<text x="94.7" y="403.8" font-size="18" text-anchor="end" fill="#262626" >1000</text>
<text x="101.0" y="630.7" font-size="18" text-anchor="middle" fill="#262626" >0</text>
<text x="191.1" y="630.7" font-size="18" text-anchor="middle" fill="#262626" >5</text>
<text x="281.2" y="630.7" font-size="18" text-anchor="middle" fill="#262626" >10</text>
<text x="371.3" y="630.7" font-size="18" text-anchor="middle" fill="#262626" >15</text>
<text x="242.6" y="657.5" font-size="20.6" text-anchor="middle" fill="#262626" >Distance x</text>
<text x="242.6" y="391.0" font-size="20" text-anchor="middle" fill="#262626" >u(x,t)</text>
<text x="45.5" y="501.5" font-size="20.6" text-anchor="middle" fill="#262626" transform="rotate(-90 45.5 501.5)" >Time t</text>
<g shape-rendering="crispEdges">
<rect x="506.20" y="397" width="11.49" height="170.21" fill="url(#bh0)"/>
<rect x="506.20" y="566.71" width="11.49" height="39.29" fill="url(#bf0)"/>
<rect x="517.09" y="397" width="11.49" height="170.21" fill="url(#bh1)"/>
<rect x="517.09" y="566.71" width="11.49" height="39.29" fill="url(#bf1)"/>
<rect x="527.98" y="397" width="11.49" height="170.21" fill="url(#bh2)"/>
<rect x="527.98" y="566.71" width="11.49" height="39.29" fill="url(#bf2)"/>
<rect x="538.87" y="397" width="11.49" height="170.21" fill="url(#bh3)"/>
<rect x="538.87" y="566.71" width="11.49" height="39.29" fill="url(#bf3)"/>
<rect x="549.75" y="397" width="11.49" height="170.21" fill="url(#bh4)"/>
<rect x="549.75" y="566.71" width="11.49" height="39.29" fill="url(#bf4)"/>
<rect x="560.64" y="397" width="11.49" height="170.21" fill="url(#bh5)"/>
<rect x="560.64" y="566.71" width="11.49" height="39.29" fill="url(#bf5)"/>
<rect x="571.53" y="397" width="11.49" height="170.21" fill="url(#bh6)"/>
<rect x="571.53" y="566.71" width="11.49" height="39.29" fill="url(#bf6)"/>
<rect x="582.42" y="397" width="11.49" height="170.21" fill="url(#bh7)"/>
<rect x="582.42" y="566.71" width="11.49" height="39.29" fill="url(#bf7)"/>
<rect x="593.31" y="397" width="11.49" height="170.21" fill="url(#bh8)"/>
<rect x="593.31" y="566.71" width="11.49" height="39.29" fill="url(#bf8)"/>
<rect x="604.20" y="397" width="11.49" height="170.21" fill="url(#bh9)"/>
<rect x="604.20" y="566.71" width="11.49" height="39.29" fill="url(#bf9)"/>
<rect x="615.08" y="397" width="11.49" height="170.21" fill="url(#bh10)"/>
<rect x="615.08" y="566.71" width="11.49" height="39.29" fill="url(#bf10)"/>
<rect x="625.97" y="397" width="11.49" height="170.21" fill="url(#bh11)"/>
<rect x="625.97" y="566.71" width="11.49" height="39.29" fill="url(#bf11)"/>
<rect x="636.86" y="397" width="11.49" height="170.21" fill="url(#bh12)"/>
<rect x="636.86" y="566.71" width="11.49" height="39.29" fill="url(#bf12)"/>
<rect x="647.75" y="397" width="11.49" height="170.21" fill="url(#bh13)"/>
<rect x="647.75" y="566.71" width="11.49" height="39.29" fill="url(#bf13)"/>
<rect x="658.64" y="397" width="11.49" height="170.21" fill="url(#bh14)"/>
<rect x="658.64" y="566.71" width="11.49" height="39.29" fill="url(#bf14)"/>
<rect x="669.53" y="397" width="11.49" height="170.21" fill="url(#bh15)"/>
<rect x="669.53" y="566.71" width="11.49" height="39.29" fill="url(#bf15)"/>
<rect x="680.42" y="397" width="11.49" height="170.21" fill="url(#bh16)"/>
<rect x="680.42" y="566.71" width="11.49" height="39.29" fill="url(#bf16)"/>
<rect x="691.30" y="397" width="11.49" height="170.21" fill="url(#bh17)"/>
<rect x="691.30" y="566.71" width="11.49" height="39.29" fill="url(#bf17)"/>
<rect x="702.19" y="397" width="11.49" height="170.21" fill="url(#bh18)"/>
<rect x="702.19" y="566.71" width="11.49" height="39.29" fill="url(#bf18)"/>
<rect x="713.08" y="397" width="11.49" height="170.21" fill="url(#bh19)"/>
<rect x="713.08" y="566.71" width="11.49" height="39.29" fill="url(#bf19)"/>
<rect x="723.97" y="397" width="11.49" height="170.21" fill="url(#bh20)"/>
<rect x="723.97" y="566.71" width="11.49" height="39.29" fill="url(#bf20)"/>
<rect x="734.86" y="397" width="11.49" height="170.21" fill="url(#bh21)"/>
<rect x="734.86" y="566.71" width="11.49" height="39.29" fill="url(#bf21)"/>
<rect x="745.75" y="397" width="11.49" height="170.21" fill="url(#bh22)"/>
<rect x="745.75" y="566.71" width="11.49" height="39.29" fill="url(#bf22)"/>
<rect x="756.63" y="397" width="11.49" height="170.21" fill="url(#bh23)"/>
<rect x="756.63" y="566.71" width="11.49" height="39.29" fill="url(#bf23)"/>
<rect x="767.52" y="397" width="11.49" height="170.21" fill="url(#bh24)"/>
<rect x="767.52" y="566.71" width="11.49" height="39.29" fill="url(#bf24)"/>
<rect x="778.41" y="397" width="11.49" height="170.21" fill="url(#bh25)"/>
<rect x="778.41" y="566.71" width="11.49" height="39.29" fill="url(#bf25)"/>
</g>
<text x="499.9" y="612.8" font-size="18" text-anchor="end" fill="#262626" >0</text>
<text x="499.9" y="571.0" font-size="18" text-anchor="end" fill="#262626" >200</text>
<text x="499.9" y="529.2" font-size="18" text-anchor="end" fill="#262626" >400</text>
<text x="499.9" y="487.4" font-size="18" text-anchor="end" fill="#262626" >600</text>
<text x="499.9" y="445.6" font-size="18" text-anchor="end" fill="#262626" >800</text>
<text x="499.9" y="403.8" font-size="18" text-anchor="end" fill="#262626" >1000</text>
<text x="506.2" y="630.7" font-size="18" text-anchor="middle" fill="#262626" >0</text>
<text x="596.3" y="630.7" font-size="18" text-anchor="middle" fill="#262626" >5</text>
<text x="686.4" y="630.7" font-size="18" text-anchor="middle" fill="#262626" >10</text>
<text x="776.5" y="630.7" font-size="18" text-anchor="middle" fill="#262626" >15</text>
<text x="647.8" y="657.5" font-size="20.6" text-anchor="middle" fill="#262626" >Distance x</text>
<text x="647.8" y="391.0" font-size="20" text-anchor="middle" fill="#262626" >v(x,t)</text>
<text x="450.7" y="501.5" font-size="20.6" text-anchor="middle" fill="#262626" transform="rotate(-90 450.7 501.5)" >Time t</text>
<text class="s" x="108.7" y="308.9" font-size="17.5" fill="#1a1a1a" textLength="24.0" lengthAdjust="spacingAndGlyphs" >(<tspan font-size="13.5">A</tspan>)</text>
<text class="s" x="153.2" y="308.9" font-size="17.5" fill="#1a1a1a" textLength="217.0" lengthAdjust="spacingAndGlyphs" >Numerical simulations of</text>
<text class="s" x="380.4" y="308.9" font-size="17.5" fill="#1a1a1a" textLength="9.5" lengthAdjust="spacingAndGlyphs" font-style="italic">u</text>
<text class="s" x="401.3" y="308.9" font-size="17.5" fill="#1a1a1a" textLength="28.5" lengthAdjust="spacingAndGlyphs" >and</text>
<text class="s" x="441.7" y="308.9" font-size="17.5" fill="#1a1a1a" textLength="8.5" lengthAdjust="spacingAndGlyphs" font-style="italic">v</text>
<text class="s" x="450.5" y="308.9" font-size="17.5" fill="#1a1a1a" textLength="168.0" lengthAdjust="spacingAndGlyphs" >.(Left:(u,x,t)-plane,</text>
<text class="s" x="628.7" y="308.9" font-size="17.5" fill="#1a1a1a" textLength="112.3" lengthAdjust="spacingAndGlyphs" >Right:(v,x,t)-</text>
<text class="s" x="108.7" y="332.5" font-size="17.5" fill="#1a1a1a" textLength="50.0" lengthAdjust="spacingAndGlyphs" >plane.)</text>
<text class="s" x="119.8" y="688.4" font-size="17.5" fill="#1a1a1a" textLength="24.0" lengthAdjust="spacingAndGlyphs" >(<tspan font-size="13.5">B</tspan>)</text>
<text class="s" x="162.0" y="688.4" font-size="17.5" fill="#1a1a1a" textLength="210.0" lengthAdjust="spacingAndGlyphs" >The projection of Figure</text>
<text class="s" x="380.2" y="688.4" font-size="17.5" fill="#e8202a" textLength="8.8" lengthAdjust="spacingAndGlyphs" >8</text>
<text class="s" x="389.6" y="688.4" font-size="17.5" fill="#1a1a1a" textLength="174.2" lengthAdjust="spacingAndGlyphs" >(a).(Left:(u,t)-plane,</text>
<text class="s" x="573.6" y="688.4" font-size="17.5" fill="#1a1a1a" textLength="156.4" lengthAdjust="spacingAndGlyphs" >Right:(v,t)-plane.)</text>
</svg></body></html>
